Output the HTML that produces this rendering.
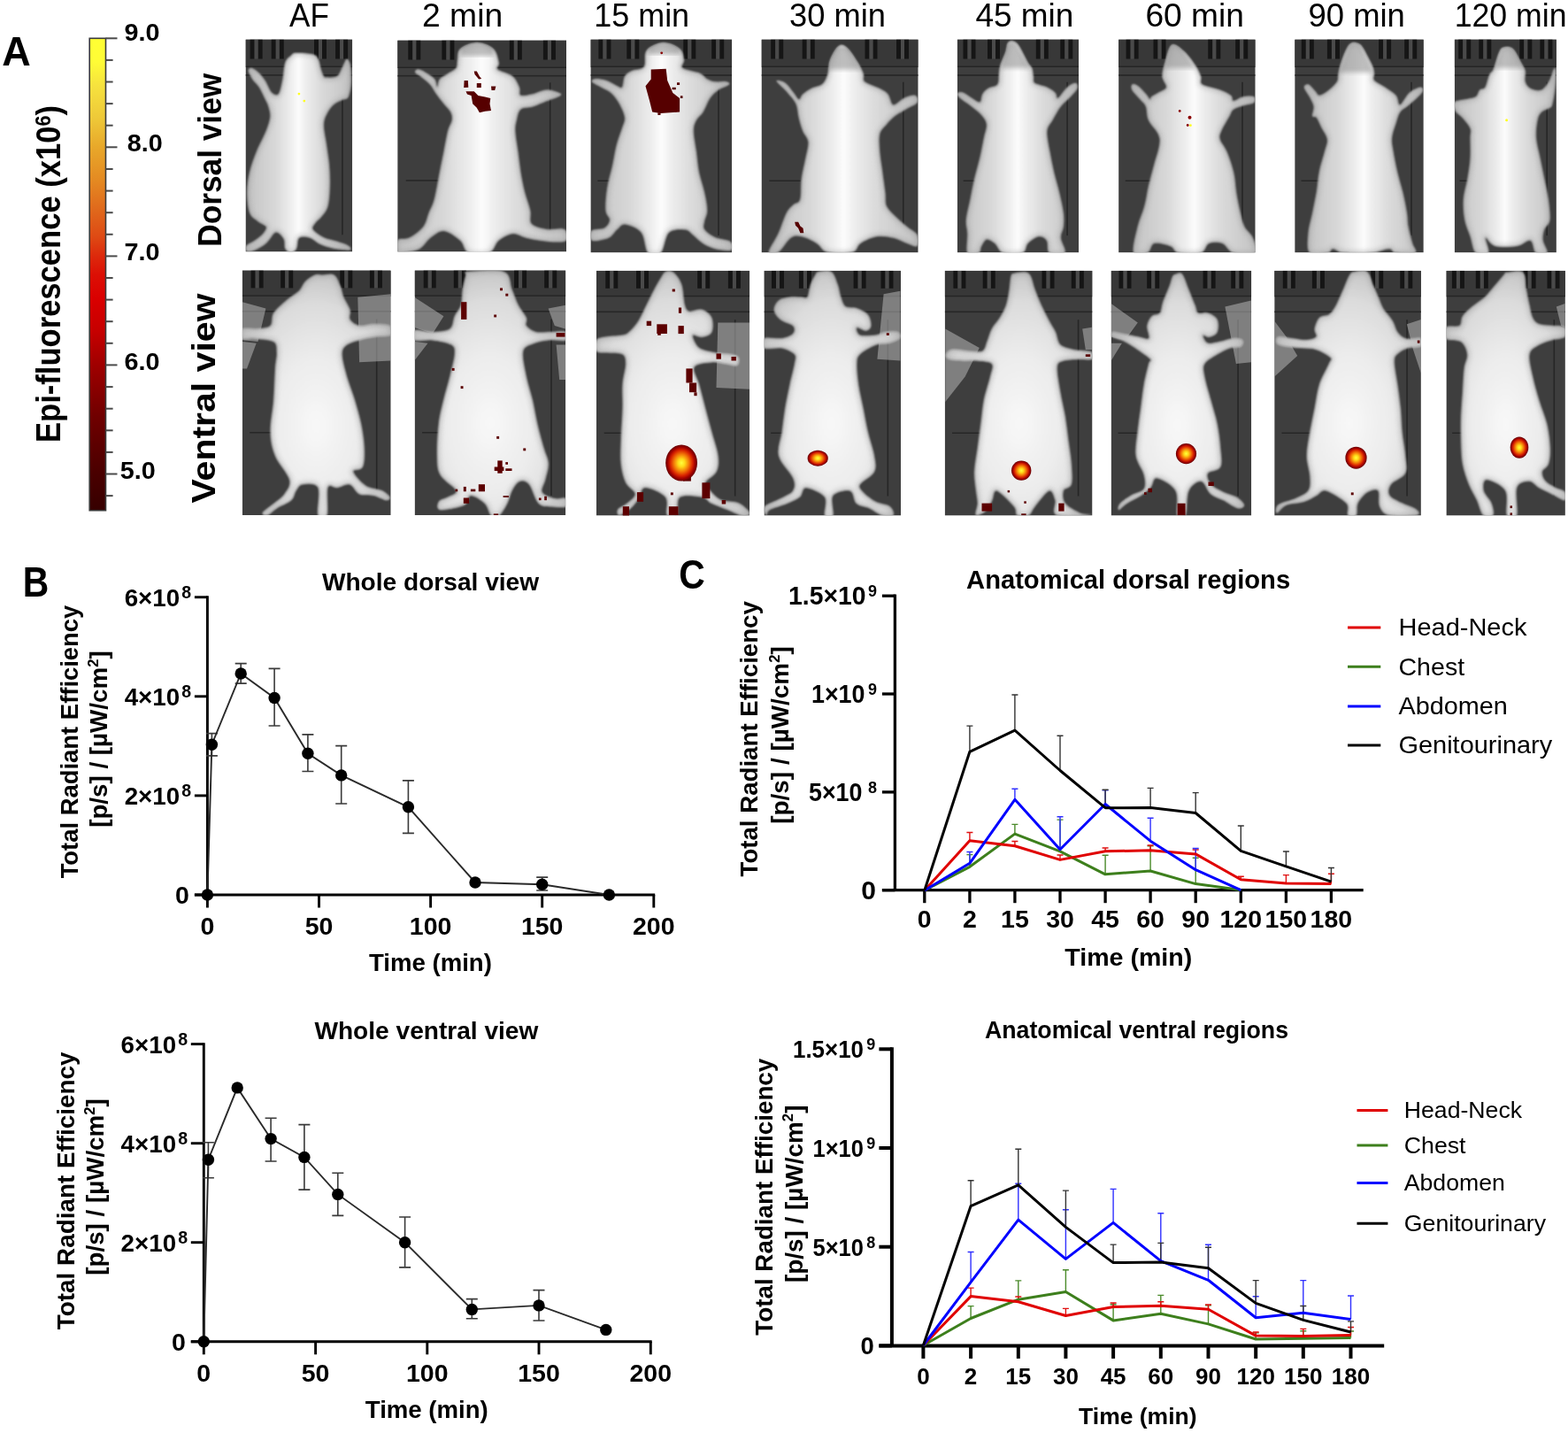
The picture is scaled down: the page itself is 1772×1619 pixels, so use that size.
<!DOCTYPE html>
<html><head><meta charset="utf-8"><title>Figure</title>
<style>html,body{margin:0;padding:0;background:#fff;} svg{display:block;}</style>
</head><body>
<svg width="1772" height="1619" viewBox="0 0 1772 1619" font-family="'Liberation Sans', Arial, sans-serif">
<defs>
<linearGradient id="cbar" x1="0" y1="0" x2="0" y2="1">
<stop offset="0" stop-color="#ffff33"/>
<stop offset="0.05" stop-color="#fffc36"/>
<stop offset="0.1" stop-color="#f6e23e"/>
<stop offset="0.17" stop-color="#eec838"/>
<stop offset="0.23" stop-color="#e8a82a"/>
<stop offset="0.3" stop-color="#e48a22"/>
<stop offset="0.36" stop-color="#e06a1c"/>
<stop offset="0.42" stop-color="#de4a14"/>
<stop offset="0.46" stop-color="#dd2a0c"/>
<stop offset="0.5" stop-color="#dc1005"/>
<stop offset="0.55" stop-color="#da0000"/>
<stop offset="0.62" stop-color="#c60000"/>
<stop offset="0.69" stop-color="#a00000"/>
<stop offset="0.8" stop-color="#700000"/>
<stop offset="0.92" stop-color="#4a0000"/>
<stop offset="1" stop-color="#360000"/>
</linearGradient>
<linearGradient id="mbody" x1="0" y1="0" x2="1" y2="0">
<stop offset="0" stop-color="#c2c2c2"/>
<stop offset="0.28" stop-color="#d8d8d8"/>
<stop offset="0.42" stop-color="#ececec"/>
<stop offset="0.5" stop-color="#fcfcfc"/>
<stop offset="0.58" stop-color="#ececec"/>
<stop offset="0.72" stop-color="#dadada"/>
<stop offset="1" stop-color="#c2c2c2"/>
</linearGradient>
<radialGradient id="vbody" cx="0.5" cy="0.62" r="0.62">
<stop offset="0" stop-color="#f8f8f8"/>
<stop offset="0.45" stop-color="#ececec"/>
<stop offset="0.8" stop-color="#dcdcdc"/>
<stop offset="1" stop-color="#c6c6c6"/>
</radialGradient>
<radialGradient id="hot" cx="0.5" cy="0.5" r="0.5">
<stop offset="0" stop-color="#ffff40"/>
<stop offset="0.22" stop-color="#ffd818"/>
<stop offset="0.48" stop-color="#f27808"/>
<stop offset="0.7" stop-color="#d82400"/>
<stop offset="0.86" stop-color="#a00000"/>
<stop offset="1" stop-color="#640000"/>
</radialGradient>
<filter id="blur1" x="-10%" y="-10%" width="120%" height="120%"><feGaussianBlur stdDeviation="1.2"/></filter>
<filter id="blur2" x="-10%" y="-10%" width="120%" height="120%"><feGaussianBlur stdDeviation="2.5"/></filter>
<clipPath id="clp0"><rect x="277.5" y="44.5" width="120.7" height="240"/></clipPath>
<clipPath id="clp1"><rect x="449.2" y="45.5" width="190.8" height="239"/></clipPath>
<clipPath id="clp2"><rect x="667.4" y="44.5" width="159.8" height="240.9"/></clipPath>
<clipPath id="clp3"><rect x="860.5" y="44.5" width="177.2" height="240.9"/></clipPath>
<clipPath id="clp4"><rect x="1081.8" y="44.5" width="137.2" height="240.9"/></clipPath>
<clipPath id="clp5"><rect x="1264.1" y="44.5" width="154.6" height="240.9"/></clipPath>
<clipPath id="clp6"><rect x="1463.2" y="44.5" width="145.6" height="240.9"/></clipPath>
<clipPath id="clp7"><rect x="1643.7" y="44.5" width="115.2" height="240.9"/></clipPath>
<clipPath id="clp10"><rect x="273.8" y="305.4" width="167.9" height="276.6"/></clipPath>
<clipPath id="clp11"><rect x="468.6" y="305.4" width="170.7" height="276.6"/></clipPath>
<clipPath id="clp12"><rect x="674" y="305.8" width="173.2" height="276.8"/></clipPath>
<clipPath id="clp13"><rect x="863.5" y="305.8" width="154.5" height="276.8"/></clipPath>
<clipPath id="clp14"><rect x="1067.7" y="305.8" width="166.8" height="276.8"/></clipPath>
<clipPath id="clp15"><rect x="1255.6" y="305.8" width="158.6" height="276.8"/></clipPath>
<clipPath id="clp16"><rect x="1440.2" y="305.8" width="165.7" height="276.8"/></clipPath>
<clipPath id="clp17"><rect x="1634.4" y="305.8" width="134.5" height="276.8"/></clipPath>
</defs>
<rect width="1772" height="1619" fill="#fff"/>
<text x="2.2" y="73.6" font-size="46.5" font-weight="bold" text-anchor="start" fill="#000" textLength="32.5" lengthAdjust="spacingAndGlyphs">A</text>
<rect x="101.2" y="43.3" width="18.3" height="533.4" fill="url(#cbar)" stroke="#3a3a3a" stroke-width="1.6"/>
<line x1="119.5" y1="43.3" x2="132.5" y2="43.3" stroke="#4a4a4a" stroke-width="2"/>
<line x1="119.5" y1="67.9" x2="127.6" y2="67.9" stroke="#4a4a4a" stroke-width="2"/>
<line x1="119.5" y1="92.5" x2="127.6" y2="92.5" stroke="#4a4a4a" stroke-width="2"/>
<line x1="119.5" y1="117.1" x2="127.6" y2="117.1" stroke="#4a4a4a" stroke-width="2"/>
<line x1="119.5" y1="141.7" x2="127.6" y2="141.7" stroke="#4a4a4a" stroke-width="2"/>
<line x1="119.5" y1="166.3" x2="132.5" y2="166.3" stroke="#4a4a4a" stroke-width="2"/>
<line x1="119.5" y1="191" x2="127.6" y2="191" stroke="#4a4a4a" stroke-width="2"/>
<line x1="119.5" y1="215.6" x2="127.6" y2="215.6" stroke="#4a4a4a" stroke-width="2"/>
<line x1="119.5" y1="240.2" x2="127.6" y2="240.2" stroke="#4a4a4a" stroke-width="2"/>
<line x1="119.5" y1="264.8" x2="127.6" y2="264.8" stroke="#4a4a4a" stroke-width="2"/>
<line x1="119.5" y1="289.4" x2="132.5" y2="289.4" stroke="#4a4a4a" stroke-width="2"/>
<line x1="119.5" y1="314" x2="127.6" y2="314" stroke="#4a4a4a" stroke-width="2"/>
<line x1="119.5" y1="338.6" x2="127.6" y2="338.6" stroke="#4a4a4a" stroke-width="2"/>
<line x1="119.5" y1="363.2" x2="127.6" y2="363.2" stroke="#4a4a4a" stroke-width="2"/>
<line x1="119.5" y1="387.8" x2="127.6" y2="387.8" stroke="#4a4a4a" stroke-width="2"/>
<line x1="119.5" y1="412.4" x2="132.5" y2="412.4" stroke="#4a4a4a" stroke-width="2"/>
<line x1="119.5" y1="437.1" x2="127.6" y2="437.1" stroke="#4a4a4a" stroke-width="2"/>
<line x1="119.5" y1="461.7" x2="127.6" y2="461.7" stroke="#4a4a4a" stroke-width="2"/>
<line x1="119.5" y1="486.3" x2="127.6" y2="486.3" stroke="#4a4a4a" stroke-width="2"/>
<line x1="119.5" y1="510.9" x2="127.6" y2="510.9" stroke="#4a4a4a" stroke-width="2"/>
<line x1="119.5" y1="535.5" x2="132.5" y2="535.5" stroke="#4a4a4a" stroke-width="2"/>
<line x1="119.5" y1="560.1" x2="127.6" y2="560.1" stroke="#4a4a4a" stroke-width="2"/>
<text x="140.4" y="46.3" font-size="27" font-weight="bold" text-anchor="start" fill="#000" textLength="40" lengthAdjust="spacingAndGlyphs">9.0</text>
<text x="143.7" y="170.5" font-size="27" font-weight="bold" text-anchor="start" fill="#000" textLength="40" lengthAdjust="spacingAndGlyphs">8.0</text>
<text x="140.6" y="294" font-size="27" font-weight="bold" text-anchor="start" fill="#000" textLength="40" lengthAdjust="spacingAndGlyphs">7.0</text>
<text x="140.6" y="418" font-size="27" font-weight="bold" text-anchor="start" fill="#000" textLength="40" lengthAdjust="spacingAndGlyphs">6.0</text>
<text x="135.8" y="541" font-size="27" font-weight="bold" text-anchor="start" fill="#000" textLength="40" lengthAdjust="spacingAndGlyphs">5.0</text>
<text x="0" y="0" transform="translate(68.3,309.5) rotate(-90)" font-size="38.5" font-weight="bold" text-anchor="middle" textLength="381" lengthAdjust="spacingAndGlyphs">Epi-fluorescence (x10<tspan font-size="24" dy="-11.5">6</tspan><tspan dy="11.5">)</tspan></text>
<text x="0" y="0" transform="translate(249.5,180.8) rotate(-90)" font-size="37" font-weight="bold" text-anchor="middle" fill="#000" textLength="196" lengthAdjust="spacingAndGlyphs">Dorsal view</text>
<text x="0" y="0" transform="translate(242.8,450) rotate(-90)" font-size="37" font-weight="bold" text-anchor="middle" fill="#000" textLength="237" lengthAdjust="spacingAndGlyphs">Ventral view</text>
<text x="327.1" y="30" font-size="36" text-anchor="start" fill="#000" textLength="44.8" lengthAdjust="spacingAndGlyphs">AF</text>
<text x="477" y="30" font-size="36" text-anchor="start" fill="#000" textLength="91.2" lengthAdjust="spacingAndGlyphs">2 min</text>
<text x="671.3" y="30" font-size="36" text-anchor="start" fill="#000" textLength="107.8" lengthAdjust="spacingAndGlyphs">15 min</text>
<text x="892" y="30" font-size="36" text-anchor="start" fill="#000" textLength="108.9" lengthAdjust="spacingAndGlyphs">30 min</text>
<text x="1102.4" y="30" font-size="36" text-anchor="start" fill="#000" textLength="111" lengthAdjust="spacingAndGlyphs">45 min</text>
<text x="1294.4" y="30" font-size="36" text-anchor="start" fill="#000" textLength="111.5" lengthAdjust="spacingAndGlyphs">60 min</text>
<text x="1478.5" y="30" font-size="36" text-anchor="start" fill="#000" textLength="109.4" lengthAdjust="spacingAndGlyphs">90 min</text>
<text x="1643.7" y="30" font-size="36" text-anchor="start" fill="#000" textLength="126.8" lengthAdjust="spacingAndGlyphs">120 min</text>
<g clip-path="url(#clp0)">
<rect x="277.5" y="44.5" width="120.7" height="240" fill="#3e3e3e"/>
<rect x="277.5" y="44.5" width="120.7" height="30" fill="#383838"/>
<rect x="277.5" y="74.5" width="120.7" height="1.5" fill="#252525"/>
<rect x="282.6" y="44.5" width="5" height="22" fill="#151515"/>
<rect x="291.6" y="44.5" width="5" height="22" fill="#151515"/>
<rect x="287.6" y="44.5" width="4" height="22" fill="#4a4a4a"/>
<rect x="306.7" y="44.5" width="5" height="22" fill="#151515"/>
<rect x="315.7" y="44.5" width="5" height="22" fill="#151515"/>
<rect x="311.7" y="44.5" width="4" height="22" fill="#4a4a4a"/>
<rect x="355" y="44.5" width="5" height="22" fill="#151515"/>
<rect x="364" y="44.5" width="5" height="22" fill="#151515"/>
<rect x="360" y="44.5" width="4" height="22" fill="#4a4a4a"/>
<rect x="379.1" y="44.5" width="5" height="22" fill="#151515"/>
<rect x="388.1" y="44.5" width="5" height="22" fill="#151515"/>
<rect x="384.1" y="44.5" width="4" height="22" fill="#4a4a4a"/>
<rect x="277.5" y="84.1" width="120.7" height="1.6" fill="#262626"/>
<rect x="386.1" y="92.5" width="1.6" height="172.8" fill="#262626"/>
<rect x="283.5" y="202.9" width="24.1" height="1.5" fill="#262626"/>
<path d="M334.8,60.1 C338.9,59.8 349.2,60.5 353.3,61.6 C357.5,62.8 358,64.2 359.5,67 C361.1,69.8 361.6,75.4 362.6,78.6 C363.6,81.8 364.7,84.8 365.7,86.3 C366.7,87.8 366.2,87.8 368.8,87.8 C371.4,87.8 378,88.4 381.1,86.3 C384.2,84.2 385.5,78.7 387.3,75.5 C389.1,72.3 390.5,67.3 391.9,67 C393.3,66.8 395,69.5 395.8,74 C396.6,78.5 396.9,88.1 396.6,94 C396.2,99.9 395,106.4 393.5,109.5 C391.9,112.5 389.9,111.3 387.3,112.5 C384.7,113.8 380.9,114.9 378,117.2 C375.2,119.5 372.4,122.6 370.3,126.4 C368.3,130.3 366,134.2 365.7,140.3 C365.4,146.5 367.8,155.8 368.8,163.5 C369.8,171.2 371.2,178.9 371.9,186.6 C372.5,194.3 372.9,202.1 372.6,209.8 C372.4,217.5 372,227 370.3,232.9 C368.7,238.8 364.9,242.2 362.6,245.3 C360.3,248.4 358,249.1 356.4,251.5 C354.9,253.8 351.8,256.3 353.3,259.2 C354.9,262 361.1,266.1 365.7,268.4 C370.3,270.7 376.5,271.5 381.1,273.1 C385.8,274.6 391.2,276.1 393.5,277.7 C395.8,279.2 397.6,281.8 395,282.3 C392.4,282.8 383.4,281.8 378,280.8 C372.6,279.7 367.2,278.2 362.6,276.1 C358,274.1 354.4,269.7 350.3,268.4 C346.1,267.1 340.5,266.4 337.9,268.4 C335.3,270.5 336.4,277.9 334.8,280.8 C333.3,283.6 330.7,285.4 328.7,285.4 C326.6,285.4 323.8,283.4 322.5,280.8 C321.2,278.2 322.7,273.1 320.9,270 C319.1,266.9 315,261.5 311.7,262.3 C308.3,263 304.7,271.3 300.9,274.6 C297,277.9 292.1,280.8 288.5,282.3 C284.9,283.9 280.9,284.6 279.3,283.9 C277.6,283.1 276.9,279.7 278.5,277.7 C280,275.6 285.3,273.8 288.5,271.5 C291.7,269.2 295.7,266.4 297.8,263.8 C299.8,261.2 301.9,258.4 300.9,256.1 C299.8,253.8 294.7,252.5 291.6,249.9 C288.5,247.3 284.4,246.1 282.3,240.6 C280.3,235.2 279.3,225.2 279.3,217.5 C279.3,209.8 280.5,202.1 282.3,194.3 C284.1,186.6 287,178.9 290.1,171.2 C293.2,163.5 298.3,154.5 300.9,148 C303.4,141.6 305,137 305.5,132.6 C306,128.2 304.7,124.9 304,121.8 C303.2,118.7 302.7,117.9 300.9,114.1 C299.1,110.2 295.7,102.8 293.2,98.7 C290.6,94.5 287.5,92.5 285.4,89.4 C283.4,86.3 281.1,82.2 280.8,80.1 C280.5,78.1 282.1,76.8 283.9,77 C285.7,77.3 289,79.4 291.6,81.7 C294.2,84 296.8,87.1 299.3,90.9 C301.9,94.8 304.5,102.3 307,104.8 C309.6,107.4 312.7,108.7 314.8,106.4 C316.8,104.1 318.1,96.9 319.4,90.9 C320.7,85 320.9,75.5 322.5,70.9 C324,66.2 326.6,65 328.7,63.2 C330.7,61.4 330.7,60.3 334.8,60.1 Z" fill="url(#mbody)" filter="url(#blur1)"/>
<clipPath id="clp0n"><path d="M334.8,60.1 C338.9,59.8 349.2,60.5 353.3,61.6 C357.5,62.8 358,64.2 359.5,67 C361.1,69.8 361.6,75.4 362.6,78.6 C363.6,81.8 364.7,84.8 365.7,86.3 C366.7,87.8 366.2,87.8 368.8,87.8 C371.4,87.8 378,88.4 381.1,86.3 C384.2,84.2 385.5,78.7 387.3,75.5 C389.1,72.3 390.5,67.3 391.9,67 C393.3,66.8 395,69.5 395.8,74 C396.6,78.5 396.9,88.1 396.6,94 C396.2,99.9 395,106.4 393.5,109.5 C391.9,112.5 389.9,111.3 387.3,112.5 C384.7,113.8 380.9,114.9 378,117.2 C375.2,119.5 372.4,122.6 370.3,126.4 C368.3,130.3 366,134.2 365.7,140.3 C365.4,146.5 367.8,155.8 368.8,163.5 C369.8,171.2 371.2,178.9 371.9,186.6 C372.5,194.3 372.9,202.1 372.6,209.8 C372.4,217.5 372,227 370.3,232.9 C368.7,238.8 364.9,242.2 362.6,245.3 C360.3,248.4 358,249.1 356.4,251.5 C354.9,253.8 351.8,256.3 353.3,259.2 C354.9,262 361.1,266.1 365.7,268.4 C370.3,270.7 376.5,271.5 381.1,273.1 C385.8,274.6 391.2,276.1 393.5,277.7 C395.8,279.2 397.6,281.8 395,282.3 C392.4,282.8 383.4,281.8 378,280.8 C372.6,279.7 367.2,278.2 362.6,276.1 C358,274.1 354.4,269.7 350.3,268.4 C346.1,267.1 340.5,266.4 337.9,268.4 C335.3,270.5 336.4,277.9 334.8,280.8 C333.3,283.6 330.7,285.4 328.7,285.4 C326.6,285.4 323.8,283.4 322.5,280.8 C321.2,278.2 322.7,273.1 320.9,270 C319.1,266.9 315,261.5 311.7,262.3 C308.3,263 304.7,271.3 300.9,274.6 C297,277.9 292.1,280.8 288.5,282.3 C284.9,283.9 280.9,284.6 279.3,283.9 C277.6,283.1 276.9,279.7 278.5,277.7 C280,275.6 285.3,273.8 288.5,271.5 C291.7,269.2 295.7,266.4 297.8,263.8 C299.8,261.2 301.9,258.4 300.9,256.1 C299.8,253.8 294.7,252.5 291.6,249.9 C288.5,247.3 284.4,246.1 282.3,240.6 C280.3,235.2 279.3,225.2 279.3,217.5 C279.3,209.8 280.5,202.1 282.3,194.3 C284.1,186.6 287,178.9 290.1,171.2 C293.2,163.5 298.3,154.5 300.9,148 C303.4,141.6 305,137 305.5,132.6 C306,128.2 304.7,124.9 304,121.8 C303.2,118.7 302.7,117.9 300.9,114.1 C299.1,110.2 295.7,102.8 293.2,98.7 C290.6,94.5 287.5,92.5 285.4,89.4 C283.4,86.3 281.1,82.2 280.8,80.1 C280.5,78.1 282.1,76.8 283.9,77 C285.7,77.3 289,79.4 291.6,81.7 C294.2,84 296.8,87.1 299.3,90.9 C301.9,94.8 304.5,102.3 307,104.8 C309.6,107.4 312.7,108.7 314.8,106.4 C316.8,104.1 318.1,96.9 319.4,90.9 C320.7,85 320.9,75.5 322.5,70.9 C324,66.2 326.6,65 328.7,63.2 C330.7,61.4 330.7,60.3 334.8,60.1 Z"/></clipPath>
<g clip-path="url(#clp0n)"><path d="M334.8,60.1 C338.9,59.8 349.2,60.5 353.3,61.6 C357.5,62.8 358,64.2 359.5,67 C361.1,69.8 361.6,75.4 362.6,78.6 C363.6,81.8 364.7,84.8 365.7,86.3 C366.7,87.8 366.2,87.8 368.8,87.8 C371.4,87.8 378,88.4 381.1,86.3 C384.2,84.2 385.5,78.7 387.3,75.5 C389.1,72.3 390.5,67.3 391.9,67 C393.3,66.8 395,69.5 395.8,74 C396.6,78.5 396.9,88.1 396.6,94 C396.2,99.9 395,106.4 393.5,109.5 C391.9,112.5 389.9,111.3 387.3,112.5 C384.7,113.8 380.9,114.9 378,117.2 C375.2,119.5 372.4,122.6 370.3,126.4 C368.3,130.3 366,134.2 365.7,140.3 C365.4,146.5 367.8,155.8 368.8,163.5 C369.8,171.2 371.2,178.9 371.9,186.6 C372.5,194.3 372.9,202.1 372.6,209.8 C372.4,217.5 372,227 370.3,232.9 C368.7,238.8 364.9,242.2 362.6,245.3 C360.3,248.4 358,249.1 356.4,251.5 C354.9,253.8 351.8,256.3 353.3,259.2 C354.9,262 361.1,266.1 365.7,268.4 C370.3,270.7 376.5,271.5 381.1,273.1 C385.8,274.6 391.2,276.1 393.5,277.7 C395.8,279.2 397.6,281.8 395,282.3 C392.4,282.8 383.4,281.8 378,280.8 C372.6,279.7 367.2,278.2 362.6,276.1 C358,274.1 354.4,269.7 350.3,268.4 C346.1,267.1 340.5,266.4 337.9,268.4 C335.3,270.5 336.4,277.9 334.8,280.8 C333.3,283.6 330.7,285.4 328.7,285.4 C326.6,285.4 323.8,283.4 322.5,280.8 C321.2,278.2 322.7,273.1 320.9,270 C319.1,266.9 315,261.5 311.7,262.3 C308.3,263 304.7,271.3 300.9,274.6 C297,277.9 292.1,280.8 288.5,282.3 C284.9,283.9 280.9,284.6 279.3,283.9 C277.6,283.1 276.9,279.7 278.5,277.7 C280,275.6 285.3,273.8 288.5,271.5 C291.7,269.2 295.7,266.4 297.8,263.8 C299.8,261.2 301.9,258.4 300.9,256.1 C299.8,253.8 294.7,252.5 291.6,249.9 C288.5,247.3 284.4,246.1 282.3,240.6 C280.3,235.2 279.3,225.2 279.3,217.5 C279.3,209.8 280.5,202.1 282.3,194.3 C284.1,186.6 287,178.9 290.1,171.2 C293.2,163.5 298.3,154.5 300.9,148 C303.4,141.6 305,137 305.5,132.6 C306,128.2 304.7,124.9 304,121.8 C303.2,118.7 302.7,117.9 300.9,114.1 C299.1,110.2 295.7,102.8 293.2,98.7 C290.6,94.5 287.5,92.5 285.4,89.4 C283.4,86.3 281.1,82.2 280.8,80.1 C280.5,78.1 282.1,76.8 283.9,77 C285.7,77.3 289,79.4 291.6,81.7 C294.2,84 296.8,87.1 299.3,90.9 C301.9,94.8 304.5,102.3 307,104.8 C309.6,107.4 312.7,108.7 314.8,106.4 C316.8,104.1 318.1,96.9 319.4,90.9 C320.7,85 320.9,75.5 322.5,70.9 C324,66.2 326.6,65 328.7,63.2 C330.7,61.4 330.7,60.3 334.8,60.1 Z" fill="none" stroke="#8c8c8c" stroke-width="6" opacity="0.35" filter="url(#blur2)"/></g>
<g clip-path="url(#clp0n)"><polygon points="327.1,44.6 351.8,44.6 350.3,57 328.7,57" fill="#8a8a8a" opacity="0.55" filter="url(#blur2)"/></g>
<circle cx="337.9" cy="106.1" r="1.4" fill="#ffff20"/>
<circle cx="343.8" cy="114.1" r="1.4" fill="#ffff20"/>
</g>
<g clip-path="url(#clp1)">
<rect x="449.2" y="45.5" width="190.8" height="239" fill="#3e3e3e"/>
<rect x="449.2" y="45.5" width="190.8" height="30" fill="#383838"/>
<rect x="449.2" y="75.5" width="190.8" height="1.5" fill="#252525"/>
<rect x="461.3" y="45.5" width="5" height="22" fill="#151515"/>
<rect x="470.3" y="45.5" width="5" height="22" fill="#151515"/>
<rect x="466.3" y="45.5" width="4" height="22" fill="#4a4a4a"/>
<rect x="499.4" y="45.5" width="5" height="22" fill="#151515"/>
<rect x="508.4" y="45.5" width="5" height="22" fill="#151515"/>
<rect x="504.4" y="45.5" width="4" height="22" fill="#4a4a4a"/>
<rect x="575.8" y="45.5" width="5" height="22" fill="#151515"/>
<rect x="584.8" y="45.5" width="5" height="22" fill="#151515"/>
<rect x="580.8" y="45.5" width="4" height="22" fill="#4a4a4a"/>
<rect x="613.9" y="45.5" width="5" height="22" fill="#151515"/>
<rect x="622.9" y="45.5" width="5" height="22" fill="#151515"/>
<rect x="618.9" y="45.5" width="4" height="22" fill="#4a4a4a"/>
<rect x="449.2" y="84.9" width="190.8" height="1.6" fill="#262626"/>
<rect x="620.9" y="93.3" width="1.6" height="172.1" fill="#262626"/>
<rect x="458.7" y="203.2" width="38.2" height="1.5" fill="#262626"/>
<path d="M520.3,55.4 C523.9,52.2 532.6,48.5 538.8,48.5 C545,48.5 553.2,51.7 557.4,55.4 C561.5,59.2 562.8,67 563.5,70.9 C564.3,74.7 559.4,76 562,78.6 C564.6,81.2 574.9,83 579,86.3 C583.1,89.7 585.2,95.1 586.7,98.7 C588.2,102.3 585.7,106.7 588.2,107.9 C590.8,109.2 597.2,107.4 602.1,106.4 C607,105.4 612.7,102 617.6,101.8 C622.5,101.5 628.9,103.8 631.5,104.9 C634,105.9 635.3,106.4 633,107.9 C630.7,109.5 622.7,112.1 617.6,114.1 C612.4,116.2 607,118.8 602.1,120.3 C597.2,121.8 591.3,120.8 588.2,123.4 C585.2,126 584.6,131.6 583.6,135.7 C582.6,139.9 581.8,142.2 582.1,148.1 C582.3,154 584.1,163.5 585.2,171.3 C586.2,179 587,186.7 588.2,194.4 C589.5,202.1 591.1,210.4 592.9,217.6 C594.7,224.8 597.8,231.7 599,237.7 C600.3,243.6 597.5,249.5 600.6,253.1 C603.7,256.7 611.4,258.2 617.6,259.3 C623.8,260.3 633.9,257.2 637.7,259.3 C641.4,261.3 642,269.3 640,271.6 C637.9,273.9 630.3,273.2 625.3,273.2 C620.3,273.2 615,272.4 609.9,271.6 C604.7,270.9 599.6,269.8 594.4,268.5 C589.3,267.2 584.1,263.4 579,263.9 C573.8,264.4 567.9,268 563.5,271.6 C559.2,275.2 558.4,283.2 552.7,285.5 C547.1,287.8 535,287.8 529.6,285.5 C524.2,283.2 524.9,275.7 520.3,271.6 C515.7,267.5 507.4,261.3 501.8,260.8 C496.1,260.3 491,265.2 486.3,268.5 C481.7,271.9 479.1,278.1 474,280.9 C468.8,283.7 459.6,284.7 455.4,285.5 C451.3,286.3 450.3,287.8 449.3,285.5 C448.2,283.2 446.9,274.5 449.3,271.6 C451.6,268.8 458.3,271.1 463.2,268.5 C468.1,266 475,260.8 478.6,256.2 C482.2,251.6 482.7,245.9 484.8,240.7 C486.8,235.6 488.9,233 491,225.3 C493,217.6 495.3,203.4 497.1,194.4 C498.9,185.4 500.2,179 501.8,171.3 C503.3,163.5 504.9,154 506.4,148.1 C507.9,142.2 510.5,139.3 511,135.7 C511.5,132.1 511,129.6 509.5,126.5 C507.9,123.4 504.6,120.8 501.8,117.2 C498.9,113.6 495.1,108.5 492.5,104.9 C489.9,101.3 489.2,98.7 486.3,95.6 C483.5,92.5 478.3,88.6 475.5,86.3 C472.7,84 469.9,83 469.3,81.7 C468.8,80.4 470.6,78.6 472.4,78.6 C474.2,78.6 477.1,79.9 480.1,81.7 C483.2,83.5 488.6,86.6 491,89.4 C493.3,92.2 493,98.7 494,98.7 C495.1,98.7 495.1,92 497.1,89.4 C499.2,86.8 503.3,85.3 506.4,83.2 C509.5,81.2 513.9,79.6 515.7,77.1 C517.5,74.5 516.4,71.4 517.2,67.8 C518,64.2 516.7,58.7 520.3,55.4 Z" fill="url(#mbody)" filter="url(#blur1)"/>
<clipPath id="clp1n"><path d="M520.3,55.4 C523.9,52.2 532.6,48.5 538.8,48.5 C545,48.5 553.2,51.7 557.4,55.4 C561.5,59.2 562.8,67 563.5,70.9 C564.3,74.7 559.4,76 562,78.6 C564.6,81.2 574.9,83 579,86.3 C583.1,89.7 585.2,95.1 586.7,98.7 C588.2,102.3 585.7,106.7 588.2,107.9 C590.8,109.2 597.2,107.4 602.1,106.4 C607,105.4 612.7,102 617.6,101.8 C622.5,101.5 628.9,103.8 631.5,104.9 C634,105.9 635.3,106.4 633,107.9 C630.7,109.5 622.7,112.1 617.6,114.1 C612.4,116.2 607,118.8 602.1,120.3 C597.2,121.8 591.3,120.8 588.2,123.4 C585.2,126 584.6,131.6 583.6,135.7 C582.6,139.9 581.8,142.2 582.1,148.1 C582.3,154 584.1,163.5 585.2,171.3 C586.2,179 587,186.7 588.2,194.4 C589.5,202.1 591.1,210.4 592.9,217.6 C594.7,224.8 597.8,231.7 599,237.7 C600.3,243.6 597.5,249.5 600.6,253.1 C603.7,256.7 611.4,258.2 617.6,259.3 C623.8,260.3 633.9,257.2 637.7,259.3 C641.4,261.3 642,269.3 640,271.6 C637.9,273.9 630.3,273.2 625.3,273.2 C620.3,273.2 615,272.4 609.9,271.6 C604.7,270.9 599.6,269.8 594.4,268.5 C589.3,267.2 584.1,263.4 579,263.9 C573.8,264.4 567.9,268 563.5,271.6 C559.2,275.2 558.4,283.2 552.7,285.5 C547.1,287.8 535,287.8 529.6,285.5 C524.2,283.2 524.9,275.7 520.3,271.6 C515.7,267.5 507.4,261.3 501.8,260.8 C496.1,260.3 491,265.2 486.3,268.5 C481.7,271.9 479.1,278.1 474,280.9 C468.8,283.7 459.6,284.7 455.4,285.5 C451.3,286.3 450.3,287.8 449.3,285.5 C448.2,283.2 446.9,274.5 449.3,271.6 C451.6,268.8 458.3,271.1 463.2,268.5 C468.1,266 475,260.8 478.6,256.2 C482.2,251.6 482.7,245.9 484.8,240.7 C486.8,235.6 488.9,233 491,225.3 C493,217.6 495.3,203.4 497.1,194.4 C498.9,185.4 500.2,179 501.8,171.3 C503.3,163.5 504.9,154 506.4,148.1 C507.9,142.2 510.5,139.3 511,135.7 C511.5,132.1 511,129.6 509.5,126.5 C507.9,123.4 504.6,120.8 501.8,117.2 C498.9,113.6 495.1,108.5 492.5,104.9 C489.9,101.3 489.2,98.7 486.3,95.6 C483.5,92.5 478.3,88.6 475.5,86.3 C472.7,84 469.9,83 469.3,81.7 C468.8,80.4 470.6,78.6 472.4,78.6 C474.2,78.6 477.1,79.9 480.1,81.7 C483.2,83.5 488.6,86.6 491,89.4 C493.3,92.2 493,98.7 494,98.7 C495.1,98.7 495.1,92 497.1,89.4 C499.2,86.8 503.3,85.3 506.4,83.2 C509.5,81.2 513.9,79.6 515.7,77.1 C517.5,74.5 516.4,71.4 517.2,67.8 C518,64.2 516.7,58.7 520.3,55.4 Z"/></clipPath>
<g clip-path="url(#clp1n)"><path d="M520.3,55.4 C523.9,52.2 532.6,48.5 538.8,48.5 C545,48.5 553.2,51.7 557.4,55.4 C561.5,59.2 562.8,67 563.5,70.9 C564.3,74.7 559.4,76 562,78.6 C564.6,81.2 574.9,83 579,86.3 C583.1,89.7 585.2,95.1 586.7,98.7 C588.2,102.3 585.7,106.7 588.2,107.9 C590.8,109.2 597.2,107.4 602.1,106.4 C607,105.4 612.7,102 617.6,101.8 C622.5,101.5 628.9,103.8 631.5,104.9 C634,105.9 635.3,106.4 633,107.9 C630.7,109.5 622.7,112.1 617.6,114.1 C612.4,116.2 607,118.8 602.1,120.3 C597.2,121.8 591.3,120.8 588.2,123.4 C585.2,126 584.6,131.6 583.6,135.7 C582.6,139.9 581.8,142.2 582.1,148.1 C582.3,154 584.1,163.5 585.2,171.3 C586.2,179 587,186.7 588.2,194.4 C589.5,202.1 591.1,210.4 592.9,217.6 C594.7,224.8 597.8,231.7 599,237.7 C600.3,243.6 597.5,249.5 600.6,253.1 C603.7,256.7 611.4,258.2 617.6,259.3 C623.8,260.3 633.9,257.2 637.7,259.3 C641.4,261.3 642,269.3 640,271.6 C637.9,273.9 630.3,273.2 625.3,273.2 C620.3,273.2 615,272.4 609.9,271.6 C604.7,270.9 599.6,269.8 594.4,268.5 C589.3,267.2 584.1,263.4 579,263.9 C573.8,264.4 567.9,268 563.5,271.6 C559.2,275.2 558.4,283.2 552.7,285.5 C547.1,287.8 535,287.8 529.6,285.5 C524.2,283.2 524.9,275.7 520.3,271.6 C515.7,267.5 507.4,261.3 501.8,260.8 C496.1,260.3 491,265.2 486.3,268.5 C481.7,271.9 479.1,278.1 474,280.9 C468.8,283.7 459.6,284.7 455.4,285.5 C451.3,286.3 450.3,287.8 449.3,285.5 C448.2,283.2 446.9,274.5 449.3,271.6 C451.6,268.8 458.3,271.1 463.2,268.5 C468.1,266 475,260.8 478.6,256.2 C482.2,251.6 482.7,245.9 484.8,240.7 C486.8,235.6 488.9,233 491,225.3 C493,217.6 495.3,203.4 497.1,194.4 C498.9,185.4 500.2,179 501.8,171.3 C503.3,163.5 504.9,154 506.4,148.1 C507.9,142.2 510.5,139.3 511,135.7 C511.5,132.1 511,129.6 509.5,126.5 C507.9,123.4 504.6,120.8 501.8,117.2 C498.9,113.6 495.1,108.5 492.5,104.9 C489.9,101.3 489.2,98.7 486.3,95.6 C483.5,92.5 478.3,88.6 475.5,86.3 C472.7,84 469.9,83 469.3,81.7 C468.8,80.4 470.6,78.6 472.4,78.6 C474.2,78.6 477.1,79.9 480.1,81.7 C483.2,83.5 488.6,86.6 491,89.4 C493.3,92.2 493,98.7 494,98.7 C495.1,98.7 495.1,92 497.1,89.4 C499.2,86.8 503.3,85.3 506.4,83.2 C509.5,81.2 513.9,79.6 515.7,77.1 C517.5,74.5 516.4,71.4 517.2,67.8 C518,64.2 516.7,58.7 520.3,55.4 Z" fill="none" stroke="#8c8c8c" stroke-width="6" opacity="0.35" filter="url(#blur2)"/></g>
<g clip-path="url(#clp1n)"><polygon points="518.8,47.7 558.9,47.7 557.4,63.2 520.3,63.2" fill="#8a8a8a" opacity="0.55" filter="url(#blur2)"/></g>
<polygon points="526.5,103.3 535.7,103.3 540.4,107.9 548.1,109.5 554.3,111 553.5,117.2 555,124.9 548.1,125.7 541.9,127.2 538.8,121.8 534.2,117.2 532.6,107.9 528,106.4" fill="#560000"/>
<polygon points="535.7,80.5 538.8,80.5 541.9,86.3 544.2,89.1 541.1,89.4 536.5,84" fill="#560000"/>
<polygon points="524.6,91 528.8,91 529.3,98.7 524.2,99" fill="#560000"/>
<polygon points="538.8,94 543.8,94 543.8,99 538.8,99" fill="#560000"/>
<polygon points="555,97.4 560.4,97.4 559.2,102.1 555.5,102.1" fill="#560000"/>
</g>
<g clip-path="url(#clp2)">
<rect x="667.4" y="44.5" width="159.8" height="240.9" fill="#3e3e3e"/>
<rect x="667.4" y="44.5" width="159.8" height="30" fill="#383838"/>
<rect x="667.4" y="74.5" width="159.8" height="1.5" fill="#252525"/>
<rect x="676.4" y="44.5" width="5" height="22" fill="#151515"/>
<rect x="685.4" y="44.5" width="5" height="22" fill="#151515"/>
<rect x="681.4" y="44.5" width="4" height="22" fill="#4a4a4a"/>
<rect x="708.3" y="44.5" width="5" height="22" fill="#151515"/>
<rect x="717.3" y="44.5" width="5" height="22" fill="#151515"/>
<rect x="713.3" y="44.5" width="4" height="22" fill="#4a4a4a"/>
<rect x="772.3" y="44.5" width="5" height="22" fill="#151515"/>
<rect x="781.3" y="44.5" width="5" height="22" fill="#151515"/>
<rect x="777.3" y="44.5" width="4" height="22" fill="#4a4a4a"/>
<rect x="804.2" y="44.5" width="5" height="22" fill="#151515"/>
<rect x="813.2" y="44.5" width="5" height="22" fill="#151515"/>
<rect x="809.2" y="44.5" width="4" height="22" fill="#4a4a4a"/>
<rect x="667.4" y="84.2" width="159.8" height="1.6" fill="#262626"/>
<rect x="811.2" y="92.7" width="1.6" height="173.4" fill="#262626"/>
<rect x="675.4" y="203.5" width="32" height="1.5" fill="#262626"/>
<path d="M731.1,57 C734.7,52.5 743.4,48.8 749.6,48.5 C755.8,48.2 764.3,52.2 768.1,55.4 C772,58.7 772.2,64.2 772.8,67.8 C773.3,71.4 768.1,74.5 771.2,77.1 C774.3,79.6 786.7,81.2 791.3,83.2 C795.9,85.3 796.2,87.9 799,89.4 C801.8,91 804.7,92 808.3,92.5 C811.9,93 818.1,92 820.6,92.5 C823.2,93 825.3,94.1 823.7,95.6 C822.2,97.2 815,99.2 811.4,101.8 C807.8,104.4 804.9,106.9 802.1,111.1 C799.3,115.2 797,122.4 794.4,126.5 C791.8,130.6 788.5,132.2 786.7,135.8 C784.9,139.4 783.6,142.2 783.6,148.1 C783.6,154 785.6,163.6 786.7,171.3 C787.7,179 788.2,186.7 789.7,194.5 C791.3,202.2 794.4,210.4 795.9,217.6 C797.5,224.8 799,232.3 799,237.7 C799,243.1 796.4,246.5 795.9,250.1 C795.4,253.7 793.9,256.2 795.9,259.3 C798,262.4 803.4,266.3 808.3,268.6 C813.2,270.9 822.3,270.9 825.3,273.2 C828.2,275.6 828.9,281.2 826,282.5 C823.2,283.8 813.6,282.3 808.3,281 C803,279.7 798.5,277.4 794.4,274.8 C790.3,272.2 786.9,268.1 783.6,265.5 C780.2,262.9 778.9,259.9 774.3,259.3 C769.7,258.8 760.4,258.1 755.8,262.4 C751.1,266.8 750.4,281.7 746.5,285.6 C742.6,289.5 736.2,289.5 732.6,285.6 C729,281.7 729.3,267.8 724.9,262.4 C720.5,257 711,253.7 706.3,253.2 C701.7,252.6 700.2,256.8 697.1,259.3 C694,261.9 692.4,266.5 687.8,268.6 C683.2,270.7 672.5,273 669.3,271.7 C666,270.4 666.2,263.2 668.5,260.9 C670.8,258.6 679.7,259.9 683.2,257.8 C686.6,255.7 689.1,251.9 689.3,248.5 C689.6,245.2 685.2,243.6 684.7,237.7 C684.2,231.8 685,221.5 686.3,213 C687.5,204.5 690.6,195 692.4,186.7 C694.2,178.5 695.3,170.5 697.1,163.6 C698.9,156.6 701.7,150.2 703.2,145 C704.8,139.9 706.9,137.3 706.3,132.7 C705.8,128 702.7,121.9 700.2,117.2 C697.6,112.6 694.2,108 690.9,104.9 C687.5,101.8 683.7,100.8 680.1,98.7 C676.5,96.6 670.6,94.1 669.3,92.5 C668,91 669.8,89.7 672.4,89.4 C674.9,89.2 680.6,89.7 684.7,91 C688.8,92.3 694,95.9 697.1,97.2 C700.2,98.4 701.7,100.5 703.2,98.7 C704.8,96.9 704.5,89.4 706.3,86.3 C708.1,83.2 710.5,82 714.1,80.2 C717.7,78.4 725.1,79.4 728,75.5 C730.8,71.7 727.4,61.5 731.1,57 Z" fill="url(#mbody)" filter="url(#blur1)"/>
<clipPath id="clp2n"><path d="M731.1,57 C734.7,52.5 743.4,48.8 749.6,48.5 C755.8,48.2 764.3,52.2 768.1,55.4 C772,58.7 772.2,64.2 772.8,67.8 C773.3,71.4 768.1,74.5 771.2,77.1 C774.3,79.6 786.7,81.2 791.3,83.2 C795.9,85.3 796.2,87.9 799,89.4 C801.8,91 804.7,92 808.3,92.5 C811.9,93 818.1,92 820.6,92.5 C823.2,93 825.3,94.1 823.7,95.6 C822.2,97.2 815,99.2 811.4,101.8 C807.8,104.4 804.9,106.9 802.1,111.1 C799.3,115.2 797,122.4 794.4,126.5 C791.8,130.6 788.5,132.2 786.7,135.8 C784.9,139.4 783.6,142.2 783.6,148.1 C783.6,154 785.6,163.6 786.7,171.3 C787.7,179 788.2,186.7 789.7,194.5 C791.3,202.2 794.4,210.4 795.9,217.6 C797.5,224.8 799,232.3 799,237.7 C799,243.1 796.4,246.5 795.9,250.1 C795.4,253.7 793.9,256.2 795.9,259.3 C798,262.4 803.4,266.3 808.3,268.6 C813.2,270.9 822.3,270.9 825.3,273.2 C828.2,275.6 828.9,281.2 826,282.5 C823.2,283.8 813.6,282.3 808.3,281 C803,279.7 798.5,277.4 794.4,274.8 C790.3,272.2 786.9,268.1 783.6,265.5 C780.2,262.9 778.9,259.9 774.3,259.3 C769.7,258.8 760.4,258.1 755.8,262.4 C751.1,266.8 750.4,281.7 746.5,285.6 C742.6,289.5 736.2,289.5 732.6,285.6 C729,281.7 729.3,267.8 724.9,262.4 C720.5,257 711,253.7 706.3,253.2 C701.7,252.6 700.2,256.8 697.1,259.3 C694,261.9 692.4,266.5 687.8,268.6 C683.2,270.7 672.5,273 669.3,271.7 C666,270.4 666.2,263.2 668.5,260.9 C670.8,258.6 679.7,259.9 683.2,257.8 C686.6,255.7 689.1,251.9 689.3,248.5 C689.6,245.2 685.2,243.6 684.7,237.7 C684.2,231.8 685,221.5 686.3,213 C687.5,204.5 690.6,195 692.4,186.7 C694.2,178.5 695.3,170.5 697.1,163.6 C698.9,156.6 701.7,150.2 703.2,145 C704.8,139.9 706.9,137.3 706.3,132.7 C705.8,128 702.7,121.9 700.2,117.2 C697.6,112.6 694.2,108 690.9,104.9 C687.5,101.8 683.7,100.8 680.1,98.7 C676.5,96.6 670.6,94.1 669.3,92.5 C668,91 669.8,89.7 672.4,89.4 C674.9,89.2 680.6,89.7 684.7,91 C688.8,92.3 694,95.9 697.1,97.2 C700.2,98.4 701.7,100.5 703.2,98.7 C704.8,96.9 704.5,89.4 706.3,86.3 C708.1,83.2 710.5,82 714.1,80.2 C717.7,78.4 725.1,79.4 728,75.5 C730.8,71.7 727.4,61.5 731.1,57 Z"/></clipPath>
<g clip-path="url(#clp2n)"><path d="M731.1,57 C734.7,52.5 743.4,48.8 749.6,48.5 C755.8,48.2 764.3,52.2 768.1,55.4 C772,58.7 772.2,64.2 772.8,67.8 C773.3,71.4 768.1,74.5 771.2,77.1 C774.3,79.6 786.7,81.2 791.3,83.2 C795.9,85.3 796.2,87.9 799,89.4 C801.8,91 804.7,92 808.3,92.5 C811.9,93 818.1,92 820.6,92.5 C823.2,93 825.3,94.1 823.7,95.6 C822.2,97.2 815,99.2 811.4,101.8 C807.8,104.4 804.9,106.9 802.1,111.1 C799.3,115.2 797,122.4 794.4,126.5 C791.8,130.6 788.5,132.2 786.7,135.8 C784.9,139.4 783.6,142.2 783.6,148.1 C783.6,154 785.6,163.6 786.7,171.3 C787.7,179 788.2,186.7 789.7,194.5 C791.3,202.2 794.4,210.4 795.9,217.6 C797.5,224.8 799,232.3 799,237.7 C799,243.1 796.4,246.5 795.9,250.1 C795.4,253.7 793.9,256.2 795.9,259.3 C798,262.4 803.4,266.3 808.3,268.6 C813.2,270.9 822.3,270.9 825.3,273.2 C828.2,275.6 828.9,281.2 826,282.5 C823.2,283.8 813.6,282.3 808.3,281 C803,279.7 798.5,277.4 794.4,274.8 C790.3,272.2 786.9,268.1 783.6,265.5 C780.2,262.9 778.9,259.9 774.3,259.3 C769.7,258.8 760.4,258.1 755.8,262.4 C751.1,266.8 750.4,281.7 746.5,285.6 C742.6,289.5 736.2,289.5 732.6,285.6 C729,281.7 729.3,267.8 724.9,262.4 C720.5,257 711,253.7 706.3,253.2 C701.7,252.6 700.2,256.8 697.1,259.3 C694,261.9 692.4,266.5 687.8,268.6 C683.2,270.7 672.5,273 669.3,271.7 C666,270.4 666.2,263.2 668.5,260.9 C670.8,258.6 679.7,259.9 683.2,257.8 C686.6,255.7 689.1,251.9 689.3,248.5 C689.6,245.2 685.2,243.6 684.7,237.7 C684.2,231.8 685,221.5 686.3,213 C687.5,204.5 690.6,195 692.4,186.7 C694.2,178.5 695.3,170.5 697.1,163.6 C698.9,156.6 701.7,150.2 703.2,145 C704.8,139.9 706.9,137.3 706.3,132.7 C705.8,128 702.7,121.9 700.2,117.2 C697.6,112.6 694.2,108 690.9,104.9 C687.5,101.8 683.7,100.8 680.1,98.7 C676.5,96.6 670.6,94.1 669.3,92.5 C668,91 669.8,89.7 672.4,89.4 C674.9,89.2 680.6,89.7 684.7,91 C688.8,92.3 694,95.9 697.1,97.2 C700.2,98.4 701.7,100.5 703.2,98.7 C704.8,96.9 704.5,89.4 706.3,86.3 C708.1,83.2 710.5,82 714.1,80.2 C717.7,78.4 725.1,79.4 728,75.5 C730.8,71.7 727.4,61.5 731.1,57 Z" fill="none" stroke="#8c8c8c" stroke-width="6" opacity="0.35" filter="url(#blur2)"/></g>
<g clip-path="url(#clp2n)"><polygon points="731.1,47.7 769.7,47.7 768.1,61.6 732.6,61.6" fill="#8a8a8a" opacity="0.55" filter="url(#blur2)"/></g>
<circle cx="747.7" cy="59.8" r="1.4" fill="#8a0000"/>
<polygon points="735.7,78.6 752.7,77.8 754.2,91 760.4,104.9 768.1,111.1 768.1,126.5 746.5,128 737.2,126.5 734.1,114.1 729.5,97.2 735.7,89.4" fill="#560000"/>
<polygon points="765,93.3 768.1,93.3 768.1,95.9 765,95.9" fill="#560000"/>
<polygon points="759.6,98.7 763.8,98.7 763.8,101.2 759.6,101.2" fill="#560000"/>
<polygon points="768.9,108.3 771.5,108.3 771.5,111.1 768.9,111.1" fill="#560000"/>
<polygon points="743.4,127.3 746.5,127.3 746.5,129.9 743.4,129.9" fill="#560000"/>
</g>
<g clip-path="url(#clp3)">
<rect x="860.5" y="44.5" width="177.2" height="240.9" fill="#3e3e3e"/>
<rect x="860.5" y="44.5" width="177.2" height="30" fill="#383838"/>
<rect x="860.5" y="74.5" width="177.2" height="1.5" fill="#252525"/>
<rect x="871.2" y="44.5" width="5" height="22" fill="#151515"/>
<rect x="880.2" y="44.5" width="5" height="22" fill="#151515"/>
<rect x="876.2" y="44.5" width="4" height="22" fill="#4a4a4a"/>
<rect x="906.7" y="44.5" width="5" height="22" fill="#151515"/>
<rect x="915.7" y="44.5" width="5" height="22" fill="#151515"/>
<rect x="911.7" y="44.5" width="4" height="22" fill="#4a4a4a"/>
<rect x="977.5" y="44.5" width="5" height="22" fill="#151515"/>
<rect x="986.5" y="44.5" width="5" height="22" fill="#151515"/>
<rect x="982.5" y="44.5" width="4" height="22" fill="#4a4a4a"/>
<rect x="1013" y="44.5" width="5" height="22" fill="#151515"/>
<rect x="1022" y="44.5" width="5" height="22" fill="#151515"/>
<rect x="1018" y="44.5" width="4" height="22" fill="#4a4a4a"/>
<rect x="860.5" y="84.2" width="177.2" height="1.6" fill="#262626"/>
<rect x="1020" y="92.7" width="1.6" height="173.4" fill="#262626"/>
<rect x="869.4" y="203.5" width="35.4" height="1.5" fill="#262626"/>
<path d="M938.4,67.8 C940.5,62.4 944.6,54.7 947.7,52.4 C950.8,50 953.3,50.8 956.9,53.9 C960.6,57 966.2,66 969.3,70.9 C972.4,75.8 974.2,79.6 975.5,83.2 C976.8,86.9 973.9,89.7 977,92.5 C980.1,95.3 989.6,97.9 994,100.2 C998.4,102.6 1000.7,103.3 1003.3,106.4 C1005.9,109.5 1006.4,118 1009.5,118.8 C1012.6,119.5 1017.7,112.9 1021.8,111.1 C1025.9,109.3 1031.7,107.2 1034.2,108 C1036.6,108.7 1038.3,113.1 1036.5,115.7 C1034.7,118.3 1027.6,120.8 1023.4,123.4 C1019.1,126 1014.6,128.3 1011,131.1 C1007.4,134 1004.6,137.1 1001.7,140.4 C998.9,143.7 995.3,146.1 994,151.2 C992.7,156.4 993.5,164.1 994,171.3 C994.5,178.5 996.1,186.7 997.1,194.5 C998.1,202.2 999.4,211.2 1000.2,217.6 C1001,224.1 999.7,228.4 1001.7,233.1 C1003.8,237.7 1008.7,241.6 1012.6,245.4 C1016.4,249.3 1020.9,252.9 1024.9,256.2 C1028.9,259.6 1034.6,261.9 1036.5,265.5 C1038.4,269.1 1038.4,276.3 1036.5,277.9 C1034.6,279.4 1029.4,276.3 1024.9,274.8 C1020.4,273.2 1015.1,269.9 1009.5,268.6 C1003.8,267.3 997.1,266 990.9,267.1 C984.7,268.1 977,271.8 972.4,274.8 C967.8,277.7 969.3,283.2 963.1,284.8 C956.9,286.5 942,286.5 935.3,284.8 C928.6,283.2 927.9,277.7 923,274.8 C918.1,271.8 910.9,268.1 906,267.1 C901.1,266 898,265.6 893.6,268.6 C889.2,271.6 883.8,282.1 879.7,284.8 C875.6,287.5 868.9,288.3 868.9,284.8 C868.9,281.4 876.4,271.3 879.7,264 C883.1,256.6 886.2,246.2 889,240.8 C891.8,235.4 894.1,234.1 896.7,231.5 C899.3,229 902.9,230.2 904.4,225.4 C906,220.5 904.9,209.9 906,202.2 C907,194.5 909.3,186 910.6,179 C911.9,172.1 914.2,165.6 913.7,160.5 C913.2,155.3 909.3,152.8 907.5,148.1 C905.7,143.5 904.2,137.8 902.9,132.7 C901.6,127.5 901.9,121.9 899.8,117.2 C897.7,112.6 893.9,108.7 890.5,104.9 C887.2,101 881.8,96.4 879.7,94.1 C877.7,91.7 876.9,91 878.2,91 C879.5,91 884.3,91.7 887.4,94.1 C890.5,96.4 894.1,101.8 896.7,104.9 C899.3,108 901.1,112.3 902.9,112.6 C904.7,112.9 905.2,108.5 907.5,106.4 C909.8,104.4 913.2,102 916.8,100.2 C920.4,98.4 926.1,98.2 929.1,95.6 C932.2,93 933.8,89.4 935.3,84.8 C936.9,80.2 936.4,73.2 938.4,67.8 Z" fill="url(#mbody)" filter="url(#blur1)"/>
<clipPath id="clp3n"><path d="M938.4,67.8 C940.5,62.4 944.6,54.7 947.7,52.4 C950.8,50 953.3,50.8 956.9,53.9 C960.6,57 966.2,66 969.3,70.9 C972.4,75.8 974.2,79.6 975.5,83.2 C976.8,86.9 973.9,89.7 977,92.5 C980.1,95.3 989.6,97.9 994,100.2 C998.4,102.6 1000.7,103.3 1003.3,106.4 C1005.9,109.5 1006.4,118 1009.5,118.8 C1012.6,119.5 1017.7,112.9 1021.8,111.1 C1025.9,109.3 1031.7,107.2 1034.2,108 C1036.6,108.7 1038.3,113.1 1036.5,115.7 C1034.7,118.3 1027.6,120.8 1023.4,123.4 C1019.1,126 1014.6,128.3 1011,131.1 C1007.4,134 1004.6,137.1 1001.7,140.4 C998.9,143.7 995.3,146.1 994,151.2 C992.7,156.4 993.5,164.1 994,171.3 C994.5,178.5 996.1,186.7 997.1,194.5 C998.1,202.2 999.4,211.2 1000.2,217.6 C1001,224.1 999.7,228.4 1001.7,233.1 C1003.8,237.7 1008.7,241.6 1012.6,245.4 C1016.4,249.3 1020.9,252.9 1024.9,256.2 C1028.9,259.6 1034.6,261.9 1036.5,265.5 C1038.4,269.1 1038.4,276.3 1036.5,277.9 C1034.6,279.4 1029.4,276.3 1024.9,274.8 C1020.4,273.2 1015.1,269.9 1009.5,268.6 C1003.8,267.3 997.1,266 990.9,267.1 C984.7,268.1 977,271.8 972.4,274.8 C967.8,277.7 969.3,283.2 963.1,284.8 C956.9,286.5 942,286.5 935.3,284.8 C928.6,283.2 927.9,277.7 923,274.8 C918.1,271.8 910.9,268.1 906,267.1 C901.1,266 898,265.6 893.6,268.6 C889.2,271.6 883.8,282.1 879.7,284.8 C875.6,287.5 868.9,288.3 868.9,284.8 C868.9,281.4 876.4,271.3 879.7,264 C883.1,256.6 886.2,246.2 889,240.8 C891.8,235.4 894.1,234.1 896.7,231.5 C899.3,229 902.9,230.2 904.4,225.4 C906,220.5 904.9,209.9 906,202.2 C907,194.5 909.3,186 910.6,179 C911.9,172.1 914.2,165.6 913.7,160.5 C913.2,155.3 909.3,152.8 907.5,148.1 C905.7,143.5 904.2,137.8 902.9,132.7 C901.6,127.5 901.9,121.9 899.8,117.2 C897.7,112.6 893.9,108.7 890.5,104.9 C887.2,101 881.8,96.4 879.7,94.1 C877.7,91.7 876.9,91 878.2,91 C879.5,91 884.3,91.7 887.4,94.1 C890.5,96.4 894.1,101.8 896.7,104.9 C899.3,108 901.1,112.3 902.9,112.6 C904.7,112.9 905.2,108.5 907.5,106.4 C909.8,104.4 913.2,102 916.8,100.2 C920.4,98.4 926.1,98.2 929.1,95.6 C932.2,93 933.8,89.4 935.3,84.8 C936.9,80.2 936.4,73.2 938.4,67.8 Z"/></clipPath>
<g clip-path="url(#clp3n)"><path d="M938.4,67.8 C940.5,62.4 944.6,54.7 947.7,52.4 C950.8,50 953.3,50.8 956.9,53.9 C960.6,57 966.2,66 969.3,70.9 C972.4,75.8 974.2,79.6 975.5,83.2 C976.8,86.9 973.9,89.7 977,92.5 C980.1,95.3 989.6,97.9 994,100.2 C998.4,102.6 1000.7,103.3 1003.3,106.4 C1005.9,109.5 1006.4,118 1009.5,118.8 C1012.6,119.5 1017.7,112.9 1021.8,111.1 C1025.9,109.3 1031.7,107.2 1034.2,108 C1036.6,108.7 1038.3,113.1 1036.5,115.7 C1034.7,118.3 1027.6,120.8 1023.4,123.4 C1019.1,126 1014.6,128.3 1011,131.1 C1007.4,134 1004.6,137.1 1001.7,140.4 C998.9,143.7 995.3,146.1 994,151.2 C992.7,156.4 993.5,164.1 994,171.3 C994.5,178.5 996.1,186.7 997.1,194.5 C998.1,202.2 999.4,211.2 1000.2,217.6 C1001,224.1 999.7,228.4 1001.7,233.1 C1003.8,237.7 1008.7,241.6 1012.6,245.4 C1016.4,249.3 1020.9,252.9 1024.9,256.2 C1028.9,259.6 1034.6,261.9 1036.5,265.5 C1038.4,269.1 1038.4,276.3 1036.5,277.9 C1034.6,279.4 1029.4,276.3 1024.9,274.8 C1020.4,273.2 1015.1,269.9 1009.5,268.6 C1003.8,267.3 997.1,266 990.9,267.1 C984.7,268.1 977,271.8 972.4,274.8 C967.8,277.7 969.3,283.2 963.1,284.8 C956.9,286.5 942,286.5 935.3,284.8 C928.6,283.2 927.9,277.7 923,274.8 C918.1,271.8 910.9,268.1 906,267.1 C901.1,266 898,265.6 893.6,268.6 C889.2,271.6 883.8,282.1 879.7,284.8 C875.6,287.5 868.9,288.3 868.9,284.8 C868.9,281.4 876.4,271.3 879.7,264 C883.1,256.6 886.2,246.2 889,240.8 C891.8,235.4 894.1,234.1 896.7,231.5 C899.3,229 902.9,230.2 904.4,225.4 C906,220.5 904.9,209.9 906,202.2 C907,194.5 909.3,186 910.6,179 C911.9,172.1 914.2,165.6 913.7,160.5 C913.2,155.3 909.3,152.8 907.5,148.1 C905.7,143.5 904.2,137.8 902.9,132.7 C901.6,127.5 901.9,121.9 899.8,117.2 C897.7,112.6 893.9,108.7 890.5,104.9 C887.2,101 881.8,96.4 879.7,94.1 C877.7,91.7 876.9,91 878.2,91 C879.5,91 884.3,91.7 887.4,94.1 C890.5,96.4 894.1,101.8 896.7,104.9 C899.3,108 901.1,112.3 902.9,112.6 C904.7,112.9 905.2,108.5 907.5,106.4 C909.8,104.4 913.2,102 916.8,100.2 C920.4,98.4 926.1,98.2 929.1,95.6 C932.2,93 933.8,89.4 935.3,84.8 C936.9,80.2 936.4,73.2 938.4,67.8 Z" fill="none" stroke="#8c8c8c" stroke-width="6" opacity="0.35" filter="url(#blur2)"/></g>
<g clip-path="url(#clp3n)"><polygon points="940,52.4 960,52.4 973.9,78.6 933.8,78.6" fill="#8a8a8a" opacity="0.55" filter="url(#blur2)"/></g>
<polygon points="898.2,250.8 902.1,250.8 904.4,255.5 907.5,257.8 908.3,263.2 904.4,263.2 902.1,257.8 899,254.7" fill="#560000"/>
</g>
<g clip-path="url(#clp4)">
<rect x="1081.8" y="44.5" width="137.2" height="240.9" fill="#3e3e3e"/>
<rect x="1081.8" y="44.5" width="137.2" height="30" fill="#383838"/>
<rect x="1081.8" y="74.5" width="137.2" height="1.5" fill="#252525"/>
<rect x="1088.5" y="44.5" width="5" height="22" fill="#151515"/>
<rect x="1097.5" y="44.5" width="5" height="22" fill="#151515"/>
<rect x="1093.5" y="44.5" width="4" height="22" fill="#4a4a4a"/>
<rect x="1116" y="44.5" width="5" height="22" fill="#151515"/>
<rect x="1125" y="44.5" width="5" height="22" fill="#151515"/>
<rect x="1121" y="44.5" width="4" height="22" fill="#4a4a4a"/>
<rect x="1170.8" y="44.5" width="5" height="22" fill="#151515"/>
<rect x="1179.8" y="44.5" width="5" height="22" fill="#151515"/>
<rect x="1175.8" y="44.5" width="4" height="22" fill="#4a4a4a"/>
<rect x="1198.3" y="44.5" width="5" height="22" fill="#151515"/>
<rect x="1207.3" y="44.5" width="5" height="22" fill="#151515"/>
<rect x="1203.3" y="44.5" width="4" height="22" fill="#4a4a4a"/>
<rect x="1081.8" y="84.2" width="137.2" height="1.6" fill="#262626"/>
<rect x="1205.3" y="92.7" width="1.6" height="173.4" fill="#262626"/>
<rect x="1088.7" y="203.5" width="27.4" height="1.5" fill="#262626"/>
<path d="M1139.9,47.7 C1141.9,46.2 1145.5,45.4 1149.2,49.3 C1152.8,53.1 1158.7,66.3 1161.5,70.9 C1164.3,75.5 1165.1,74.5 1166.1,77.1 C1167.2,79.7 1167.2,83.5 1167.7,86.3 C1168.2,89.2 1166.7,92 1169.2,94.1 C1171.8,96.1 1179.3,96.9 1183.1,98.7 C1187,100.5 1190.4,102.8 1192.4,104.9 C1194.5,106.9 1193.2,112.1 1195.5,111.1 C1197.8,110 1203,101.5 1206.3,98.7 C1209.7,95.9 1213.8,93.8 1215.6,94.1 C1217.4,94.3 1218.2,97.7 1217.1,100.3 C1216.1,102.8 1212.5,106.2 1209.4,109.5 C1206.3,112.9 1201.9,116 1198.6,120.3 C1195.2,124.7 1191.9,131.1 1189.3,135.8 C1186.7,140.4 1183.7,142.2 1183.1,148.1 C1182.6,154.1 1184.9,163.6 1186.2,171.3 C1187.5,179 1189.1,186.8 1190.9,194.5 C1192.7,202.2 1195.2,209.9 1197,217.7 C1198.8,225.4 1200.9,234.4 1201.7,240.8 C1202.5,247.3 1202.2,251.6 1201.7,256.3 C1201.2,260.9 1198.3,263.7 1198.6,268.6 C1198.8,273.5 1205.3,282.8 1203.2,285.6 C1201.2,288.5 1189.6,288 1186.2,285.6 C1182.9,283.3 1185.2,274.8 1183.1,271.7 C1181.1,268.6 1177.5,266.6 1173.9,267.1 C1170.3,267.6 1164.6,271.7 1161.5,274.8 C1158.4,277.9 1160,283.8 1155.3,285.6 C1150.7,287.4 1138.9,287.4 1133.7,285.6 C1128.6,283.8 1127.5,277.4 1124.4,274.8 C1121.3,272.2 1117.7,269.7 1115.2,270.2 C1112.6,270.7 1110.5,275.3 1109,277.9 C1107.4,280.5 1108.5,284.3 1105.9,285.6 C1103.3,286.9 1095.6,289.2 1093.5,285.6 C1091.5,282 1093.8,270.2 1093.5,264 C1093.3,257.8 1091.5,255 1092,248.6 C1092.5,242.1 1095.1,233.1 1096.6,225.4 C1098.2,217.7 1099.5,209.9 1101.3,202.2 C1103.1,194.5 1105.6,186.8 1107.4,179 C1109.2,171.3 1110.8,162.3 1112.1,155.9 C1113.4,149.4 1115.7,144.8 1115.2,140.4 C1114.7,136 1111.8,133 1109,129.6 C1106.2,126.3 1101.8,123.2 1098.2,120.3 C1094.6,117.5 1089.9,114.7 1087.4,112.6 C1084.8,110.5 1083.5,109.3 1082.7,108 C1082,106.7 1081.7,105.4 1082.7,104.9 C1083.8,104.4 1086.3,103.9 1088.9,104.9 C1091.5,105.9 1095.1,109.3 1098.2,111.1 C1101.3,112.9 1105.4,116.5 1107.4,115.7 C1109.5,114.9 1109,109 1110.5,106.4 C1112.1,103.9 1113.9,102.1 1116.7,100.3 C1119.5,98.4 1125.5,98.4 1127.5,95.6 C1129.6,92.8 1128.6,86.9 1129.1,83.3 C1129.6,79.7 1129.3,78.1 1130.6,74 C1131.9,69.9 1135.3,62.9 1136.8,58.5 C1138.3,54.2 1137.8,49.3 1139.9,47.7 Z" fill="url(#mbody)" filter="url(#blur1)"/>
<clipPath id="clp4n"><path d="M1139.9,47.7 C1141.9,46.2 1145.5,45.4 1149.2,49.3 C1152.8,53.1 1158.7,66.3 1161.5,70.9 C1164.3,75.5 1165.1,74.5 1166.1,77.1 C1167.2,79.7 1167.2,83.5 1167.7,86.3 C1168.2,89.2 1166.7,92 1169.2,94.1 C1171.8,96.1 1179.3,96.9 1183.1,98.7 C1187,100.5 1190.4,102.8 1192.4,104.9 C1194.5,106.9 1193.2,112.1 1195.5,111.1 C1197.8,110 1203,101.5 1206.3,98.7 C1209.7,95.9 1213.8,93.8 1215.6,94.1 C1217.4,94.3 1218.2,97.7 1217.1,100.3 C1216.1,102.8 1212.5,106.2 1209.4,109.5 C1206.3,112.9 1201.9,116 1198.6,120.3 C1195.2,124.7 1191.9,131.1 1189.3,135.8 C1186.7,140.4 1183.7,142.2 1183.1,148.1 C1182.6,154.1 1184.9,163.6 1186.2,171.3 C1187.5,179 1189.1,186.8 1190.9,194.5 C1192.7,202.2 1195.2,209.9 1197,217.7 C1198.8,225.4 1200.9,234.4 1201.7,240.8 C1202.5,247.3 1202.2,251.6 1201.7,256.3 C1201.2,260.9 1198.3,263.7 1198.6,268.6 C1198.8,273.5 1205.3,282.8 1203.2,285.6 C1201.2,288.5 1189.6,288 1186.2,285.6 C1182.9,283.3 1185.2,274.8 1183.1,271.7 C1181.1,268.6 1177.5,266.6 1173.9,267.1 C1170.3,267.6 1164.6,271.7 1161.5,274.8 C1158.4,277.9 1160,283.8 1155.3,285.6 C1150.7,287.4 1138.9,287.4 1133.7,285.6 C1128.6,283.8 1127.5,277.4 1124.4,274.8 C1121.3,272.2 1117.7,269.7 1115.2,270.2 C1112.6,270.7 1110.5,275.3 1109,277.9 C1107.4,280.5 1108.5,284.3 1105.9,285.6 C1103.3,286.9 1095.6,289.2 1093.5,285.6 C1091.5,282 1093.8,270.2 1093.5,264 C1093.3,257.8 1091.5,255 1092,248.6 C1092.5,242.1 1095.1,233.1 1096.6,225.4 C1098.2,217.7 1099.5,209.9 1101.3,202.2 C1103.1,194.5 1105.6,186.8 1107.4,179 C1109.2,171.3 1110.8,162.3 1112.1,155.9 C1113.4,149.4 1115.7,144.8 1115.2,140.4 C1114.7,136 1111.8,133 1109,129.6 C1106.2,126.3 1101.8,123.2 1098.2,120.3 C1094.6,117.5 1089.9,114.7 1087.4,112.6 C1084.8,110.5 1083.5,109.3 1082.7,108 C1082,106.7 1081.7,105.4 1082.7,104.9 C1083.8,104.4 1086.3,103.9 1088.9,104.9 C1091.5,105.9 1095.1,109.3 1098.2,111.1 C1101.3,112.9 1105.4,116.5 1107.4,115.7 C1109.5,114.9 1109,109 1110.5,106.4 C1112.1,103.9 1113.9,102.1 1116.7,100.3 C1119.5,98.4 1125.5,98.4 1127.5,95.6 C1129.6,92.8 1128.6,86.9 1129.1,83.3 C1129.6,79.7 1129.3,78.1 1130.6,74 C1131.9,69.9 1135.3,62.9 1136.8,58.5 C1138.3,54.2 1137.8,49.3 1139.9,47.7 Z"/></clipPath>
<g clip-path="url(#clp4n)"><path d="M1139.9,47.7 C1141.9,46.2 1145.5,45.4 1149.2,49.3 C1152.8,53.1 1158.7,66.3 1161.5,70.9 C1164.3,75.5 1165.1,74.5 1166.1,77.1 C1167.2,79.7 1167.2,83.5 1167.7,86.3 C1168.2,89.2 1166.7,92 1169.2,94.1 C1171.8,96.1 1179.3,96.9 1183.1,98.7 C1187,100.5 1190.4,102.8 1192.4,104.9 C1194.5,106.9 1193.2,112.1 1195.5,111.1 C1197.8,110 1203,101.5 1206.3,98.7 C1209.7,95.9 1213.8,93.8 1215.6,94.1 C1217.4,94.3 1218.2,97.7 1217.1,100.3 C1216.1,102.8 1212.5,106.2 1209.4,109.5 C1206.3,112.9 1201.9,116 1198.6,120.3 C1195.2,124.7 1191.9,131.1 1189.3,135.8 C1186.7,140.4 1183.7,142.2 1183.1,148.1 C1182.6,154.1 1184.9,163.6 1186.2,171.3 C1187.5,179 1189.1,186.8 1190.9,194.5 C1192.7,202.2 1195.2,209.9 1197,217.7 C1198.8,225.4 1200.9,234.4 1201.7,240.8 C1202.5,247.3 1202.2,251.6 1201.7,256.3 C1201.2,260.9 1198.3,263.7 1198.6,268.6 C1198.8,273.5 1205.3,282.8 1203.2,285.6 C1201.2,288.5 1189.6,288 1186.2,285.6 C1182.9,283.3 1185.2,274.8 1183.1,271.7 C1181.1,268.6 1177.5,266.6 1173.9,267.1 C1170.3,267.6 1164.6,271.7 1161.5,274.8 C1158.4,277.9 1160,283.8 1155.3,285.6 C1150.7,287.4 1138.9,287.4 1133.7,285.6 C1128.6,283.8 1127.5,277.4 1124.4,274.8 C1121.3,272.2 1117.7,269.7 1115.2,270.2 C1112.6,270.7 1110.5,275.3 1109,277.9 C1107.4,280.5 1108.5,284.3 1105.9,285.6 C1103.3,286.9 1095.6,289.2 1093.5,285.6 C1091.5,282 1093.8,270.2 1093.5,264 C1093.3,257.8 1091.5,255 1092,248.6 C1092.5,242.1 1095.1,233.1 1096.6,225.4 C1098.2,217.7 1099.5,209.9 1101.3,202.2 C1103.1,194.5 1105.6,186.8 1107.4,179 C1109.2,171.3 1110.8,162.3 1112.1,155.9 C1113.4,149.4 1115.7,144.8 1115.2,140.4 C1114.7,136 1111.8,133 1109,129.6 C1106.2,126.3 1101.8,123.2 1098.2,120.3 C1094.6,117.5 1089.9,114.7 1087.4,112.6 C1084.8,110.5 1083.5,109.3 1082.7,108 C1082,106.7 1081.7,105.4 1082.7,104.9 C1083.8,104.4 1086.3,103.9 1088.9,104.9 C1091.5,105.9 1095.1,109.3 1098.2,111.1 C1101.3,112.9 1105.4,116.5 1107.4,115.7 C1109.5,114.9 1109,109 1110.5,106.4 C1112.1,103.9 1113.9,102.1 1116.7,100.3 C1119.5,98.4 1125.5,98.4 1127.5,95.6 C1129.6,92.8 1128.6,86.9 1129.1,83.3 C1129.6,79.7 1129.3,78.1 1130.6,74 C1131.9,69.9 1135.3,62.9 1136.8,58.5 C1138.3,54.2 1137.8,49.3 1139.9,47.7 Z" fill="none" stroke="#8c8c8c" stroke-width="6" opacity="0.35" filter="url(#blur2)"/></g>
<g clip-path="url(#clp4n)"><polygon points="1136.8,47.7 1147.6,47.7 1164.6,77.1 1130.6,77.1" fill="#8a8a8a" opacity="0.55" filter="url(#blur2)"/></g>
</g>
<g clip-path="url(#clp5)">
<rect x="1264.1" y="44.5" width="154.6" height="240.9" fill="#3e3e3e"/>
<rect x="1264.1" y="44.5" width="154.6" height="30" fill="#383838"/>
<rect x="1264.1" y="74.5" width="154.6" height="1.5" fill="#252525"/>
<rect x="1272.6" y="44.5" width="5" height="22" fill="#151515"/>
<rect x="1281.6" y="44.5" width="5" height="22" fill="#151515"/>
<rect x="1277.6" y="44.5" width="4" height="22" fill="#4a4a4a"/>
<rect x="1303.5" y="44.5" width="5" height="22" fill="#151515"/>
<rect x="1312.5" y="44.5" width="5" height="22" fill="#151515"/>
<rect x="1308.5" y="44.5" width="4" height="22" fill="#4a4a4a"/>
<rect x="1365.3" y="44.5" width="5" height="22" fill="#151515"/>
<rect x="1374.3" y="44.5" width="5" height="22" fill="#151515"/>
<rect x="1370.3" y="44.5" width="4" height="22" fill="#4a4a4a"/>
<rect x="1396.2" y="44.5" width="5" height="22" fill="#151515"/>
<rect x="1405.2" y="44.5" width="5" height="22" fill="#151515"/>
<rect x="1401.2" y="44.5" width="4" height="22" fill="#4a4a4a"/>
<rect x="1264.1" y="84.2" width="154.6" height="1.6" fill="#262626"/>
<rect x="1403.2" y="92.7" width="1.6" height="173.4" fill="#262626"/>
<rect x="1271.8" y="203.5" width="30.9" height="1.5" fill="#262626"/>
<path d="M1324.4,50.8 C1328,48.8 1334,54.7 1338.3,58.5 C1342.7,62.4 1347.6,69.4 1350.7,74 C1353.8,78.6 1355.6,82.7 1356.9,86.3 C1358.2,90 1354.8,93 1358.4,95.6 C1362,98.2 1373.1,99.7 1378.5,101.8 C1383.9,103.9 1388.3,105.9 1390.9,108 C1393.4,110 1391.6,113.9 1393.9,114.2 C1396.3,114.4 1400.9,110.3 1404.8,109.5 C1408.6,108.7 1415.1,108.5 1417.1,109.5 C1419.2,110.5 1418.9,114.2 1417.1,115.7 C1415.3,117.2 1410.2,117.5 1406.3,118.8 C1402.4,120.1 1396.8,121.4 1393.9,123.4 C1391.1,125.5 1391.6,127 1389.3,131.1 C1387,135.3 1381.8,143.8 1380,148.1 C1378.2,152.5 1377.5,153.5 1378.5,157.4 C1379.5,161.3 1383.7,165.1 1386.2,171.3 C1388.8,177.5 1392.1,186.8 1393.9,194.5 C1395.8,202.2 1395.8,209.9 1397,217.7 C1398.3,225.4 1400.1,234.4 1401.7,240.8 C1403.2,247.3 1404,251.6 1406.3,256.3 C1408.6,260.9 1413.5,263.7 1415.6,268.6 C1417.6,273.5 1422.3,282.8 1418.7,285.6 C1415.1,288.5 1400.1,287.4 1393.9,285.6 C1387.8,283.8 1386.2,276.6 1381.6,274.8 C1377,273 1370.3,273 1366.1,274.8 C1362,276.6 1362.5,283.8 1356.9,285.6 C1351.2,287.4 1337.8,286.9 1332.2,285.6 C1326.5,284.3 1327.5,279.7 1322.9,277.9 C1318.3,276.1 1308.7,273.5 1304.3,274.8 C1300,276.1 1300.5,283.8 1296.6,285.6 C1292.8,287.4 1283,290.5 1281.2,285.6 C1279.4,280.7 1283.7,265 1285.8,256.3 C1287.9,247.5 1291.5,240.8 1293.5,233.1 C1295.6,225.4 1296.4,217.7 1298.2,209.9 C1300,202.2 1302.3,194.5 1304.3,186.8 C1306.4,179 1309.8,169.5 1310.5,163.6 C1311.3,157.7 1311,155.9 1309,151.2 C1306.9,146.6 1300.5,140.9 1298.2,135.8 C1295.8,130.6 1296.6,124.2 1295.1,120.3 C1293.5,116.5 1291.5,115.7 1288.9,112.6 C1286.3,109.5 1281.2,104.6 1279.6,101.8 C1278.1,99 1278.6,96.4 1279.6,95.6 C1280.7,94.8 1283.2,95.4 1285.8,97.2 C1288.4,99 1292.8,103.9 1295.1,106.4 C1297.4,109 1298.7,112.1 1299.7,112.6 C1300.7,113.1 1299.7,110.8 1301.3,109.5 C1302.8,108.2 1306.1,106.7 1309,104.9 C1311.8,103.1 1317.5,101.8 1318.3,98.7 C1319,95.6 1313.9,91 1313.6,86.3 C1313.4,81.7 1314.9,76.8 1316.7,70.9 C1318.5,65 1320.8,52.9 1324.4,50.8 Z" fill="url(#mbody)" filter="url(#blur1)"/>
<clipPath id="clp5n"><path d="M1324.4,50.8 C1328,48.8 1334,54.7 1338.3,58.5 C1342.7,62.4 1347.6,69.4 1350.7,74 C1353.8,78.6 1355.6,82.7 1356.9,86.3 C1358.2,90 1354.8,93 1358.4,95.6 C1362,98.2 1373.1,99.7 1378.5,101.8 C1383.9,103.9 1388.3,105.9 1390.9,108 C1393.4,110 1391.6,113.9 1393.9,114.2 C1396.3,114.4 1400.9,110.3 1404.8,109.5 C1408.6,108.7 1415.1,108.5 1417.1,109.5 C1419.2,110.5 1418.9,114.2 1417.1,115.7 C1415.3,117.2 1410.2,117.5 1406.3,118.8 C1402.4,120.1 1396.8,121.4 1393.9,123.4 C1391.1,125.5 1391.6,127 1389.3,131.1 C1387,135.3 1381.8,143.8 1380,148.1 C1378.2,152.5 1377.5,153.5 1378.5,157.4 C1379.5,161.3 1383.7,165.1 1386.2,171.3 C1388.8,177.5 1392.1,186.8 1393.9,194.5 C1395.8,202.2 1395.8,209.9 1397,217.7 C1398.3,225.4 1400.1,234.4 1401.7,240.8 C1403.2,247.3 1404,251.6 1406.3,256.3 C1408.6,260.9 1413.5,263.7 1415.6,268.6 C1417.6,273.5 1422.3,282.8 1418.7,285.6 C1415.1,288.5 1400.1,287.4 1393.9,285.6 C1387.8,283.8 1386.2,276.6 1381.6,274.8 C1377,273 1370.3,273 1366.1,274.8 C1362,276.6 1362.5,283.8 1356.9,285.6 C1351.2,287.4 1337.8,286.9 1332.2,285.6 C1326.5,284.3 1327.5,279.7 1322.9,277.9 C1318.3,276.1 1308.7,273.5 1304.3,274.8 C1300,276.1 1300.5,283.8 1296.6,285.6 C1292.8,287.4 1283,290.5 1281.2,285.6 C1279.4,280.7 1283.7,265 1285.8,256.3 C1287.9,247.5 1291.5,240.8 1293.5,233.1 C1295.6,225.4 1296.4,217.7 1298.2,209.9 C1300,202.2 1302.3,194.5 1304.3,186.8 C1306.4,179 1309.8,169.5 1310.5,163.6 C1311.3,157.7 1311,155.9 1309,151.2 C1306.9,146.6 1300.5,140.9 1298.2,135.8 C1295.8,130.6 1296.6,124.2 1295.1,120.3 C1293.5,116.5 1291.5,115.7 1288.9,112.6 C1286.3,109.5 1281.2,104.6 1279.6,101.8 C1278.1,99 1278.6,96.4 1279.6,95.6 C1280.7,94.8 1283.2,95.4 1285.8,97.2 C1288.4,99 1292.8,103.9 1295.1,106.4 C1297.4,109 1298.7,112.1 1299.7,112.6 C1300.7,113.1 1299.7,110.8 1301.3,109.5 C1302.8,108.2 1306.1,106.7 1309,104.9 C1311.8,103.1 1317.5,101.8 1318.3,98.7 C1319,95.6 1313.9,91 1313.6,86.3 C1313.4,81.7 1314.9,76.8 1316.7,70.9 C1318.5,65 1320.8,52.9 1324.4,50.8 Z"/></clipPath>
<g clip-path="url(#clp5n)"><path d="M1324.4,50.8 C1328,48.8 1334,54.7 1338.3,58.5 C1342.7,62.4 1347.6,69.4 1350.7,74 C1353.8,78.6 1355.6,82.7 1356.9,86.3 C1358.2,90 1354.8,93 1358.4,95.6 C1362,98.2 1373.1,99.7 1378.5,101.8 C1383.9,103.9 1388.3,105.9 1390.9,108 C1393.4,110 1391.6,113.9 1393.9,114.2 C1396.3,114.4 1400.9,110.3 1404.8,109.5 C1408.6,108.7 1415.1,108.5 1417.1,109.5 C1419.2,110.5 1418.9,114.2 1417.1,115.7 C1415.3,117.2 1410.2,117.5 1406.3,118.8 C1402.4,120.1 1396.8,121.4 1393.9,123.4 C1391.1,125.5 1391.6,127 1389.3,131.1 C1387,135.3 1381.8,143.8 1380,148.1 C1378.2,152.5 1377.5,153.5 1378.5,157.4 C1379.5,161.3 1383.7,165.1 1386.2,171.3 C1388.8,177.5 1392.1,186.8 1393.9,194.5 C1395.8,202.2 1395.8,209.9 1397,217.7 C1398.3,225.4 1400.1,234.4 1401.7,240.8 C1403.2,247.3 1404,251.6 1406.3,256.3 C1408.6,260.9 1413.5,263.7 1415.6,268.6 C1417.6,273.5 1422.3,282.8 1418.7,285.6 C1415.1,288.5 1400.1,287.4 1393.9,285.6 C1387.8,283.8 1386.2,276.6 1381.6,274.8 C1377,273 1370.3,273 1366.1,274.8 C1362,276.6 1362.5,283.8 1356.9,285.6 C1351.2,287.4 1337.8,286.9 1332.2,285.6 C1326.5,284.3 1327.5,279.7 1322.9,277.9 C1318.3,276.1 1308.7,273.5 1304.3,274.8 C1300,276.1 1300.5,283.8 1296.6,285.6 C1292.8,287.4 1283,290.5 1281.2,285.6 C1279.4,280.7 1283.7,265 1285.8,256.3 C1287.9,247.5 1291.5,240.8 1293.5,233.1 C1295.6,225.4 1296.4,217.7 1298.2,209.9 C1300,202.2 1302.3,194.5 1304.3,186.8 C1306.4,179 1309.8,169.5 1310.5,163.6 C1311.3,157.7 1311,155.9 1309,151.2 C1306.9,146.6 1300.5,140.9 1298.2,135.8 C1295.8,130.6 1296.6,124.2 1295.1,120.3 C1293.5,116.5 1291.5,115.7 1288.9,112.6 C1286.3,109.5 1281.2,104.6 1279.6,101.8 C1278.1,99 1278.6,96.4 1279.6,95.6 C1280.7,94.8 1283.2,95.4 1285.8,97.2 C1288.4,99 1292.8,103.9 1295.1,106.4 C1297.4,109 1298.7,112.1 1299.7,112.6 C1300.7,113.1 1299.7,110.8 1301.3,109.5 C1302.8,108.2 1306.1,106.7 1309,104.9 C1311.8,103.1 1317.5,101.8 1318.3,98.7 C1319,95.6 1313.9,91 1313.6,86.3 C1313.4,81.7 1314.9,76.8 1316.7,70.9 C1318.5,65 1320.8,52.9 1324.4,50.8 Z" fill="none" stroke="#8c8c8c" stroke-width="6" opacity="0.35" filter="url(#blur2)"/></g>
<g clip-path="url(#clp5n)"><polygon points="1321.3,49.3 1332.2,49.3 1350.7,77.1 1315.2,77.1" fill="#8a8a8a" opacity="0.55" filter="url(#blur2)"/></g>
<circle cx="1333.2" cy="125.4" r="1.4" fill="#8a0000"/>
<circle cx="1344.5" cy="132.7" r="2" fill="#8a0000"/>
<circle cx="1342.2" cy="141.5" r="1.4" fill="#8a0000"/>
<circle cx="1345.4" cy="141.7" r="1.4" fill="#ffff20"/>
</g>
<g clip-path="url(#clp6)">
<rect x="1463.2" y="44.5" width="145.6" height="240.9" fill="#3e3e3e"/>
<rect x="1463.2" y="44.5" width="145.6" height="30" fill="#383838"/>
<rect x="1463.2" y="74.5" width="145.6" height="1.5" fill="#252525"/>
<rect x="1470.8" y="44.5" width="5" height="22" fill="#151515"/>
<rect x="1479.8" y="44.5" width="5" height="22" fill="#151515"/>
<rect x="1475.8" y="44.5" width="4" height="22" fill="#4a4a4a"/>
<rect x="1499.9" y="44.5" width="5" height="22" fill="#151515"/>
<rect x="1508.9" y="44.5" width="5" height="22" fill="#151515"/>
<rect x="1504.9" y="44.5" width="4" height="22" fill="#4a4a4a"/>
<rect x="1558.1" y="44.5" width="5" height="22" fill="#151515"/>
<rect x="1567.1" y="44.5" width="5" height="22" fill="#151515"/>
<rect x="1563.1" y="44.5" width="4" height="22" fill="#4a4a4a"/>
<rect x="1587.2" y="44.5" width="5" height="22" fill="#151515"/>
<rect x="1596.2" y="44.5" width="5" height="22" fill="#151515"/>
<rect x="1592.2" y="44.5" width="4" height="22" fill="#4a4a4a"/>
<rect x="1463.2" y="84.2" width="145.6" height="1.6" fill="#262626"/>
<rect x="1594.2" y="92.7" width="1.6" height="173.4" fill="#262626"/>
<rect x="1470.5" y="203.5" width="29.1" height="1.5" fill="#262626"/>
<path d="M1528,48.5 C1530.6,47.7 1534.5,48.4 1537.3,50.8 C1540.1,53.3 1542.7,59 1545,63.2 C1547.3,67.3 1549.9,72.2 1551.2,75.5 C1552.5,78.9 1552.5,80.7 1552.8,83.2 C1553,85.8 1550.7,88.4 1552.8,91 C1554.8,93.5 1561,95.9 1565.1,98.7 C1569.2,101.5 1574.6,104.6 1577.5,108 C1580.3,111.3 1579.5,119.3 1582.1,118.8 C1584.7,118.2 1589,108.2 1592.9,104.9 C1596.8,101.5 1602.8,98.9 1605.3,98.7 C1607.7,98.4 1608.6,101 1607.6,103.3 C1606.5,105.6 1602,109.8 1599.1,112.6 C1596.1,115.4 1592.6,118 1589.8,120.3 C1587,122.6 1584.2,123.4 1582.1,126.5 C1580,129.6 1579,134 1577.5,138.8 C1575.9,143.7 1573.3,150.4 1572.8,155.8 C1572.3,161.2 1573.3,164.8 1574.4,171.3 C1575.4,177.7 1577.2,186.7 1579,194.4 C1580.8,202.2 1583.4,209.9 1585.2,217.6 C1587,225.3 1588.8,234.3 1589.8,240.8 C1590.8,247.2 1590.3,250.6 1591.4,256.2 C1592.4,261.9 1594.7,269.9 1596,274.7 C1597.3,279.6 1602.2,283.8 1599.1,285.6 C1596,287.4 1582.4,286.3 1577.5,285.6 C1572.6,284.8 1574.4,280.9 1569.7,280.9 C1565.1,280.9 1558.2,284.8 1549.7,285.6 C1541.2,286.3 1526,286.3 1518.8,285.6 C1511.6,284.8 1509.5,280.9 1506.4,280.9 C1503.3,280.9 1504.6,284.8 1500.2,285.6 C1495.9,286.3 1483.8,289.2 1480.2,285.6 C1476.6,282 1478.1,271.4 1478.6,263.9 C1479.1,256.5 1481.7,248.5 1483.3,240.8 C1484.8,233.1 1486.6,225.3 1487.9,217.6 C1489.2,209.9 1489.4,202.2 1491,194.4 C1492.5,186.7 1495.6,177.5 1497.2,171.3 C1498.7,165.1 1500.8,161.8 1500.2,157.4 C1499.7,153 1496.1,149.1 1494.1,145 C1492,140.9 1489.7,135 1487.9,132.7 C1486.1,130.3 1483.8,133.2 1483.3,131.1 C1482.7,129.1 1485.3,123.9 1484.8,120.3 C1484.3,116.7 1482,113.1 1480.2,109.5 C1478.4,105.9 1474.2,101 1474,98.7 C1473.7,96.4 1476.6,94.8 1478.6,95.6 C1480.7,96.4 1484.3,101.3 1486.3,103.3 C1488.4,105.4 1488.7,108 1491,108 C1493.3,108 1496.9,105.9 1500.2,103.3 C1503.6,100.7 1509,95.9 1511.1,92.5 C1513.1,89.2 1511.8,86.8 1512.6,83.2 C1513.4,79.6 1514.1,75.5 1515.7,70.9 C1517.2,66.3 1519.8,59.2 1521.9,55.4 C1523.9,51.7 1525.5,49.3 1528,48.5 Z" fill="url(#mbody)" filter="url(#blur1)"/>
<clipPath id="clp6n"><path d="M1528,48.5 C1530.6,47.7 1534.5,48.4 1537.3,50.8 C1540.1,53.3 1542.7,59 1545,63.2 C1547.3,67.3 1549.9,72.2 1551.2,75.5 C1552.5,78.9 1552.5,80.7 1552.8,83.2 C1553,85.8 1550.7,88.4 1552.8,91 C1554.8,93.5 1561,95.9 1565.1,98.7 C1569.2,101.5 1574.6,104.6 1577.5,108 C1580.3,111.3 1579.5,119.3 1582.1,118.8 C1584.7,118.2 1589,108.2 1592.9,104.9 C1596.8,101.5 1602.8,98.9 1605.3,98.7 C1607.7,98.4 1608.6,101 1607.6,103.3 C1606.5,105.6 1602,109.8 1599.1,112.6 C1596.1,115.4 1592.6,118 1589.8,120.3 C1587,122.6 1584.2,123.4 1582.1,126.5 C1580,129.6 1579,134 1577.5,138.8 C1575.9,143.7 1573.3,150.4 1572.8,155.8 C1572.3,161.2 1573.3,164.8 1574.4,171.3 C1575.4,177.7 1577.2,186.7 1579,194.4 C1580.8,202.2 1583.4,209.9 1585.2,217.6 C1587,225.3 1588.8,234.3 1589.8,240.8 C1590.8,247.2 1590.3,250.6 1591.4,256.2 C1592.4,261.9 1594.7,269.9 1596,274.7 C1597.3,279.6 1602.2,283.8 1599.1,285.6 C1596,287.4 1582.4,286.3 1577.5,285.6 C1572.6,284.8 1574.4,280.9 1569.7,280.9 C1565.1,280.9 1558.2,284.8 1549.7,285.6 C1541.2,286.3 1526,286.3 1518.8,285.6 C1511.6,284.8 1509.5,280.9 1506.4,280.9 C1503.3,280.9 1504.6,284.8 1500.2,285.6 C1495.9,286.3 1483.8,289.2 1480.2,285.6 C1476.6,282 1478.1,271.4 1478.6,263.9 C1479.1,256.5 1481.7,248.5 1483.3,240.8 C1484.8,233.1 1486.6,225.3 1487.9,217.6 C1489.2,209.9 1489.4,202.2 1491,194.4 C1492.5,186.7 1495.6,177.5 1497.2,171.3 C1498.7,165.1 1500.8,161.8 1500.2,157.4 C1499.7,153 1496.1,149.1 1494.1,145 C1492,140.9 1489.7,135 1487.9,132.7 C1486.1,130.3 1483.8,133.2 1483.3,131.1 C1482.7,129.1 1485.3,123.9 1484.8,120.3 C1484.3,116.7 1482,113.1 1480.2,109.5 C1478.4,105.9 1474.2,101 1474,98.7 C1473.7,96.4 1476.6,94.8 1478.6,95.6 C1480.7,96.4 1484.3,101.3 1486.3,103.3 C1488.4,105.4 1488.7,108 1491,108 C1493.3,108 1496.9,105.9 1500.2,103.3 C1503.6,100.7 1509,95.9 1511.1,92.5 C1513.1,89.2 1511.8,86.8 1512.6,83.2 C1513.4,79.6 1514.1,75.5 1515.7,70.9 C1517.2,66.3 1519.8,59.2 1521.9,55.4 C1523.9,51.7 1525.5,49.3 1528,48.5 Z"/></clipPath>
<g clip-path="url(#clp6n)"><path d="M1528,48.5 C1530.6,47.7 1534.5,48.4 1537.3,50.8 C1540.1,53.3 1542.7,59 1545,63.2 C1547.3,67.3 1549.9,72.2 1551.2,75.5 C1552.5,78.9 1552.5,80.7 1552.8,83.2 C1553,85.8 1550.7,88.4 1552.8,91 C1554.8,93.5 1561,95.9 1565.1,98.7 C1569.2,101.5 1574.6,104.6 1577.5,108 C1580.3,111.3 1579.5,119.3 1582.1,118.8 C1584.7,118.2 1589,108.2 1592.9,104.9 C1596.8,101.5 1602.8,98.9 1605.3,98.7 C1607.7,98.4 1608.6,101 1607.6,103.3 C1606.5,105.6 1602,109.8 1599.1,112.6 C1596.1,115.4 1592.6,118 1589.8,120.3 C1587,122.6 1584.2,123.4 1582.1,126.5 C1580,129.6 1579,134 1577.5,138.8 C1575.9,143.7 1573.3,150.4 1572.8,155.8 C1572.3,161.2 1573.3,164.8 1574.4,171.3 C1575.4,177.7 1577.2,186.7 1579,194.4 C1580.8,202.2 1583.4,209.9 1585.2,217.6 C1587,225.3 1588.8,234.3 1589.8,240.8 C1590.8,247.2 1590.3,250.6 1591.4,256.2 C1592.4,261.9 1594.7,269.9 1596,274.7 C1597.3,279.6 1602.2,283.8 1599.1,285.6 C1596,287.4 1582.4,286.3 1577.5,285.6 C1572.6,284.8 1574.4,280.9 1569.7,280.9 C1565.1,280.9 1558.2,284.8 1549.7,285.6 C1541.2,286.3 1526,286.3 1518.8,285.6 C1511.6,284.8 1509.5,280.9 1506.4,280.9 C1503.3,280.9 1504.6,284.8 1500.2,285.6 C1495.9,286.3 1483.8,289.2 1480.2,285.6 C1476.6,282 1478.1,271.4 1478.6,263.9 C1479.1,256.5 1481.7,248.5 1483.3,240.8 C1484.8,233.1 1486.6,225.3 1487.9,217.6 C1489.2,209.9 1489.4,202.2 1491,194.4 C1492.5,186.7 1495.6,177.5 1497.2,171.3 C1498.7,165.1 1500.8,161.8 1500.2,157.4 C1499.7,153 1496.1,149.1 1494.1,145 C1492,140.9 1489.7,135 1487.9,132.7 C1486.1,130.3 1483.8,133.2 1483.3,131.1 C1482.7,129.1 1485.3,123.9 1484.8,120.3 C1484.3,116.7 1482,113.1 1480.2,109.5 C1478.4,105.9 1474.2,101 1474,98.7 C1473.7,96.4 1476.6,94.8 1478.6,95.6 C1480.7,96.4 1484.3,101.3 1486.3,103.3 C1488.4,105.4 1488.7,108 1491,108 C1493.3,108 1496.9,105.9 1500.2,103.3 C1503.6,100.7 1509,95.9 1511.1,92.5 C1513.1,89.2 1511.8,86.8 1512.6,83.2 C1513.4,79.6 1514.1,75.5 1515.7,70.9 C1517.2,66.3 1519.8,59.2 1521.9,55.4 C1523.9,51.7 1525.5,49.3 1528,48.5 Z" fill="none" stroke="#8c8c8c" stroke-width="6" opacity="0.35" filter="url(#blur2)"/></g>
<g clip-path="url(#clp6n)"><polygon points="1525,47.7 1537.3,47.7 1551.2,81.7 1512.6,81.7" fill="#8a8a8a" opacity="0.55" filter="url(#blur2)"/></g>
</g>
<g clip-path="url(#clp7)">
<rect x="1643.7" y="44.5" width="115.2" height="240.9" fill="#3e3e3e"/>
<rect x="1643.7" y="44.5" width="115.2" height="30" fill="#383838"/>
<rect x="1643.7" y="74.5" width="115.2" height="1.5" fill="#252525"/>
<rect x="1648.2" y="44.5" width="5" height="22" fill="#151515"/>
<rect x="1657.2" y="44.5" width="5" height="22" fill="#151515"/>
<rect x="1653.2" y="44.5" width="4" height="22" fill="#4a4a4a"/>
<rect x="1671.3" y="44.5" width="5" height="22" fill="#151515"/>
<rect x="1680.3" y="44.5" width="5" height="22" fill="#151515"/>
<rect x="1676.3" y="44.5" width="4" height="22" fill="#4a4a4a"/>
<rect x="1717.3" y="44.5" width="5" height="22" fill="#151515"/>
<rect x="1726.3" y="44.5" width="5" height="22" fill="#151515"/>
<rect x="1722.3" y="44.5" width="4" height="22" fill="#4a4a4a"/>
<rect x="1740.4" y="44.5" width="5" height="22" fill="#151515"/>
<rect x="1749.4" y="44.5" width="5" height="22" fill="#151515"/>
<rect x="1745.4" y="44.5" width="4" height="22" fill="#4a4a4a"/>
<rect x="1643.7" y="84.2" width="115.2" height="1.6" fill="#262626"/>
<rect x="1747.4" y="92.7" width="1.6" height="173.4" fill="#262626"/>
<rect x="1649.5" y="203.5" width="23" height="1.5" fill="#262626"/>
<path d="M1698.8,53.9 C1701.3,53.1 1706.2,52.6 1709.6,55.4 C1712.9,58.3 1716.5,66.8 1718.8,70.9 C1721.1,75 1722.7,76.5 1723.5,80.1 C1724.2,83.7 1722.4,89.1 1723.5,92.5 C1724.5,95.8 1726.5,98.7 1729.6,100.2 C1732.7,101.8 1738.4,103.3 1742,101.8 C1745.6,100.2 1748.8,95.1 1751.3,90.9 C1753.7,86.8 1755.5,78.3 1756.7,77.1 C1757.8,75.8 1758.1,79.6 1758.2,83.2 C1758.3,86.8 1758.1,93 1757.4,98.7 C1756.8,104.3 1755.4,113.3 1754.3,117.2 C1753.3,121.1 1753.3,120.3 1751.3,121.8 C1749.2,123.4 1744.3,124.1 1742,126.5 C1739.7,128.8 1738.4,130.8 1737.4,135.7 C1736.3,140.6 1735.3,148.6 1735.8,155.8 C1736.3,163 1738.9,171.2 1740.4,179 C1742,186.7 1743.5,194.4 1745.1,202.1 C1746.6,209.8 1748.7,217.6 1749.7,225.3 C1750.7,233 1752,242.8 1751.3,248.4 C1750.5,254.1 1746.4,255.4 1745.1,259.2 C1743.8,263.1 1743,267.2 1743.5,271.6 C1744,276 1749.4,283.2 1748.2,285.5 C1746.9,287.8 1738.9,287.8 1735.8,285.5 C1732.7,283.2 1733.2,272.9 1729.6,271.6 C1726,270.3 1720.9,276.7 1714.2,277.8 C1707.5,278.8 1695.4,279.3 1689.5,277.8 C1683.6,276.2 1680,267.2 1678.7,268.5 C1677.4,269.8 1683.6,282.7 1681.8,285.5 C1680,288.3 1671.2,288.6 1667.9,285.5 C1664.5,282.4 1663.8,273.1 1661.7,267 C1659.6,260.8 1656.8,255.4 1655.5,248.4 C1654.2,241.5 1653.5,233 1654,225.3 C1654.5,217.6 1657.3,209.8 1658.6,202.1 C1659.9,194.4 1661.2,186.7 1661.7,179 C1662.2,171.2 1661.7,161.5 1661.7,155.8 C1661.7,150.1 1663.2,148.8 1661.7,145 C1660.2,141.1 1655.3,136 1652.4,132.6 C1649.6,129.3 1646.1,127.7 1644.7,124.9 C1643.3,122.1 1642.1,117.7 1643.9,115.7 C1645.7,113.6 1651.5,113.6 1655.5,112.6 C1659.5,111.5 1665,111.3 1667.9,109.5 C1670.7,107.7 1670.7,103.6 1672.5,101.8 C1674.3,100 1676.9,101.5 1678.7,98.7 C1680.5,95.8 1681.8,88.1 1683.3,84.8 C1684.9,81.4 1686.1,82.7 1687.9,78.6 C1689.8,74.5 1692.3,64.2 1694.1,60.1 C1695.9,56 1696.2,54.7 1698.8,53.9 Z" fill="url(#mbody)" filter="url(#blur1)"/>
<clipPath id="clp7n"><path d="M1698.8,53.9 C1701.3,53.1 1706.2,52.6 1709.6,55.4 C1712.9,58.3 1716.5,66.8 1718.8,70.9 C1721.1,75 1722.7,76.5 1723.5,80.1 C1724.2,83.7 1722.4,89.1 1723.5,92.5 C1724.5,95.8 1726.5,98.7 1729.6,100.2 C1732.7,101.8 1738.4,103.3 1742,101.8 C1745.6,100.2 1748.8,95.1 1751.3,90.9 C1753.7,86.8 1755.5,78.3 1756.7,77.1 C1757.8,75.8 1758.1,79.6 1758.2,83.2 C1758.3,86.8 1758.1,93 1757.4,98.7 C1756.8,104.3 1755.4,113.3 1754.3,117.2 C1753.3,121.1 1753.3,120.3 1751.3,121.8 C1749.2,123.4 1744.3,124.1 1742,126.5 C1739.7,128.8 1738.4,130.8 1737.4,135.7 C1736.3,140.6 1735.3,148.6 1735.8,155.8 C1736.3,163 1738.9,171.2 1740.4,179 C1742,186.7 1743.5,194.4 1745.1,202.1 C1746.6,209.8 1748.7,217.6 1749.7,225.3 C1750.7,233 1752,242.8 1751.3,248.4 C1750.5,254.1 1746.4,255.4 1745.1,259.2 C1743.8,263.1 1743,267.2 1743.5,271.6 C1744,276 1749.4,283.2 1748.2,285.5 C1746.9,287.8 1738.9,287.8 1735.8,285.5 C1732.7,283.2 1733.2,272.9 1729.6,271.6 C1726,270.3 1720.9,276.7 1714.2,277.8 C1707.5,278.8 1695.4,279.3 1689.5,277.8 C1683.6,276.2 1680,267.2 1678.7,268.5 C1677.4,269.8 1683.6,282.7 1681.8,285.5 C1680,288.3 1671.2,288.6 1667.9,285.5 C1664.5,282.4 1663.8,273.1 1661.7,267 C1659.6,260.8 1656.8,255.4 1655.5,248.4 C1654.2,241.5 1653.5,233 1654,225.3 C1654.5,217.6 1657.3,209.8 1658.6,202.1 C1659.9,194.4 1661.2,186.7 1661.7,179 C1662.2,171.2 1661.7,161.5 1661.7,155.8 C1661.7,150.1 1663.2,148.8 1661.7,145 C1660.2,141.1 1655.3,136 1652.4,132.6 C1649.6,129.3 1646.1,127.7 1644.7,124.9 C1643.3,122.1 1642.1,117.7 1643.9,115.7 C1645.7,113.6 1651.5,113.6 1655.5,112.6 C1659.5,111.5 1665,111.3 1667.9,109.5 C1670.7,107.7 1670.7,103.6 1672.5,101.8 C1674.3,100 1676.9,101.5 1678.7,98.7 C1680.5,95.8 1681.8,88.1 1683.3,84.8 C1684.9,81.4 1686.1,82.7 1687.9,78.6 C1689.8,74.5 1692.3,64.2 1694.1,60.1 C1695.9,56 1696.2,54.7 1698.8,53.9 Z"/></clipPath>
<g clip-path="url(#clp7n)"><path d="M1698.8,53.9 C1701.3,53.1 1706.2,52.6 1709.6,55.4 C1712.9,58.3 1716.5,66.8 1718.8,70.9 C1721.1,75 1722.7,76.5 1723.5,80.1 C1724.2,83.7 1722.4,89.1 1723.5,92.5 C1724.5,95.8 1726.5,98.7 1729.6,100.2 C1732.7,101.8 1738.4,103.3 1742,101.8 C1745.6,100.2 1748.8,95.1 1751.3,90.9 C1753.7,86.8 1755.5,78.3 1756.7,77.1 C1757.8,75.8 1758.1,79.6 1758.2,83.2 C1758.3,86.8 1758.1,93 1757.4,98.7 C1756.8,104.3 1755.4,113.3 1754.3,117.2 C1753.3,121.1 1753.3,120.3 1751.3,121.8 C1749.2,123.4 1744.3,124.1 1742,126.5 C1739.7,128.8 1738.4,130.8 1737.4,135.7 C1736.3,140.6 1735.3,148.6 1735.8,155.8 C1736.3,163 1738.9,171.2 1740.4,179 C1742,186.7 1743.5,194.4 1745.1,202.1 C1746.6,209.8 1748.7,217.6 1749.7,225.3 C1750.7,233 1752,242.8 1751.3,248.4 C1750.5,254.1 1746.4,255.4 1745.1,259.2 C1743.8,263.1 1743,267.2 1743.5,271.6 C1744,276 1749.4,283.2 1748.2,285.5 C1746.9,287.8 1738.9,287.8 1735.8,285.5 C1732.7,283.2 1733.2,272.9 1729.6,271.6 C1726,270.3 1720.9,276.7 1714.2,277.8 C1707.5,278.8 1695.4,279.3 1689.5,277.8 C1683.6,276.2 1680,267.2 1678.7,268.5 C1677.4,269.8 1683.6,282.7 1681.8,285.5 C1680,288.3 1671.2,288.6 1667.9,285.5 C1664.5,282.4 1663.8,273.1 1661.7,267 C1659.6,260.8 1656.8,255.4 1655.5,248.4 C1654.2,241.5 1653.5,233 1654,225.3 C1654.5,217.6 1657.3,209.8 1658.6,202.1 C1659.9,194.4 1661.2,186.7 1661.7,179 C1662.2,171.2 1661.7,161.5 1661.7,155.8 C1661.7,150.1 1663.2,148.8 1661.7,145 C1660.2,141.1 1655.3,136 1652.4,132.6 C1649.6,129.3 1646.1,127.7 1644.7,124.9 C1643.3,122.1 1642.1,117.7 1643.9,115.7 C1645.7,113.6 1651.5,113.6 1655.5,112.6 C1659.5,111.5 1665,111.3 1667.9,109.5 C1670.7,107.7 1670.7,103.6 1672.5,101.8 C1674.3,100 1676.9,101.5 1678.7,98.7 C1680.5,95.8 1681.8,88.1 1683.3,84.8 C1684.9,81.4 1686.1,82.7 1687.9,78.6 C1689.8,74.5 1692.3,64.2 1694.1,60.1 C1695.9,56 1696.2,54.7 1698.8,53.9 Z" fill="none" stroke="#8c8c8c" stroke-width="6" opacity="0.35" filter="url(#blur2)"/></g>
<g clip-path="url(#clp7n)"><polygon points="1697.2,52.4 1711.1,52.4 1723.5,77.1 1687.9,77.1" fill="#8a8a8a" opacity="0.55" filter="url(#blur2)"/></g>
<circle cx="1702.6" cy="135.7" r="1.5" fill="#ffff20"/>
</g>
<g clip-path="url(#clp10)">
<rect x="273.8" y="305.4" width="167.9" height="276.6" fill="#3e3e3e"/>
<rect x="273.8" y="305.4" width="167.9" height="28" fill="#383838"/>
<rect x="273.8" y="333.4" width="167.9" height="1.5" fill="#252525"/>
<rect x="283.6" y="305.4" width="5" height="20" fill="#151515"/>
<rect x="292.6" y="305.4" width="5" height="20" fill="#151515"/>
<rect x="288.6" y="305.4" width="4" height="20" fill="#4a4a4a"/>
<rect x="317.2" y="305.4" width="5" height="20" fill="#151515"/>
<rect x="326.2" y="305.4" width="5" height="20" fill="#151515"/>
<rect x="322.2" y="305.4" width="4" height="20" fill="#4a4a4a"/>
<rect x="384.3" y="305.4" width="5" height="20" fill="#151515"/>
<rect x="393.3" y="305.4" width="5" height="20" fill="#151515"/>
<rect x="389.3" y="305.4" width="4" height="20" fill="#4a4a4a"/>
<rect x="417.9" y="305.4" width="5" height="20" fill="#151515"/>
<rect x="426.9" y="305.4" width="5" height="20" fill="#151515"/>
<rect x="422.9" y="305.4" width="4" height="20" fill="#4a4a4a"/>
<rect x="273.8" y="351" width="167.9" height="1.6" fill="#262626"/>
<rect x="424.9" y="360.7" width="1.6" height="199.2" fill="#262626"/>
<rect x="282.2" y="488" width="33.6" height="1.5" fill="#262626"/>
<polygon points="273.9,341.2 300.4,348.4 291.5,386 273.9,384.2" fill="#b4b4b4" opacity="0.55"/>
<polygon points="273.9,386 289.7,387.8 279,416.4 273.9,416.4" fill="#b4b4b4" opacity="0.55"/>
<polygon points="404.3,335.8 442.3,332.2 442.3,407.5 406.1,409.3" fill="#b4b4b4" opacity="0.55"/>
<path d="M364.9,310.7 C368.5,310.7 374.2,308.7 377.5,310.7 C380.8,312.8 382.8,319.1 384.6,323.3 C386.4,327.5 386.4,331.3 388.2,335.8 C390,340.3 394.2,346 395.4,350.2 C396.6,354.3 393.6,357.9 395.4,360.9 C397.2,363.9 401.6,367.2 406.1,368.1 C410.6,369 416.9,366.4 422.2,366.3 C427.6,366.1 435.1,366.3 438.4,367.2 C441.7,368.1 441.5,369.7 442,371.6 C442.4,373.6 444,377.3 441.1,378.8 C438.1,380.3 429.9,379.7 424,380.6 C418.2,381.5 411.5,382.7 406.1,384.2 C400.8,385.7 395.1,386.9 391.8,389.6 C388.5,392.2 386.4,394.3 386.4,400.3 C386.4,406.3 389.4,416.7 391.8,425.4 C394.2,434 398.1,443.3 400.8,452.2 C403.4,461.2 406.1,470.2 407.9,479.1 C409.7,488.1 411.2,497.9 411.5,506 C411.8,514 411.8,523 409.7,527.5 C407.6,532 398.4,529.3 399,532.8 C399.6,536.4 407.9,545.4 413.3,549 C418.7,552.6 426.7,552.3 431.2,554.3 C435.7,556.4 439.3,559.7 440.2,561.5 C441.1,563.3 439.6,565.4 436.6,565.1 C433.6,564.8 427.3,560.9 422.2,559.7 C417.2,558.5 410.6,560 406.1,557.9 C401.6,555.8 399.6,548.4 395.4,547.2 C391.2,546 385.2,550.2 381.1,550.8 C376.9,551.4 372.2,545.5 370.3,550.8 C368.4,556 371.2,576.9 369.4,582.1 C367.6,587.3 361.2,587.3 359.6,582.1 C357.9,576.9 362.5,556.6 359.6,550.8 C356.6,544.9 345.8,546.6 341.6,547.2 C337.5,547.8 336.6,551.4 334.5,554.3 C332.4,557.3 332.7,561.8 329.1,565.1 C325.5,568.4 317.5,571.2 313,574 C308.5,576.9 304.9,581.2 302.2,582.1 C299.6,583 296,581.4 296.9,579.4 C297.8,577.5 303.4,574 307.6,570.5 C311.8,566.9 318.7,562.7 321.9,557.9 C325.2,553.1 329.1,549 327.3,541.8 C325.5,534.6 314.8,523.9 311.2,514.9 C307.6,506 306.1,498.5 305.8,488.1 C305.5,477.6 308.5,464.2 309.4,452.2 C310.3,440.3 310.6,425.4 311.2,416.4 C311.8,407.5 313.3,403.6 313,398.5 C312.7,393.4 313.6,388.7 309.4,386 C305.2,383.3 293.8,383 287.9,382.4 C282,381.8 276.3,384.2 273.9,382.4 C271.6,380.6 271,373.4 273.9,371.6 C276.9,369.9 286.2,372.2 291.5,371.6 C296.8,371 302.8,371 305.8,368.1 C308.8,365.1 306.4,358.5 309.4,353.7 C312.4,349 319,343.6 323.7,339.4 C328.5,335.2 334.5,332.2 338.1,328.7 C341.6,325.1 342.2,320.9 345.2,317.9 C348.2,314.9 352.7,311.9 356,310.7 C359.3,309.6 361.3,310.7 364.9,310.7 Z" fill="url(#vbody)" filter="url(#blur1)"/>
<clipPath id="clp10n"><path d="M364.9,310.7 C368.5,310.7 374.2,308.7 377.5,310.7 C380.8,312.8 382.8,319.1 384.6,323.3 C386.4,327.5 386.4,331.3 388.2,335.8 C390,340.3 394.2,346 395.4,350.2 C396.6,354.3 393.6,357.9 395.4,360.9 C397.2,363.9 401.6,367.2 406.1,368.1 C410.6,369 416.9,366.4 422.2,366.3 C427.6,366.1 435.1,366.3 438.4,367.2 C441.7,368.1 441.5,369.7 442,371.6 C442.4,373.6 444,377.3 441.1,378.8 C438.1,380.3 429.9,379.7 424,380.6 C418.2,381.5 411.5,382.7 406.1,384.2 C400.8,385.7 395.1,386.9 391.8,389.6 C388.5,392.2 386.4,394.3 386.4,400.3 C386.4,406.3 389.4,416.7 391.8,425.4 C394.2,434 398.1,443.3 400.8,452.2 C403.4,461.2 406.1,470.2 407.9,479.1 C409.7,488.1 411.2,497.9 411.5,506 C411.8,514 411.8,523 409.7,527.5 C407.6,532 398.4,529.3 399,532.8 C399.6,536.4 407.9,545.4 413.3,549 C418.7,552.6 426.7,552.3 431.2,554.3 C435.7,556.4 439.3,559.7 440.2,561.5 C441.1,563.3 439.6,565.4 436.6,565.1 C433.6,564.8 427.3,560.9 422.2,559.7 C417.2,558.5 410.6,560 406.1,557.9 C401.6,555.8 399.6,548.4 395.4,547.2 C391.2,546 385.2,550.2 381.1,550.8 C376.9,551.4 372.2,545.5 370.3,550.8 C368.4,556 371.2,576.9 369.4,582.1 C367.6,587.3 361.2,587.3 359.6,582.1 C357.9,576.9 362.5,556.6 359.6,550.8 C356.6,544.9 345.8,546.6 341.6,547.2 C337.5,547.8 336.6,551.4 334.5,554.3 C332.4,557.3 332.7,561.8 329.1,565.1 C325.5,568.4 317.5,571.2 313,574 C308.5,576.9 304.9,581.2 302.2,582.1 C299.6,583 296,581.4 296.9,579.4 C297.8,577.5 303.4,574 307.6,570.5 C311.8,566.9 318.7,562.7 321.9,557.9 C325.2,553.1 329.1,549 327.3,541.8 C325.5,534.6 314.8,523.9 311.2,514.9 C307.6,506 306.1,498.5 305.8,488.1 C305.5,477.6 308.5,464.2 309.4,452.2 C310.3,440.3 310.6,425.4 311.2,416.4 C311.8,407.5 313.3,403.6 313,398.5 C312.7,393.4 313.6,388.7 309.4,386 C305.2,383.3 293.8,383 287.9,382.4 C282,381.8 276.3,384.2 273.9,382.4 C271.6,380.6 271,373.4 273.9,371.6 C276.9,369.9 286.2,372.2 291.5,371.6 C296.8,371 302.8,371 305.8,368.1 C308.8,365.1 306.4,358.5 309.4,353.7 C312.4,349 319,343.6 323.7,339.4 C328.5,335.2 334.5,332.2 338.1,328.7 C341.6,325.1 342.2,320.9 345.2,317.9 C348.2,314.9 352.7,311.9 356,310.7 C359.3,309.6 361.3,310.7 364.9,310.7 Z"/></clipPath>
<g clip-path="url(#clp10n)"><path d="M364.9,310.7 C368.5,310.7 374.2,308.7 377.5,310.7 C380.8,312.8 382.8,319.1 384.6,323.3 C386.4,327.5 386.4,331.3 388.2,335.8 C390,340.3 394.2,346 395.4,350.2 C396.6,354.3 393.6,357.9 395.4,360.9 C397.2,363.9 401.6,367.2 406.1,368.1 C410.6,369 416.9,366.4 422.2,366.3 C427.6,366.1 435.1,366.3 438.4,367.2 C441.7,368.1 441.5,369.7 442,371.6 C442.4,373.6 444,377.3 441.1,378.8 C438.1,380.3 429.9,379.7 424,380.6 C418.2,381.5 411.5,382.7 406.1,384.2 C400.8,385.7 395.1,386.9 391.8,389.6 C388.5,392.2 386.4,394.3 386.4,400.3 C386.4,406.3 389.4,416.7 391.8,425.4 C394.2,434 398.1,443.3 400.8,452.2 C403.4,461.2 406.1,470.2 407.9,479.1 C409.7,488.1 411.2,497.9 411.5,506 C411.8,514 411.8,523 409.7,527.5 C407.6,532 398.4,529.3 399,532.8 C399.6,536.4 407.9,545.4 413.3,549 C418.7,552.6 426.7,552.3 431.2,554.3 C435.7,556.4 439.3,559.7 440.2,561.5 C441.1,563.3 439.6,565.4 436.6,565.1 C433.6,564.8 427.3,560.9 422.2,559.7 C417.2,558.5 410.6,560 406.1,557.9 C401.6,555.8 399.6,548.4 395.4,547.2 C391.2,546 385.2,550.2 381.1,550.8 C376.9,551.4 372.2,545.5 370.3,550.8 C368.4,556 371.2,576.9 369.4,582.1 C367.6,587.3 361.2,587.3 359.6,582.1 C357.9,576.9 362.5,556.6 359.6,550.8 C356.6,544.9 345.8,546.6 341.6,547.2 C337.5,547.8 336.6,551.4 334.5,554.3 C332.4,557.3 332.7,561.8 329.1,565.1 C325.5,568.4 317.5,571.2 313,574 C308.5,576.9 304.9,581.2 302.2,582.1 C299.6,583 296,581.4 296.9,579.4 C297.8,577.5 303.4,574 307.6,570.5 C311.8,566.9 318.7,562.7 321.9,557.9 C325.2,553.1 329.1,549 327.3,541.8 C325.5,534.6 314.8,523.9 311.2,514.9 C307.6,506 306.1,498.5 305.8,488.1 C305.5,477.6 308.5,464.2 309.4,452.2 C310.3,440.3 310.6,425.4 311.2,416.4 C311.8,407.5 313.3,403.6 313,398.5 C312.7,393.4 313.6,388.7 309.4,386 C305.2,383.3 293.8,383 287.9,382.4 C282,381.8 276.3,384.2 273.9,382.4 C271.6,380.6 271,373.4 273.9,371.6 C276.9,369.9 286.2,372.2 291.5,371.6 C296.8,371 302.8,371 305.8,368.1 C308.8,365.1 306.4,358.5 309.4,353.7 C312.4,349 319,343.6 323.7,339.4 C328.5,335.2 334.5,332.2 338.1,328.7 C341.6,325.1 342.2,320.9 345.2,317.9 C348.2,314.9 352.7,311.9 356,310.7 C359.3,309.6 361.3,310.7 364.9,310.7 Z" fill="none" stroke="#8c8c8c" stroke-width="6" opacity="0.35" filter="url(#blur2)"/></g>
</g>
<g clip-path="url(#clp11)">
<rect x="468.6" y="305.4" width="170.7" height="276.6" fill="#3e3e3e"/>
<rect x="468.6" y="305.4" width="170.7" height="28" fill="#383838"/>
<rect x="468.6" y="333.4" width="170.7" height="1.5" fill="#252525"/>
<rect x="478.7" y="305.4" width="5" height="20" fill="#151515"/>
<rect x="487.7" y="305.4" width="5" height="20" fill="#151515"/>
<rect x="483.7" y="305.4" width="4" height="20" fill="#4a4a4a"/>
<rect x="512.8" y="305.4" width="5" height="20" fill="#151515"/>
<rect x="521.8" y="305.4" width="5" height="20" fill="#151515"/>
<rect x="517.8" y="305.4" width="4" height="20" fill="#4a4a4a"/>
<rect x="581.1" y="305.4" width="5" height="20" fill="#151515"/>
<rect x="590.1" y="305.4" width="5" height="20" fill="#151515"/>
<rect x="586.1" y="305.4" width="4" height="20" fill="#4a4a4a"/>
<rect x="615.2" y="305.4" width="5" height="20" fill="#151515"/>
<rect x="624.2" y="305.4" width="5" height="20" fill="#151515"/>
<rect x="620.2" y="305.4" width="4" height="20" fill="#4a4a4a"/>
<rect x="468.6" y="351" width="170.7" height="1.6" fill="#262626"/>
<rect x="622.2" y="360.7" width="1.6" height="199.2" fill="#262626"/>
<rect x="477.1" y="488" width="34.1" height="1.5" fill="#262626"/>
<polygon points="468.3,335.8 501.4,357.3 488.9,377 468.3,369.9" fill="#b4b4b4" opacity="0.55"/>
<polygon points="468.3,386 483.5,387.8 468.3,407.5" fill="#b4b4b4" opacity="0.55"/>
<polygon points="619.6,348.4 639.4,344.8 639.4,371.7 626.8,368.1" fill="#b4b4b4" opacity="0.55"/>
<polygon points="628.6,389.6 639.4,389.6 639.4,429 632.2,429" fill="#b4b4b4" opacity="0.55"/>
<path d="M528.3,307.2 C535.5,306.6 561.1,303.9 569.5,307.2 C577.8,310.5 575.8,320.6 578.4,326.9 C581.1,333.1 582.9,339.4 585.6,344.8 C588.3,350.2 593.1,355.2 594.6,359.1 C596.1,363 592.8,365.4 594.6,368.1 C596.4,370.8 600.5,374 605.3,375.2 C610.1,376.4 617.6,375.2 623.2,375.2 C628.9,375.2 636.7,373.7 639.4,375.2 C642,376.7 642.6,382.7 639.4,384.2 C636.1,385.7 625.6,383.6 619.6,384.2 C613.7,384.8 608.3,385.7 603.5,387.8 C598.7,389.9 592.5,390.5 591,396.7 C589.5,403 592.8,416.1 594.6,425.4 C596.4,434.7 599.6,443.3 601.7,452.3 C603.8,461.2 605,470.2 607.1,479.1 C609.2,488.1 612.2,498.6 614.3,506 C616.4,513.5 619.4,518 619.6,523.9 C619.9,529.9 617.3,536.5 616.1,541.8 C614.9,547.2 610.7,552.6 612.5,556.2 C614.3,559.8 622.3,562.2 626.8,563.3 C631.3,564.5 637.3,561.9 639.4,563.3 C641.4,564.8 642,570.8 639.4,572.3 C636.7,573.8 628.3,572.9 623.2,572.3 C618.2,571.7 613.1,572.9 608.9,568.7 C604.7,564.5 601.7,551.4 598.2,547.2 C594.6,543 590.7,542.4 587.4,543.6 C584.1,544.8 580.8,550.2 578.4,554.4 C576.1,558.6 575.5,564.1 573.1,568.7 C570.7,573.3 567.1,579.9 564.1,582.2 C561.1,584.4 557.8,584.4 555.2,582.2 C552.5,579.9 551.9,572.5 548,568.7 C544.1,565 535.7,559.5 531.9,559.8 C528,560.1 530.4,567.8 524.7,570.5 C519,573.2 502.6,576.5 497.8,575.9 C493.1,575.3 494.5,569.3 496,566.9 C497.5,564.5 503.5,563.6 506.8,561.6 C510.1,559.5 517.2,558.6 515.7,554.4 C514.3,550.2 501.4,543 497.8,536.5 C494.2,529.9 494.5,524.5 494.2,515 C493.9,505.4 494.8,489.6 496,479.1 C497.2,468.7 499.3,461.2 501.4,452.3 C503.5,443.3 506.5,434.1 508.6,425.4 C510.7,416.7 513.7,406.3 514,400.3 C514.3,394.4 514.5,392.3 510.4,389.6 C506.2,386.9 495.9,385.1 488.9,384.2 C481.9,383.3 471.7,386 468.3,384.2 C464.8,382.4 464.8,374.9 468.3,373.5 C471.7,372 482.2,375.5 488.9,375.2 C495.6,374.9 504.4,374.6 508.6,371.7 C512.8,368.7 511.9,361.8 514,357.3 C516,352.8 519.6,349.9 521.1,344.8 C522.6,339.7 522,332.5 522.9,326.9 C523.8,321.2 525.6,314 526.5,310.7 C527.4,307.5 521.1,307.8 528.3,307.2 Z" fill="url(#vbody)" filter="url(#blur1)"/>
<clipPath id="clp11n"><path d="M528.3,307.2 C535.5,306.6 561.1,303.9 569.5,307.2 C577.8,310.5 575.8,320.6 578.4,326.9 C581.1,333.1 582.9,339.4 585.6,344.8 C588.3,350.2 593.1,355.2 594.6,359.1 C596.1,363 592.8,365.4 594.6,368.1 C596.4,370.8 600.5,374 605.3,375.2 C610.1,376.4 617.6,375.2 623.2,375.2 C628.9,375.2 636.7,373.7 639.4,375.2 C642,376.7 642.6,382.7 639.4,384.2 C636.1,385.7 625.6,383.6 619.6,384.2 C613.7,384.8 608.3,385.7 603.5,387.8 C598.7,389.9 592.5,390.5 591,396.7 C589.5,403 592.8,416.1 594.6,425.4 C596.4,434.7 599.6,443.3 601.7,452.3 C603.8,461.2 605,470.2 607.1,479.1 C609.2,488.1 612.2,498.6 614.3,506 C616.4,513.5 619.4,518 619.6,523.9 C619.9,529.9 617.3,536.5 616.1,541.8 C614.9,547.2 610.7,552.6 612.5,556.2 C614.3,559.8 622.3,562.2 626.8,563.3 C631.3,564.5 637.3,561.9 639.4,563.3 C641.4,564.8 642,570.8 639.4,572.3 C636.7,573.8 628.3,572.9 623.2,572.3 C618.2,571.7 613.1,572.9 608.9,568.7 C604.7,564.5 601.7,551.4 598.2,547.2 C594.6,543 590.7,542.4 587.4,543.6 C584.1,544.8 580.8,550.2 578.4,554.4 C576.1,558.6 575.5,564.1 573.1,568.7 C570.7,573.3 567.1,579.9 564.1,582.2 C561.1,584.4 557.8,584.4 555.2,582.2 C552.5,579.9 551.9,572.5 548,568.7 C544.1,565 535.7,559.5 531.9,559.8 C528,560.1 530.4,567.8 524.7,570.5 C519,573.2 502.6,576.5 497.8,575.9 C493.1,575.3 494.5,569.3 496,566.9 C497.5,564.5 503.5,563.6 506.8,561.6 C510.1,559.5 517.2,558.6 515.7,554.4 C514.3,550.2 501.4,543 497.8,536.5 C494.2,529.9 494.5,524.5 494.2,515 C493.9,505.4 494.8,489.6 496,479.1 C497.2,468.7 499.3,461.2 501.4,452.3 C503.5,443.3 506.5,434.1 508.6,425.4 C510.7,416.7 513.7,406.3 514,400.3 C514.3,394.4 514.5,392.3 510.4,389.6 C506.2,386.9 495.9,385.1 488.9,384.2 C481.9,383.3 471.7,386 468.3,384.2 C464.8,382.4 464.8,374.9 468.3,373.5 C471.7,372 482.2,375.5 488.9,375.2 C495.6,374.9 504.4,374.6 508.6,371.7 C512.8,368.7 511.9,361.8 514,357.3 C516,352.8 519.6,349.9 521.1,344.8 C522.6,339.7 522,332.5 522.9,326.9 C523.8,321.2 525.6,314 526.5,310.7 C527.4,307.5 521.1,307.8 528.3,307.2 Z"/></clipPath>
<g clip-path="url(#clp11n)"><path d="M528.3,307.2 C535.5,306.6 561.1,303.9 569.5,307.2 C577.8,310.5 575.8,320.6 578.4,326.9 C581.1,333.1 582.9,339.4 585.6,344.8 C588.3,350.2 593.1,355.2 594.6,359.1 C596.1,363 592.8,365.4 594.6,368.1 C596.4,370.8 600.5,374 605.3,375.2 C610.1,376.4 617.6,375.2 623.2,375.2 C628.9,375.2 636.7,373.7 639.4,375.2 C642,376.7 642.6,382.7 639.4,384.2 C636.1,385.7 625.6,383.6 619.6,384.2 C613.7,384.8 608.3,385.7 603.5,387.8 C598.7,389.9 592.5,390.5 591,396.7 C589.5,403 592.8,416.1 594.6,425.4 C596.4,434.7 599.6,443.3 601.7,452.3 C603.8,461.2 605,470.2 607.1,479.1 C609.2,488.1 612.2,498.6 614.3,506 C616.4,513.5 619.4,518 619.6,523.9 C619.9,529.9 617.3,536.5 616.1,541.8 C614.9,547.2 610.7,552.6 612.5,556.2 C614.3,559.8 622.3,562.2 626.8,563.3 C631.3,564.5 637.3,561.9 639.4,563.3 C641.4,564.8 642,570.8 639.4,572.3 C636.7,573.8 628.3,572.9 623.2,572.3 C618.2,571.7 613.1,572.9 608.9,568.7 C604.7,564.5 601.7,551.4 598.2,547.2 C594.6,543 590.7,542.4 587.4,543.6 C584.1,544.8 580.8,550.2 578.4,554.4 C576.1,558.6 575.5,564.1 573.1,568.7 C570.7,573.3 567.1,579.9 564.1,582.2 C561.1,584.4 557.8,584.4 555.2,582.2 C552.5,579.9 551.9,572.5 548,568.7 C544.1,565 535.7,559.5 531.9,559.8 C528,560.1 530.4,567.8 524.7,570.5 C519,573.2 502.6,576.5 497.8,575.9 C493.1,575.3 494.5,569.3 496,566.9 C497.5,564.5 503.5,563.6 506.8,561.6 C510.1,559.5 517.2,558.6 515.7,554.4 C514.3,550.2 501.4,543 497.8,536.5 C494.2,529.9 494.5,524.5 494.2,515 C493.9,505.4 494.8,489.6 496,479.1 C497.2,468.7 499.3,461.2 501.4,452.3 C503.5,443.3 506.5,434.1 508.6,425.4 C510.7,416.7 513.7,406.3 514,400.3 C514.3,394.4 514.5,392.3 510.4,389.6 C506.2,386.9 495.9,385.1 488.9,384.2 C481.9,383.3 471.7,386 468.3,384.2 C464.8,382.4 464.8,374.9 468.3,373.5 C471.7,372 482.2,375.5 488.9,375.2 C495.6,374.9 504.4,374.6 508.6,371.7 C512.8,368.7 511.9,361.8 514,357.3 C516,352.8 519.6,349.9 521.1,344.8 C522.6,339.7 522,332.5 522.9,326.9 C523.8,321.2 525.6,314 526.5,310.7 C527.4,307.5 521.1,307.8 528.3,307.2 Z" fill="none" stroke="#8c8c8c" stroke-width="6" opacity="0.35" filter="url(#blur2)"/></g>
<rect x="521.1" y="341.2" width="6.3" height="19.7" fill="#5c0000"/>
<rect x="565" y="325.4" width="3" height="2.9" fill="#5c0000"/>
<rect x="571.3" y="331.7" width="3" height="2.9" fill="#5c0000"/>
<rect x="558.2" y="355.5" width="2.9" height="2.9" fill="#5c0000"/>
<rect x="510.7" y="415.9" width="2.9" height="2.9" fill="#5c0000"/>
<rect x="520.6" y="436.2" width="2.9" height="2.9" fill="#5c0000"/>
<rect x="561.2" y="492.9" width="2.9" height="2.9" fill="#5c0000"/>
<rect x="591.3" y="506.4" width="2.9" height="2.9" fill="#5c0000"/>
<rect x="562.3" y="520.4" width="5.4" height="14.3" fill="#5c0000"/>
<rect x="558.7" y="527.5" width="10.7" height="4.5" fill="#5c0000"/>
<rect x="571.3" y="529.3" width="7.2" height="2.7" fill="#5c0000"/>
<rect x="571.3" y="522.1" width="2.7" height="2.7" fill="#5c0000"/>
<rect x="540.8" y="547.2" width="7.2" height="8.1" fill="#5c0000"/>
<rect x="531.9" y="552.6" width="5.4" height="2.7" fill="#5c0000"/>
<rect x="523.8" y="549.9" width="3" height="5.4" fill="#5c0000"/>
<rect x="514.5" y="552.6" width="2.7" height="2.7" fill="#5c0000"/>
<rect x="523.8" y="562.5" width="6.3" height="6.3" fill="#5c0000"/>
<rect x="568.6" y="560.1" width="6.3" height="1.8" fill="#5c0000"/>
<rect x="608.9" y="562.5" width="2.7" height="2.7" fill="#5c0000"/>
<rect x="615.2" y="560.7" width="2.7" height="4.5" fill="#5c0000"/>
<rect x="628.6" y="376.1" width="9.9" height="4.5" fill="#5c0000"/>
<rect x="557.8" y="580.4" width="5.4" height="1.8" fill="#5c0000"/>
</g>
<g clip-path="url(#clp12)">
<rect x="674" y="305.8" width="173.2" height="276.8" fill="#3e3e3e"/>
<rect x="674" y="305.8" width="173.2" height="28" fill="#383838"/>
<rect x="674" y="333.8" width="173.2" height="1.5" fill="#252525"/>
<rect x="684.3" y="305.8" width="5" height="20" fill="#151515"/>
<rect x="693.3" y="305.8" width="5" height="20" fill="#151515"/>
<rect x="689.3" y="305.8" width="4" height="20" fill="#4a4a4a"/>
<rect x="719" y="305.8" width="5" height="20" fill="#151515"/>
<rect x="728" y="305.8" width="5" height="20" fill="#151515"/>
<rect x="724" y="305.8" width="4" height="20" fill="#4a4a4a"/>
<rect x="788.2" y="305.8" width="5" height="20" fill="#151515"/>
<rect x="797.2" y="305.8" width="5" height="20" fill="#151515"/>
<rect x="793.2" y="305.8" width="4" height="20" fill="#4a4a4a"/>
<rect x="822.9" y="305.8" width="5" height="20" fill="#151515"/>
<rect x="831.9" y="305.8" width="5" height="20" fill="#151515"/>
<rect x="827.9" y="305.8" width="4" height="20" fill="#4a4a4a"/>
<rect x="674" y="351.5" width="173.2" height="1.6" fill="#262626"/>
<rect x="829.9" y="361.2" width="1.6" height="199.3" fill="#262626"/>
<rect x="682.7" y="488.5" width="34.6" height="1.5" fill="#262626"/>
<polygon points="811.3,364.5 847.1,364.5 847.1,439.7 809.5,437.9" fill="#b4b4b4" opacity="0.55"/>
<path d="M752.2,307.2 C754.6,306.1 758.1,305.7 761.1,308.1 C764.1,310.4 768,315.4 770.1,321.5 C772.2,327.6 772.2,339.7 773.7,344.8 C775.2,349.8 775.7,351 779,351.9 C782.3,352.8 789.2,348.9 793.4,350.1 C797.5,351.3 802.3,354.9 804.1,359.1 C805.9,363.3 805.9,371.6 804.1,375.2 C802.3,378.8 796.9,380 793.4,380.6 C789.8,381.2 783.2,376.7 782.6,378.8 C782,380.9 785.6,389.8 789.8,393.1 C794,396.4 801.7,397.3 807.7,398.5 C813.7,399.7 821.1,399.4 825.6,400.3 C830.1,401.2 833.4,401.8 834.5,403.9 C835.7,406 835.1,411.6 832.8,412.8 C830.4,414 825,411.6 820.2,411 C815.4,410.4 810.1,408.6 804.1,409.2 C798.1,409.8 786.8,410.4 784.4,414.6 C782,418.8 787.7,426.6 789.8,434.3 C791.9,442.1 794.6,452.2 796.9,461.2 C799.3,470.1 801.7,479.1 804.1,488 C806.5,497 810.4,507.4 811.3,514.9 C812.2,522.4 811.9,527.7 809.5,532.8 C807.1,537.9 798.1,541.8 796.9,545.3 C795.7,548.9 799.3,551 802.3,554.3 C805.3,557.6 809.5,562.7 814.8,565 C820.2,567.4 829.2,566.2 834.5,568.6 C839.9,571 846.2,577 847.1,579.4 C848,581.8 844.1,583.5 839.9,583 C835.7,582.4 828,578.2 822,575.8 C816,573.4 808.9,571 804.1,568.6 C799.3,566.2 799.3,562.7 793.4,561.5 C787.4,560.3 773.1,558 768.3,561.5 C763.5,564.9 767.1,578.6 764.7,582.1 C762.3,585.5 756,585.5 754,582.1 C751.9,578.6 756.3,566.7 752.2,561.5 C748,556.2 734,550.4 728.9,550.7 C723.8,551 724.4,559.4 721.7,563.3 C719,567.1 716.4,570.9 712.8,574 C709.2,577.1 702.6,581.8 700.2,582.1 C697.8,582.4 697,578 698.4,575.8 C699.9,573.5 705.9,571.6 709.2,568.6 C712.5,565.6 718.4,561.8 718.1,557.9 C717.8,554 710.1,551 707.4,545.3 C704.7,539.7 702.9,531.9 702,523.9 C701.1,515.8 701.7,507.4 702,497 C702.3,486.5 703.5,471.6 703.8,461.2 C704.1,450.7 703.2,442.7 703.8,434.3 C704.4,426 707.4,416.7 707.4,411 C707.4,405.4 706.8,402.4 703.8,400.3 C700.8,398.2 694.4,399.1 689.5,398.5 C684.6,397.9 676.8,399.1 674.3,396.7 C671.7,394.3 672.3,386.9 674.3,384.2 C676.2,381.5 681,381.5 685.9,380.6 C690.8,379.7 699.6,379.7 703.8,378.8 C708,377.9 708,377.9 711,375.2 C714,372.5 718.4,367.8 721.7,362.7 C725,357.6 727.7,350.7 730.7,344.8 C733.7,338.8 736.9,331.9 739.6,326.9 C742.3,321.8 744.7,317.6 746.8,314.3 C748.9,311 749.8,308.2 752.2,307.2 Z" fill="url(#vbody)" filter="url(#blur1)"/>
<clipPath id="clp12n"><path d="M752.2,307.2 C754.6,306.1 758.1,305.7 761.1,308.1 C764.1,310.4 768,315.4 770.1,321.5 C772.2,327.6 772.2,339.7 773.7,344.8 C775.2,349.8 775.7,351 779,351.9 C782.3,352.8 789.2,348.9 793.4,350.1 C797.5,351.3 802.3,354.9 804.1,359.1 C805.9,363.3 805.9,371.6 804.1,375.2 C802.3,378.8 796.9,380 793.4,380.6 C789.8,381.2 783.2,376.7 782.6,378.8 C782,380.9 785.6,389.8 789.8,393.1 C794,396.4 801.7,397.3 807.7,398.5 C813.7,399.7 821.1,399.4 825.6,400.3 C830.1,401.2 833.4,401.8 834.5,403.9 C835.7,406 835.1,411.6 832.8,412.8 C830.4,414 825,411.6 820.2,411 C815.4,410.4 810.1,408.6 804.1,409.2 C798.1,409.8 786.8,410.4 784.4,414.6 C782,418.8 787.7,426.6 789.8,434.3 C791.9,442.1 794.6,452.2 796.9,461.2 C799.3,470.1 801.7,479.1 804.1,488 C806.5,497 810.4,507.4 811.3,514.9 C812.2,522.4 811.9,527.7 809.5,532.8 C807.1,537.9 798.1,541.8 796.9,545.3 C795.7,548.9 799.3,551 802.3,554.3 C805.3,557.6 809.5,562.7 814.8,565 C820.2,567.4 829.2,566.2 834.5,568.6 C839.9,571 846.2,577 847.1,579.4 C848,581.8 844.1,583.5 839.9,583 C835.7,582.4 828,578.2 822,575.8 C816,573.4 808.9,571 804.1,568.6 C799.3,566.2 799.3,562.7 793.4,561.5 C787.4,560.3 773.1,558 768.3,561.5 C763.5,564.9 767.1,578.6 764.7,582.1 C762.3,585.5 756,585.5 754,582.1 C751.9,578.6 756.3,566.7 752.2,561.5 C748,556.2 734,550.4 728.9,550.7 C723.8,551 724.4,559.4 721.7,563.3 C719,567.1 716.4,570.9 712.8,574 C709.2,577.1 702.6,581.8 700.2,582.1 C697.8,582.4 697,578 698.4,575.8 C699.9,573.5 705.9,571.6 709.2,568.6 C712.5,565.6 718.4,561.8 718.1,557.9 C717.8,554 710.1,551 707.4,545.3 C704.7,539.7 702.9,531.9 702,523.9 C701.1,515.8 701.7,507.4 702,497 C702.3,486.5 703.5,471.6 703.8,461.2 C704.1,450.7 703.2,442.7 703.8,434.3 C704.4,426 707.4,416.7 707.4,411 C707.4,405.4 706.8,402.4 703.8,400.3 C700.8,398.2 694.4,399.1 689.5,398.5 C684.6,397.9 676.8,399.1 674.3,396.7 C671.7,394.3 672.3,386.9 674.3,384.2 C676.2,381.5 681,381.5 685.9,380.6 C690.8,379.7 699.6,379.7 703.8,378.8 C708,377.9 708,377.9 711,375.2 C714,372.5 718.4,367.8 721.7,362.7 C725,357.6 727.7,350.7 730.7,344.8 C733.7,338.8 736.9,331.9 739.6,326.9 C742.3,321.8 744.7,317.6 746.8,314.3 C748.9,311 749.8,308.2 752.2,307.2 Z"/></clipPath>
<g clip-path="url(#clp12n)"><path d="M752.2,307.2 C754.6,306.1 758.1,305.7 761.1,308.1 C764.1,310.4 768,315.4 770.1,321.5 C772.2,327.6 772.2,339.7 773.7,344.8 C775.2,349.8 775.7,351 779,351.9 C782.3,352.8 789.2,348.9 793.4,350.1 C797.5,351.3 802.3,354.9 804.1,359.1 C805.9,363.3 805.9,371.6 804.1,375.2 C802.3,378.8 796.9,380 793.4,380.6 C789.8,381.2 783.2,376.7 782.6,378.8 C782,380.9 785.6,389.8 789.8,393.1 C794,396.4 801.7,397.3 807.7,398.5 C813.7,399.7 821.1,399.4 825.6,400.3 C830.1,401.2 833.4,401.8 834.5,403.9 C835.7,406 835.1,411.6 832.8,412.8 C830.4,414 825,411.6 820.2,411 C815.4,410.4 810.1,408.6 804.1,409.2 C798.1,409.8 786.8,410.4 784.4,414.6 C782,418.8 787.7,426.6 789.8,434.3 C791.9,442.1 794.6,452.2 796.9,461.2 C799.3,470.1 801.7,479.1 804.1,488 C806.5,497 810.4,507.4 811.3,514.9 C812.2,522.4 811.9,527.7 809.5,532.8 C807.1,537.9 798.1,541.8 796.9,545.3 C795.7,548.9 799.3,551 802.3,554.3 C805.3,557.6 809.5,562.7 814.8,565 C820.2,567.4 829.2,566.2 834.5,568.6 C839.9,571 846.2,577 847.1,579.4 C848,581.8 844.1,583.5 839.9,583 C835.7,582.4 828,578.2 822,575.8 C816,573.4 808.9,571 804.1,568.6 C799.3,566.2 799.3,562.7 793.4,561.5 C787.4,560.3 773.1,558 768.3,561.5 C763.5,564.9 767.1,578.6 764.7,582.1 C762.3,585.5 756,585.5 754,582.1 C751.9,578.6 756.3,566.7 752.2,561.5 C748,556.2 734,550.4 728.9,550.7 C723.8,551 724.4,559.4 721.7,563.3 C719,567.1 716.4,570.9 712.8,574 C709.2,577.1 702.6,581.8 700.2,582.1 C697.8,582.4 697,578 698.4,575.8 C699.9,573.5 705.9,571.6 709.2,568.6 C712.5,565.6 718.4,561.8 718.1,557.9 C717.8,554 710.1,551 707.4,545.3 C704.7,539.7 702.9,531.9 702,523.9 C701.1,515.8 701.7,507.4 702,497 C702.3,486.5 703.5,471.6 703.8,461.2 C704.1,450.7 703.2,442.7 703.8,434.3 C704.4,426 707.4,416.7 707.4,411 C707.4,405.4 706.8,402.4 703.8,400.3 C700.8,398.2 694.4,399.1 689.5,398.5 C684.6,397.9 676.8,399.1 674.3,396.7 C671.7,394.3 672.3,386.9 674.3,384.2 C676.2,381.5 681,381.5 685.9,380.6 C690.8,379.7 699.6,379.7 703.8,378.8 C708,377.9 708,377.9 711,375.2 C714,372.5 718.4,367.8 721.7,362.7 C725,357.6 727.7,350.7 730.7,344.8 C733.7,338.8 736.9,331.9 739.6,326.9 C742.3,321.8 744.7,317.6 746.8,314.3 C748.9,311 749.8,308.2 752.2,307.2 Z" fill="none" stroke="#8c8c8c" stroke-width="6" opacity="0.35" filter="url(#blur2)"/></g>
<rect x="730.7" y="362.7" width="5.4" height="5.4" fill="#5c0000"/>
<rect x="742.3" y="366.3" width="11.6" height="10.7" fill="#5c0000"/>
<rect x="743.2" y="375.2" width="3.6" height="3.6" fill="#5c0000"/>
<rect x="766.5" y="368.1" width="6.3" height="9" fill="#5c0000"/>
<rect x="759.7" y="326.5" width="3.2" height="3" fill="#5c0000"/>
<rect x="766.9" y="347.5" width="3.2" height="6.3" fill="#5c0000"/>
<rect x="809.5" y="399.4" width="5.4" height="6.3" fill="#5c0000"/>
<rect x="826.5" y="403" width="5.4" height="4.5" fill="#5c0000"/>
<rect x="775.4" y="416.4" width="7.2" height="16.1" fill="#5c0000"/>
<rect x="779" y="432.5" width="8.1" height="10.7" fill="#5c0000"/>
<rect x="784.4" y="443.3" width="3.2" height="3.9" fill="#5c0000"/>
<rect x="719.9" y="556.1" width="7.2" height="10.7" fill="#5c0000"/>
<rect x="703.8" y="572.2" width="7.2" height="10.7" fill="#5c0000"/>
<rect x="793.4" y="545.3" width="9" height="17.9" fill="#5c0000"/>
<rect x="815.7" y="565" width="4.5" height="4.5" fill="#5c0000"/>
<rect x="755.8" y="572.2" width="10.7" height="9.8" fill="#5c0000"/>
<rect x="757.9" y="556.4" width="2.9" height="2.9" fill="#5c0000"/>
<rect x="771.9" y="536.4" width="9" height="7.2" fill="#5c0000"/>
<ellipse cx="770.1" cy="523" rx="17.9" ry="20.6" fill="url(#hot)"/>
</g>
<g clip-path="url(#clp13)">
<rect x="863.5" y="305.8" width="154.5" height="276.8" fill="#3e3e3e"/>
<rect x="863.5" y="305.8" width="154.5" height="28" fill="#383838"/>
<rect x="863.5" y="333.8" width="154.5" height="1.5" fill="#252525"/>
<rect x="872" y="305.8" width="5" height="20" fill="#151515"/>
<rect x="881" y="305.8" width="5" height="20" fill="#151515"/>
<rect x="877" y="305.8" width="4" height="20" fill="#4a4a4a"/>
<rect x="902.9" y="305.8" width="5" height="20" fill="#151515"/>
<rect x="911.9" y="305.8" width="5" height="20" fill="#151515"/>
<rect x="907.9" y="305.8" width="4" height="20" fill="#4a4a4a"/>
<rect x="964.6" y="305.8" width="5" height="20" fill="#151515"/>
<rect x="973.6" y="305.8" width="5" height="20" fill="#151515"/>
<rect x="969.6" y="305.8" width="4" height="20" fill="#4a4a4a"/>
<rect x="995.5" y="305.8" width="5" height="20" fill="#151515"/>
<rect x="1004.5" y="305.8" width="5" height="20" fill="#151515"/>
<rect x="1000.5" y="305.8" width="4" height="20" fill="#4a4a4a"/>
<rect x="863.5" y="351.5" width="154.5" height="1.6" fill="#262626"/>
<rect x="1002.5" y="361.2" width="1.6" height="199.3" fill="#262626"/>
<rect x="871.2" y="488.5" width="30.9" height="1.5" fill="#262626"/>
<polygon points="998.6,332.3 1017.4,328.7 1017.4,407.5 991.4,405.7" fill="#b4b4b4" opacity="0.55"/>
<path d="M925.1,307.2 C928.1,306.6 935.8,304.8 939.4,307.2 C943,309.6 944.8,316.7 946.6,321.5 C948.4,326.3 948.7,331.7 950.2,335.8 C951.7,340 952.6,344.5 955.5,346.6 C958.5,348.7 963.9,346.9 968.1,348.4 C972.3,349.9 977.9,352.3 980.6,355.5 C983.3,358.8 984.5,365.1 984.2,368.1 C983.9,371.1 981.5,373.2 978.8,373.5 C976.2,373.8 969.3,369 968.1,369.9 C966.9,370.8 968.1,377.3 971.7,378.8 C975.3,380.3 984.8,379.4 989.6,378.8 C994.4,378.2 996.2,375.9 1000.3,375.3 C1004.5,374.7 1012,374.1 1014.7,375.3 C1017.4,376.4 1018.3,380.3 1016.5,382.4 C1014.7,384.5 1008.4,386.6 1003.9,387.8 C999.4,389 995,387.5 989.6,389.6 C984.2,391.7 975.3,396.8 971.7,400.3 C968.1,403.9 968.4,405.4 968.1,411.1 C967.8,416.8 968.7,426 969.9,434.4 C971.1,442.7 973.5,452.3 975.3,461.3 C977.1,470.2 978.5,479.2 980.6,488.1 C982.7,497.1 986.6,507.5 987.8,515 C989,522.5 990.5,527.6 987.8,532.9 C985.1,538.3 973.8,543.4 971.7,547.3 C969.6,551.1 972.3,552.9 975.3,556.2 C978.2,559.5 984.5,564.3 989.6,567 C994.7,569.7 1002.4,569.8 1005.7,572.4 C1009,574.9 1010.8,580.6 1009.3,582.2 C1007.8,583.8 1001.2,583.6 996.8,582.2 C992.3,580.9 987.2,576.4 982.4,574.1 C977.6,571.9 971.7,572.1 968.1,568.8 C964.5,565.5 965.4,555.9 960.9,554.4 C956.4,552.9 944.5,555.2 941.2,559.8 C937.9,564.4 942.7,578.5 941.2,582.2 C939.7,585.9 933.7,585.6 932.3,582.2 C930.8,578.8 935.8,566.8 932.3,561.6 C928.7,556.4 915.5,550.9 910.8,550.9 C906,550.9 907.2,558.6 903.6,561.6 C900,564.6 894.9,566.4 889.3,568.8 C883.6,571.2 873.4,573.7 869.5,575.9 C865.7,578.2 866.9,582.8 866,582.2 C865.1,581.6 861.5,575.5 864.2,572.4 C866.9,569.2 876.7,566.4 882.1,563.4 C887.5,560.4 894,558.3 896.4,554.4 C898.8,550.6 899.1,546.7 896.4,540.1 C893.7,533.5 882.4,523.7 880.3,515 C878.2,506.4 882.7,497.1 883.9,488.1 C885.1,479.2 886,470.2 887.5,461.3 C889,452.3 891,442.7 892.8,434.4 C894.6,426 897.3,416.8 898.2,411.1 C899.1,405.4 900.6,403.3 898.2,400.3 C895.8,397.4 889.6,394.4 883.9,393.2 C878.1,392 867.2,395 863.8,393.2 C860.5,391.4 860.5,384.2 863.8,382.4 C867.2,380.6 878.4,383.3 883.9,382.4 C889.3,381.5 894.3,379.4 896.4,377 C898.5,374.7 898.8,370.8 896.4,368.1 C894,365.4 885.7,363.9 882.1,360.9 C878.5,357.9 875.2,353.8 874.9,350.2 C874.6,346.6 877.3,341.8 880.3,339.4 C883.3,337 888.7,336.4 892.8,335.8 C897,335.2 902.1,335.8 905.4,335.8 C908.7,335.8 910.8,338.2 912.5,335.8 C914.3,333.4 914.6,325.7 916.1,321.5 C917.6,317.3 920,313.1 921.5,310.8 C923,308.4 922.1,307.8 925.1,307.2 Z" fill="url(#vbody)" filter="url(#blur1)"/>
<clipPath id="clp13n"><path d="M925.1,307.2 C928.1,306.6 935.8,304.8 939.4,307.2 C943,309.6 944.8,316.7 946.6,321.5 C948.4,326.3 948.7,331.7 950.2,335.8 C951.7,340 952.6,344.5 955.5,346.6 C958.5,348.7 963.9,346.9 968.1,348.4 C972.3,349.9 977.9,352.3 980.6,355.5 C983.3,358.8 984.5,365.1 984.2,368.1 C983.9,371.1 981.5,373.2 978.8,373.5 C976.2,373.8 969.3,369 968.1,369.9 C966.9,370.8 968.1,377.3 971.7,378.8 C975.3,380.3 984.8,379.4 989.6,378.8 C994.4,378.2 996.2,375.9 1000.3,375.3 C1004.5,374.7 1012,374.1 1014.7,375.3 C1017.4,376.4 1018.3,380.3 1016.5,382.4 C1014.7,384.5 1008.4,386.6 1003.9,387.8 C999.4,389 995,387.5 989.6,389.6 C984.2,391.7 975.3,396.8 971.7,400.3 C968.1,403.9 968.4,405.4 968.1,411.1 C967.8,416.8 968.7,426 969.9,434.4 C971.1,442.7 973.5,452.3 975.3,461.3 C977.1,470.2 978.5,479.2 980.6,488.1 C982.7,497.1 986.6,507.5 987.8,515 C989,522.5 990.5,527.6 987.8,532.9 C985.1,538.3 973.8,543.4 971.7,547.3 C969.6,551.1 972.3,552.9 975.3,556.2 C978.2,559.5 984.5,564.3 989.6,567 C994.7,569.7 1002.4,569.8 1005.7,572.4 C1009,574.9 1010.8,580.6 1009.3,582.2 C1007.8,583.8 1001.2,583.6 996.8,582.2 C992.3,580.9 987.2,576.4 982.4,574.1 C977.6,571.9 971.7,572.1 968.1,568.8 C964.5,565.5 965.4,555.9 960.9,554.4 C956.4,552.9 944.5,555.2 941.2,559.8 C937.9,564.4 942.7,578.5 941.2,582.2 C939.7,585.9 933.7,585.6 932.3,582.2 C930.8,578.8 935.8,566.8 932.3,561.6 C928.7,556.4 915.5,550.9 910.8,550.9 C906,550.9 907.2,558.6 903.6,561.6 C900,564.6 894.9,566.4 889.3,568.8 C883.6,571.2 873.4,573.7 869.5,575.9 C865.7,578.2 866.9,582.8 866,582.2 C865.1,581.6 861.5,575.5 864.2,572.4 C866.9,569.2 876.7,566.4 882.1,563.4 C887.5,560.4 894,558.3 896.4,554.4 C898.8,550.6 899.1,546.7 896.4,540.1 C893.7,533.5 882.4,523.7 880.3,515 C878.2,506.4 882.7,497.1 883.9,488.1 C885.1,479.2 886,470.2 887.5,461.3 C889,452.3 891,442.7 892.8,434.4 C894.6,426 897.3,416.8 898.2,411.1 C899.1,405.4 900.6,403.3 898.2,400.3 C895.8,397.4 889.6,394.4 883.9,393.2 C878.1,392 867.2,395 863.8,393.2 C860.5,391.4 860.5,384.2 863.8,382.4 C867.2,380.6 878.4,383.3 883.9,382.4 C889.3,381.5 894.3,379.4 896.4,377 C898.5,374.7 898.8,370.8 896.4,368.1 C894,365.4 885.7,363.9 882.1,360.9 C878.5,357.9 875.2,353.8 874.9,350.2 C874.6,346.6 877.3,341.8 880.3,339.4 C883.3,337 888.7,336.4 892.8,335.8 C897,335.2 902.1,335.8 905.4,335.8 C908.7,335.8 910.8,338.2 912.5,335.8 C914.3,333.4 914.6,325.7 916.1,321.5 C917.6,317.3 920,313.1 921.5,310.8 C923,308.4 922.1,307.8 925.1,307.2 Z"/></clipPath>
<g clip-path="url(#clp13n)"><path d="M925.1,307.2 C928.1,306.6 935.8,304.8 939.4,307.2 C943,309.6 944.8,316.7 946.6,321.5 C948.4,326.3 948.7,331.7 950.2,335.8 C951.7,340 952.6,344.5 955.5,346.6 C958.5,348.7 963.9,346.9 968.1,348.4 C972.3,349.9 977.9,352.3 980.6,355.5 C983.3,358.8 984.5,365.1 984.2,368.1 C983.9,371.1 981.5,373.2 978.8,373.5 C976.2,373.8 969.3,369 968.1,369.9 C966.9,370.8 968.1,377.3 971.7,378.8 C975.3,380.3 984.8,379.4 989.6,378.8 C994.4,378.2 996.2,375.9 1000.3,375.3 C1004.5,374.7 1012,374.1 1014.7,375.3 C1017.4,376.4 1018.3,380.3 1016.5,382.4 C1014.7,384.5 1008.4,386.6 1003.9,387.8 C999.4,389 995,387.5 989.6,389.6 C984.2,391.7 975.3,396.8 971.7,400.3 C968.1,403.9 968.4,405.4 968.1,411.1 C967.8,416.8 968.7,426 969.9,434.4 C971.1,442.7 973.5,452.3 975.3,461.3 C977.1,470.2 978.5,479.2 980.6,488.1 C982.7,497.1 986.6,507.5 987.8,515 C989,522.5 990.5,527.6 987.8,532.9 C985.1,538.3 973.8,543.4 971.7,547.3 C969.6,551.1 972.3,552.9 975.3,556.2 C978.2,559.5 984.5,564.3 989.6,567 C994.7,569.7 1002.4,569.8 1005.7,572.4 C1009,574.9 1010.8,580.6 1009.3,582.2 C1007.8,583.8 1001.2,583.6 996.8,582.2 C992.3,580.9 987.2,576.4 982.4,574.1 C977.6,571.9 971.7,572.1 968.1,568.8 C964.5,565.5 965.4,555.9 960.9,554.4 C956.4,552.9 944.5,555.2 941.2,559.8 C937.9,564.4 942.7,578.5 941.2,582.2 C939.7,585.9 933.7,585.6 932.3,582.2 C930.8,578.8 935.8,566.8 932.3,561.6 C928.7,556.4 915.5,550.9 910.8,550.9 C906,550.9 907.2,558.6 903.6,561.6 C900,564.6 894.9,566.4 889.3,568.8 C883.6,571.2 873.4,573.7 869.5,575.9 C865.7,578.2 866.9,582.8 866,582.2 C865.1,581.6 861.5,575.5 864.2,572.4 C866.9,569.2 876.7,566.4 882.1,563.4 C887.5,560.4 894,558.3 896.4,554.4 C898.8,550.6 899.1,546.7 896.4,540.1 C893.7,533.5 882.4,523.7 880.3,515 C878.2,506.4 882.7,497.1 883.9,488.1 C885.1,479.2 886,470.2 887.5,461.3 C889,452.3 891,442.7 892.8,434.4 C894.6,426 897.3,416.8 898.2,411.1 C899.1,405.4 900.6,403.3 898.2,400.3 C895.8,397.4 889.6,394.4 883.9,393.2 C878.1,392 867.2,395 863.8,393.2 C860.5,391.4 860.5,384.2 863.8,382.4 C867.2,380.6 878.4,383.3 883.9,382.4 C889.3,381.5 894.3,379.4 896.4,377 C898.5,374.7 898.8,370.8 896.4,368.1 C894,365.4 885.7,363.9 882.1,360.9 C878.5,357.9 875.2,353.8 874.9,350.2 C874.6,346.6 877.3,341.8 880.3,339.4 C883.3,337 888.7,336.4 892.8,335.8 C897,335.2 902.1,335.8 905.4,335.8 C908.7,335.8 910.8,338.2 912.5,335.8 C914.3,333.4 914.6,325.7 916.1,321.5 C917.6,317.3 920,313.1 921.5,310.8 C923,308.4 922.1,307.8 925.1,307.2 Z" fill="none" stroke="#8c8c8c" stroke-width="6" opacity="0.35" filter="url(#blur2)"/></g>
<rect x="1001.8" y="376.2" width="3" height="2.7" fill="#5c0000"/>
<ellipse cx="924.2" cy="517.7" rx="11.6" ry="9" fill="url(#hot)"/>
</g>
<g clip-path="url(#clp14)">
<rect x="1067.7" y="305.8" width="166.8" height="276.8" fill="#3e3e3e"/>
<rect x="1067.7" y="305.8" width="166.8" height="28" fill="#383838"/>
<rect x="1067.7" y="333.8" width="166.8" height="1.5" fill="#252525"/>
<rect x="1077.4" y="305.8" width="5" height="20" fill="#151515"/>
<rect x="1086.4" y="305.8" width="5" height="20" fill="#151515"/>
<rect x="1082.4" y="305.8" width="4" height="20" fill="#4a4a4a"/>
<rect x="1110.7" y="305.8" width="5" height="20" fill="#151515"/>
<rect x="1119.7" y="305.8" width="5" height="20" fill="#151515"/>
<rect x="1115.7" y="305.8" width="4" height="20" fill="#4a4a4a"/>
<rect x="1177.5" y="305.8" width="5" height="20" fill="#151515"/>
<rect x="1186.5" y="305.8" width="5" height="20" fill="#151515"/>
<rect x="1182.5" y="305.8" width="4" height="20" fill="#4a4a4a"/>
<rect x="1210.8" y="305.8" width="5" height="20" fill="#151515"/>
<rect x="1219.8" y="305.8" width="5" height="20" fill="#151515"/>
<rect x="1215.8" y="305.8" width="4" height="20" fill="#4a4a4a"/>
<rect x="1067.7" y="351.5" width="166.8" height="1.6" fill="#262626"/>
<rect x="1217.8" y="361.2" width="1.6" height="199.3" fill="#262626"/>
<rect x="1076" y="488.5" width="33.4" height="1.5" fill="#262626"/>
<polygon points="1068.3,371.6 1106.8,393.1 1090.7,425.4 1068.3,454" fill="#b4b4b4" opacity="0.55"/>
<polygon points="1223.2,371.6 1233.9,369.8 1233.9,394.9 1226.8,394.9" fill="#b4b4b4" opacity="0.55"/>
<path d="M1146.2,309 C1149.5,308.4 1158.4,306 1162.3,309 C1166.2,311.9 1167.1,320.9 1169.4,326.9 C1171.8,332.8 1173.9,338.8 1176.6,344.8 C1179.3,350.7 1182.9,357.6 1185.6,362.7 C1188.3,367.8 1190.6,370.7 1192.7,375.2 C1194.8,379.7 1194.8,386.3 1198.1,389.5 C1201.4,392.8 1207.4,393.7 1212.4,394.9 C1217.5,396.1 1225,396.1 1228.5,396.7 C1232.1,397.3 1233,397 1233.9,398.5 C1234.8,400 1236.3,404.5 1233.9,405.7 C1231.5,406.9 1225,405.4 1219.6,405.7 C1214.2,406 1205.9,406 1201.7,407.4 C1197.5,408.9 1195.1,408.6 1194.5,414.6 C1193.9,420.6 1196.6,434 1198.1,443.3 C1199.6,452.5 1202,461.2 1203.5,470.1 C1205,479.1 1205.9,488 1207.1,497 C1208.3,505.9 1210,515.5 1210.6,523.9 C1211.2,532.2 1212.1,542.1 1210.6,547.1 C1209.1,552.2 1202.9,550.7 1201.7,554.3 C1200.5,557.9 1200.5,564.4 1203.5,568.6 C1206.5,572.8 1214.5,577.1 1219.6,579.4 C1224.7,581.6 1238.1,581.6 1233.9,582.1 C1229.7,582.5 1201.4,584.9 1194.5,582.1 C1187.7,579.2 1194.2,569.7 1192.7,565 C1191.2,560.4 1189.4,553.1 1185.6,554.3 C1181.7,555.5 1173.3,567.6 1169.4,572.2 C1165.6,576.8 1165.6,580.4 1162.3,582.1 C1159,583.7 1152.4,583.7 1149.8,582.1 C1147.1,580.4 1150,576.8 1146.2,572.2 C1142.3,567.6 1130.6,555.5 1126.5,554.3 C1122.3,553.1 1122.9,561.5 1121.1,565 C1119.3,568.6 1118.7,573 1115.7,575.8 C1112.7,578.6 1105,583.2 1103.2,582.1 C1101.4,580.9 1105,573.3 1105,568.6 C1105,564 1103.8,560.3 1103.2,554.3 C1102.6,548.3 1101.1,540.9 1101.4,532.8 C1101.7,524.7 1103.8,514.9 1105,505.9 C1106.2,497 1107.4,488 1108.6,479.1 C1109.8,470.1 1110.4,461.2 1112.1,452.2 C1113.9,443.3 1117.8,432.2 1119.3,425.4 C1120.8,418.5 1123.5,414 1121.1,411 C1118.7,408 1110.4,408 1105,407.4 C1099.6,406.9 1094.2,407.7 1088.9,407.4 C1083.5,407.2 1076,406.9 1072.7,405.7 C1069.5,404.5 1068.6,402.1 1069.2,400.3 C1069.8,398.5 1072.1,395.5 1076.3,394.9 C1080.5,394.3 1088.6,396.4 1094.2,396.7 C1099.9,397 1106.8,398.5 1110.4,396.7 C1113.9,394.9 1113.9,390.1 1115.7,386 C1117.5,381.8 1118.7,376.1 1121.1,371.6 C1123.5,367.2 1127.4,363.6 1130.1,359.1 C1132.7,354.6 1135.4,350.1 1137.2,344.8 C1139,339.4 1139.9,332.2 1140.8,326.9 C1141.7,321.5 1141.7,315.5 1142.6,312.5 C1143.5,309.6 1142.9,309.6 1146.2,309 Z" fill="url(#vbody)" filter="url(#blur1)"/>
<clipPath id="clp14n"><path d="M1146.2,309 C1149.5,308.4 1158.4,306 1162.3,309 C1166.2,311.9 1167.1,320.9 1169.4,326.9 C1171.8,332.8 1173.9,338.8 1176.6,344.8 C1179.3,350.7 1182.9,357.6 1185.6,362.7 C1188.3,367.8 1190.6,370.7 1192.7,375.2 C1194.8,379.7 1194.8,386.3 1198.1,389.5 C1201.4,392.8 1207.4,393.7 1212.4,394.9 C1217.5,396.1 1225,396.1 1228.5,396.7 C1232.1,397.3 1233,397 1233.9,398.5 C1234.8,400 1236.3,404.5 1233.9,405.7 C1231.5,406.9 1225,405.4 1219.6,405.7 C1214.2,406 1205.9,406 1201.7,407.4 C1197.5,408.9 1195.1,408.6 1194.5,414.6 C1193.9,420.6 1196.6,434 1198.1,443.3 C1199.6,452.5 1202,461.2 1203.5,470.1 C1205,479.1 1205.9,488 1207.1,497 C1208.3,505.9 1210,515.5 1210.6,523.9 C1211.2,532.2 1212.1,542.1 1210.6,547.1 C1209.1,552.2 1202.9,550.7 1201.7,554.3 C1200.5,557.9 1200.5,564.4 1203.5,568.6 C1206.5,572.8 1214.5,577.1 1219.6,579.4 C1224.7,581.6 1238.1,581.6 1233.9,582.1 C1229.7,582.5 1201.4,584.9 1194.5,582.1 C1187.7,579.2 1194.2,569.7 1192.7,565 C1191.2,560.4 1189.4,553.1 1185.6,554.3 C1181.7,555.5 1173.3,567.6 1169.4,572.2 C1165.6,576.8 1165.6,580.4 1162.3,582.1 C1159,583.7 1152.4,583.7 1149.8,582.1 C1147.1,580.4 1150,576.8 1146.2,572.2 C1142.3,567.6 1130.6,555.5 1126.5,554.3 C1122.3,553.1 1122.9,561.5 1121.1,565 C1119.3,568.6 1118.7,573 1115.7,575.8 C1112.7,578.6 1105,583.2 1103.2,582.1 C1101.4,580.9 1105,573.3 1105,568.6 C1105,564 1103.8,560.3 1103.2,554.3 C1102.6,548.3 1101.1,540.9 1101.4,532.8 C1101.7,524.7 1103.8,514.9 1105,505.9 C1106.2,497 1107.4,488 1108.6,479.1 C1109.8,470.1 1110.4,461.2 1112.1,452.2 C1113.9,443.3 1117.8,432.2 1119.3,425.4 C1120.8,418.5 1123.5,414 1121.1,411 C1118.7,408 1110.4,408 1105,407.4 C1099.6,406.9 1094.2,407.7 1088.9,407.4 C1083.5,407.2 1076,406.9 1072.7,405.7 C1069.5,404.5 1068.6,402.1 1069.2,400.3 C1069.8,398.5 1072.1,395.5 1076.3,394.9 C1080.5,394.3 1088.6,396.4 1094.2,396.7 C1099.9,397 1106.8,398.5 1110.4,396.7 C1113.9,394.9 1113.9,390.1 1115.7,386 C1117.5,381.8 1118.7,376.1 1121.1,371.6 C1123.5,367.2 1127.4,363.6 1130.1,359.1 C1132.7,354.6 1135.4,350.1 1137.2,344.8 C1139,339.4 1139.9,332.2 1140.8,326.9 C1141.7,321.5 1141.7,315.5 1142.6,312.5 C1143.5,309.6 1142.9,309.6 1146.2,309 Z"/></clipPath>
<g clip-path="url(#clp14n)"><path d="M1146.2,309 C1149.5,308.4 1158.4,306 1162.3,309 C1166.2,311.9 1167.1,320.9 1169.4,326.9 C1171.8,332.8 1173.9,338.8 1176.6,344.8 C1179.3,350.7 1182.9,357.6 1185.6,362.7 C1188.3,367.8 1190.6,370.7 1192.7,375.2 C1194.8,379.7 1194.8,386.3 1198.1,389.5 C1201.4,392.8 1207.4,393.7 1212.4,394.9 C1217.5,396.1 1225,396.1 1228.5,396.7 C1232.1,397.3 1233,397 1233.9,398.5 C1234.8,400 1236.3,404.5 1233.9,405.7 C1231.5,406.9 1225,405.4 1219.6,405.7 C1214.2,406 1205.9,406 1201.7,407.4 C1197.5,408.9 1195.1,408.6 1194.5,414.6 C1193.9,420.6 1196.6,434 1198.1,443.3 C1199.6,452.5 1202,461.2 1203.5,470.1 C1205,479.1 1205.9,488 1207.1,497 C1208.3,505.9 1210,515.5 1210.6,523.9 C1211.2,532.2 1212.1,542.1 1210.6,547.1 C1209.1,552.2 1202.9,550.7 1201.7,554.3 C1200.5,557.9 1200.5,564.4 1203.5,568.6 C1206.5,572.8 1214.5,577.1 1219.6,579.4 C1224.7,581.6 1238.1,581.6 1233.9,582.1 C1229.7,582.5 1201.4,584.9 1194.5,582.1 C1187.7,579.2 1194.2,569.7 1192.7,565 C1191.2,560.4 1189.4,553.1 1185.6,554.3 C1181.7,555.5 1173.3,567.6 1169.4,572.2 C1165.6,576.8 1165.6,580.4 1162.3,582.1 C1159,583.7 1152.4,583.7 1149.8,582.1 C1147.1,580.4 1150,576.8 1146.2,572.2 C1142.3,567.6 1130.6,555.5 1126.5,554.3 C1122.3,553.1 1122.9,561.5 1121.1,565 C1119.3,568.6 1118.7,573 1115.7,575.8 C1112.7,578.6 1105,583.2 1103.2,582.1 C1101.4,580.9 1105,573.3 1105,568.6 C1105,564 1103.8,560.3 1103.2,554.3 C1102.6,548.3 1101.1,540.9 1101.4,532.8 C1101.7,524.7 1103.8,514.9 1105,505.9 C1106.2,497 1107.4,488 1108.6,479.1 C1109.8,470.1 1110.4,461.2 1112.1,452.2 C1113.9,443.3 1117.8,432.2 1119.3,425.4 C1120.8,418.5 1123.5,414 1121.1,411 C1118.7,408 1110.4,408 1105,407.4 C1099.6,406.9 1094.2,407.7 1088.9,407.4 C1083.5,407.2 1076,406.9 1072.7,405.7 C1069.5,404.5 1068.6,402.1 1069.2,400.3 C1069.8,398.5 1072.1,395.5 1076.3,394.9 C1080.5,394.3 1088.6,396.4 1094.2,396.7 C1099.9,397 1106.8,398.5 1110.4,396.7 C1113.9,394.9 1113.9,390.1 1115.7,386 C1117.5,381.8 1118.7,376.1 1121.1,371.6 C1123.5,367.2 1127.4,363.6 1130.1,359.1 C1132.7,354.6 1135.4,350.1 1137.2,344.8 C1139,339.4 1139.9,332.2 1140.8,326.9 C1141.7,321.5 1141.7,315.5 1142.6,312.5 C1143.5,309.6 1142.9,309.6 1146.2,309 Z" fill="none" stroke="#8c8c8c" stroke-width="6" opacity="0.35" filter="url(#blur2)"/></g>
<rect x="1109.5" y="568.6" width="11.6" height="9" fill="#5c0000"/>
<rect x="1196.3" y="568.6" width="6.3" height="9" fill="#5c0000"/>
<rect x="1226.8" y="400.3" width="5.4" height="2.7" fill="#5c0000"/>
<rect x="1138.6" y="553.9" width="2.5" height="2.5" fill="#5c0000"/>
<rect x="1157.3" y="566.3" width="2.5" height="2.5" fill="#5c0000"/>
<rect x="1154.2" y="580.3" width="5.4" height="1.8" fill="#5c0000"/>
<ellipse cx="1154.2" cy="531.6" rx="11.2" ry="11.2" fill="url(#hot)"/>
</g>
<g clip-path="url(#clp15)">
<rect x="1255.6" y="305.8" width="158.6" height="276.8" fill="#3e3e3e"/>
<rect x="1255.6" y="305.8" width="158.6" height="28" fill="#383838"/>
<rect x="1255.6" y="333.8" width="158.6" height="1.5" fill="#252525"/>
<rect x="1264.5" y="305.8" width="5" height="20" fill="#151515"/>
<rect x="1273.5" y="305.8" width="5" height="20" fill="#151515"/>
<rect x="1269.5" y="305.8" width="4" height="20" fill="#4a4a4a"/>
<rect x="1296.2" y="305.8" width="5" height="20" fill="#151515"/>
<rect x="1305.2" y="305.8" width="5" height="20" fill="#151515"/>
<rect x="1301.2" y="305.8" width="4" height="20" fill="#4a4a4a"/>
<rect x="1359.6" y="305.8" width="5" height="20" fill="#151515"/>
<rect x="1368.6" y="305.8" width="5" height="20" fill="#151515"/>
<rect x="1364.6" y="305.8" width="4" height="20" fill="#4a4a4a"/>
<rect x="1391.3" y="305.8" width="5" height="20" fill="#151515"/>
<rect x="1400.3" y="305.8" width="5" height="20" fill="#151515"/>
<rect x="1396.3" y="305.8" width="4" height="20" fill="#4a4a4a"/>
<rect x="1255.6" y="351.5" width="158.6" height="1.6" fill="#262626"/>
<rect x="1398.3" y="361.2" width="1.6" height="199.3" fill="#262626"/>
<rect x="1263.5" y="488.5" width="31.7" height="1.5" fill="#262626"/>
<polygon points="1255.7,343 1285.8,364.5 1271.5,384.2 1255.7,380.6" fill="#b4b4b4" opacity="0.55"/>
<polygon points="1255.7,387.8 1267.9,387.8 1255.7,407.5" fill="#b4b4b4" opacity="0.55"/>
<polygon points="1384.4,346.6 1413.9,339.4 1413.9,409.3 1396.9,411.1" fill="#b4b4b4" opacity="0.55"/>
<path d="M1328.8,309.9 C1330.6,309.4 1333.6,307 1336,309.9 C1338.4,312.7 1340.8,321 1343.2,326.9 C1345.5,332.7 1348.5,340.3 1350.3,344.8 C1352.1,349.3 1351.5,352.3 1353.9,353.7 C1356.3,355.2 1361.1,352.5 1364.7,353.7 C1368.2,354.9 1373.6,357.3 1375.4,360.9 C1377.2,364.5 1376.9,372 1375.4,375.2 C1373.9,378.5 1369.1,380 1366.4,380.6 C1363.8,381.2 1359.6,377.6 1359.3,378.8 C1359,380 1361.4,386.6 1364.7,387.8 C1367.9,389 1374.2,386.9 1379,386 C1383.8,385.1 1389.1,382.7 1393.3,382.4 C1397.5,382.1 1402.6,382.7 1404.1,384.2 C1405.6,385.7 1404.7,389.9 1402.3,391.4 C1399.9,392.9 1394.2,391.7 1389.7,393.2 C1385.3,394.6 1380.2,397.3 1375.4,400.3 C1370.6,403.3 1363.5,406.9 1361.1,411.1 C1358.7,415.3 1359.9,418.5 1361.1,425.4 C1362.3,432.3 1365.8,443.3 1368.2,452.3 C1370.6,461.2 1373.6,470.2 1375.4,479.1 C1377.2,488.1 1378.4,498 1379,506 C1379.6,514.1 1381.4,522.7 1379,527.5 C1376.6,532.3 1366.4,531.4 1364.7,534.7 C1362.9,538 1365.3,543.6 1368.2,547.2 C1371.2,550.8 1377.8,553.8 1382.6,556.2 C1387.3,558.6 1393,559.2 1396.9,561.6 C1400.8,563.9 1405.6,568.4 1405.9,570.5 C1406.2,572.6 1402.6,575 1398.7,574.1 C1394.8,573.2 1387.6,567.8 1382.6,565.1 C1377.5,562.5 1372.4,561.6 1368.2,558 C1364.1,554.4 1361.7,544.2 1357.5,543.6 C1353.3,543 1346.1,548 1343.2,554.4 C1340.2,560.8 1341.7,577.5 1339.6,582.2 C1337.5,586.8 1332.4,586.8 1330.6,582.2 C1328.8,577.5 1332.7,561.4 1328.8,554.4 C1324.9,547.4 1312.1,540.7 1307.3,540.1 C1302.5,539.5 1303.1,547.5 1300.2,550.8 C1297.2,554.1 1293.9,556.8 1289.4,559.8 C1284.9,562.7 1277.5,566 1273.3,568.7 C1269.1,571.4 1265.5,575.9 1264.3,575.9 C1263.1,575.9 1263.7,571.4 1266.1,568.7 C1268.5,566 1274.2,562.5 1278.7,559.8 C1283.1,557.1 1290.6,556.5 1293,552.6 C1295.4,548.7 1294.5,542.7 1293,536.5 C1291.5,530.2 1285.2,523 1284,515 C1282.8,506.9 1284.9,497.1 1285.8,488.1 C1286.7,479.1 1288.2,470.2 1289.4,461.2 C1290.6,452.3 1291.5,442.7 1293,434.4 C1294.5,426 1297.2,415.8 1298.4,411.1 C1299.6,406.3 1302.3,408.4 1300.2,405.7 C1298.1,403 1290.6,398.2 1285.8,394.9 C1281.1,391.7 1276.3,388.4 1271.5,386 C1266.7,383.6 1259.6,382.4 1257.2,380.6 C1254.8,378.8 1255.4,375.8 1257.2,375.2 C1259,374.6 1263.1,376.1 1267.9,377 C1272.7,377.9 1280.8,379.7 1285.8,380.6 C1290.9,381.5 1296.6,384.5 1298.4,382.4 C1300.2,380.3 1296,372.3 1296.6,368.1 C1297.2,363.9 1299.6,359.7 1302,357.3 C1304.3,354.9 1308.8,356.4 1310.9,353.7 C1313,351.1 1312.7,346.3 1314.5,341.2 C1316.3,336.1 1319.9,328.1 1321.7,323.3 C1323.5,318.5 1324,314.8 1325.2,312.5 C1326.4,310.3 1327,310.3 1328.8,309.9 Z" fill="url(#vbody)" filter="url(#blur1)"/>
<clipPath id="clp15n"><path d="M1328.8,309.9 C1330.6,309.4 1333.6,307 1336,309.9 C1338.4,312.7 1340.8,321 1343.2,326.9 C1345.5,332.7 1348.5,340.3 1350.3,344.8 C1352.1,349.3 1351.5,352.3 1353.9,353.7 C1356.3,355.2 1361.1,352.5 1364.7,353.7 C1368.2,354.9 1373.6,357.3 1375.4,360.9 C1377.2,364.5 1376.9,372 1375.4,375.2 C1373.9,378.5 1369.1,380 1366.4,380.6 C1363.8,381.2 1359.6,377.6 1359.3,378.8 C1359,380 1361.4,386.6 1364.7,387.8 C1367.9,389 1374.2,386.9 1379,386 C1383.8,385.1 1389.1,382.7 1393.3,382.4 C1397.5,382.1 1402.6,382.7 1404.1,384.2 C1405.6,385.7 1404.7,389.9 1402.3,391.4 C1399.9,392.9 1394.2,391.7 1389.7,393.2 C1385.3,394.6 1380.2,397.3 1375.4,400.3 C1370.6,403.3 1363.5,406.9 1361.1,411.1 C1358.7,415.3 1359.9,418.5 1361.1,425.4 C1362.3,432.3 1365.8,443.3 1368.2,452.3 C1370.6,461.2 1373.6,470.2 1375.4,479.1 C1377.2,488.1 1378.4,498 1379,506 C1379.6,514.1 1381.4,522.7 1379,527.5 C1376.6,532.3 1366.4,531.4 1364.7,534.7 C1362.9,538 1365.3,543.6 1368.2,547.2 C1371.2,550.8 1377.8,553.8 1382.6,556.2 C1387.3,558.6 1393,559.2 1396.9,561.6 C1400.8,563.9 1405.6,568.4 1405.9,570.5 C1406.2,572.6 1402.6,575 1398.7,574.1 C1394.8,573.2 1387.6,567.8 1382.6,565.1 C1377.5,562.5 1372.4,561.6 1368.2,558 C1364.1,554.4 1361.7,544.2 1357.5,543.6 C1353.3,543 1346.1,548 1343.2,554.4 C1340.2,560.8 1341.7,577.5 1339.6,582.2 C1337.5,586.8 1332.4,586.8 1330.6,582.2 C1328.8,577.5 1332.7,561.4 1328.8,554.4 C1324.9,547.4 1312.1,540.7 1307.3,540.1 C1302.5,539.5 1303.1,547.5 1300.2,550.8 C1297.2,554.1 1293.9,556.8 1289.4,559.8 C1284.9,562.7 1277.5,566 1273.3,568.7 C1269.1,571.4 1265.5,575.9 1264.3,575.9 C1263.1,575.9 1263.7,571.4 1266.1,568.7 C1268.5,566 1274.2,562.5 1278.7,559.8 C1283.1,557.1 1290.6,556.5 1293,552.6 C1295.4,548.7 1294.5,542.7 1293,536.5 C1291.5,530.2 1285.2,523 1284,515 C1282.8,506.9 1284.9,497.1 1285.8,488.1 C1286.7,479.1 1288.2,470.2 1289.4,461.2 C1290.6,452.3 1291.5,442.7 1293,434.4 C1294.5,426 1297.2,415.8 1298.4,411.1 C1299.6,406.3 1302.3,408.4 1300.2,405.7 C1298.1,403 1290.6,398.2 1285.8,394.9 C1281.1,391.7 1276.3,388.4 1271.5,386 C1266.7,383.6 1259.6,382.4 1257.2,380.6 C1254.8,378.8 1255.4,375.8 1257.2,375.2 C1259,374.6 1263.1,376.1 1267.9,377 C1272.7,377.9 1280.8,379.7 1285.8,380.6 C1290.9,381.5 1296.6,384.5 1298.4,382.4 C1300.2,380.3 1296,372.3 1296.6,368.1 C1297.2,363.9 1299.6,359.7 1302,357.3 C1304.3,354.9 1308.8,356.4 1310.9,353.7 C1313,351.1 1312.7,346.3 1314.5,341.2 C1316.3,336.1 1319.9,328.1 1321.7,323.3 C1323.5,318.5 1324,314.8 1325.2,312.5 C1326.4,310.3 1327,310.3 1328.8,309.9 Z"/></clipPath>
<g clip-path="url(#clp15n)"><path d="M1328.8,309.9 C1330.6,309.4 1333.6,307 1336,309.9 C1338.4,312.7 1340.8,321 1343.2,326.9 C1345.5,332.7 1348.5,340.3 1350.3,344.8 C1352.1,349.3 1351.5,352.3 1353.9,353.7 C1356.3,355.2 1361.1,352.5 1364.7,353.7 C1368.2,354.9 1373.6,357.3 1375.4,360.9 C1377.2,364.5 1376.9,372 1375.4,375.2 C1373.9,378.5 1369.1,380 1366.4,380.6 C1363.8,381.2 1359.6,377.6 1359.3,378.8 C1359,380 1361.4,386.6 1364.7,387.8 C1367.9,389 1374.2,386.9 1379,386 C1383.8,385.1 1389.1,382.7 1393.3,382.4 C1397.5,382.1 1402.6,382.7 1404.1,384.2 C1405.6,385.7 1404.7,389.9 1402.3,391.4 C1399.9,392.9 1394.2,391.7 1389.7,393.2 C1385.3,394.6 1380.2,397.3 1375.4,400.3 C1370.6,403.3 1363.5,406.9 1361.1,411.1 C1358.7,415.3 1359.9,418.5 1361.1,425.4 C1362.3,432.3 1365.8,443.3 1368.2,452.3 C1370.6,461.2 1373.6,470.2 1375.4,479.1 C1377.2,488.1 1378.4,498 1379,506 C1379.6,514.1 1381.4,522.7 1379,527.5 C1376.6,532.3 1366.4,531.4 1364.7,534.7 C1362.9,538 1365.3,543.6 1368.2,547.2 C1371.2,550.8 1377.8,553.8 1382.6,556.2 C1387.3,558.6 1393,559.2 1396.9,561.6 C1400.8,563.9 1405.6,568.4 1405.9,570.5 C1406.2,572.6 1402.6,575 1398.7,574.1 C1394.8,573.2 1387.6,567.8 1382.6,565.1 C1377.5,562.5 1372.4,561.6 1368.2,558 C1364.1,554.4 1361.7,544.2 1357.5,543.6 C1353.3,543 1346.1,548 1343.2,554.4 C1340.2,560.8 1341.7,577.5 1339.6,582.2 C1337.5,586.8 1332.4,586.8 1330.6,582.2 C1328.8,577.5 1332.7,561.4 1328.8,554.4 C1324.9,547.4 1312.1,540.7 1307.3,540.1 C1302.5,539.5 1303.1,547.5 1300.2,550.8 C1297.2,554.1 1293.9,556.8 1289.4,559.8 C1284.9,562.7 1277.5,566 1273.3,568.7 C1269.1,571.4 1265.5,575.9 1264.3,575.9 C1263.1,575.9 1263.7,571.4 1266.1,568.7 C1268.5,566 1274.2,562.5 1278.7,559.8 C1283.1,557.1 1290.6,556.5 1293,552.6 C1295.4,548.7 1294.5,542.7 1293,536.5 C1291.5,530.2 1285.2,523 1284,515 C1282.8,506.9 1284.9,497.1 1285.8,488.1 C1286.7,479.1 1288.2,470.2 1289.4,461.2 C1290.6,452.3 1291.5,442.7 1293,434.4 C1294.5,426 1297.2,415.8 1298.4,411.1 C1299.6,406.3 1302.3,408.4 1300.2,405.7 C1298.1,403 1290.6,398.2 1285.8,394.9 C1281.1,391.7 1276.3,388.4 1271.5,386 C1266.7,383.6 1259.6,382.4 1257.2,380.6 C1254.8,378.8 1255.4,375.8 1257.2,375.2 C1259,374.6 1263.1,376.1 1267.9,377 C1272.7,377.9 1280.8,379.7 1285.8,380.6 C1290.9,381.5 1296.6,384.5 1298.4,382.4 C1300.2,380.3 1296,372.3 1296.6,368.1 C1297.2,363.9 1299.6,359.7 1302,357.3 C1304.3,354.9 1308.8,356.4 1310.9,353.7 C1313,351.1 1312.7,346.3 1314.5,341.2 C1316.3,336.1 1319.9,328.1 1321.7,323.3 C1323.5,318.5 1324,314.8 1325.2,312.5 C1326.4,310.3 1327,310.3 1328.8,309.9 Z" fill="none" stroke="#8c8c8c" stroke-width="6" opacity="0.35" filter="url(#blur2)"/></g>
<rect x="1297.5" y="551.7" width="4.5" height="4.5" fill="#5c0000"/>
<rect x="1293" y="556.2" width="2.7" height="2.7" fill="#5c0000"/>
<rect x="1365.5" y="544.5" width="6.3" height="4.5" fill="#5c0000"/>
<rect x="1330.6" y="568.7" width="9" height="13.4" fill="#5c0000"/>
<ellipse cx="1340.5" cy="512.6" rx="11.6" ry="11.6" fill="url(#hot)"/>
</g>
<g clip-path="url(#clp16)">
<rect x="1440.2" y="305.8" width="165.7" height="276.8" fill="#3e3e3e"/>
<rect x="1440.2" y="305.8" width="165.7" height="28" fill="#383838"/>
<rect x="1440.2" y="333.8" width="165.7" height="1.5" fill="#252525"/>
<rect x="1449.8" y="305.8" width="5" height="20" fill="#151515"/>
<rect x="1458.8" y="305.8" width="5" height="20" fill="#151515"/>
<rect x="1454.8" y="305.8" width="4" height="20" fill="#4a4a4a"/>
<rect x="1482.9" y="305.8" width="5" height="20" fill="#151515"/>
<rect x="1491.9" y="305.8" width="5" height="20" fill="#151515"/>
<rect x="1487.9" y="305.8" width="4" height="20" fill="#4a4a4a"/>
<rect x="1549.2" y="305.8" width="5" height="20" fill="#151515"/>
<rect x="1558.2" y="305.8" width="5" height="20" fill="#151515"/>
<rect x="1554.2" y="305.8" width="4" height="20" fill="#4a4a4a"/>
<rect x="1582.3" y="305.8" width="5" height="20" fill="#151515"/>
<rect x="1591.3" y="305.8" width="5" height="20" fill="#151515"/>
<rect x="1587.3" y="305.8" width="4" height="20" fill="#4a4a4a"/>
<rect x="1440.2" y="351.5" width="165.7" height="1.6" fill="#262626"/>
<rect x="1589.3" y="361.2" width="1.6" height="199.3" fill="#262626"/>
<rect x="1448.5" y="488.5" width="33.1" height="1.5" fill="#262626"/>
<polygon points="1440.3,362.7 1453.7,380.6 1466.2,402.1 1440.3,425.4" fill="#b4b4b4" opacity="0.55"/>
<polygon points="1589.8,366.3 1605.9,360.9 1605.9,421.8 1597,394.9" fill="#b4b4b4" opacity="0.55"/>
<path d="M1530.7,307.2 C1534,306.6 1541.4,304.5 1545,307.2 C1548.6,309.8 1550.1,318.5 1552.2,323.3 C1554.3,328.1 1555.8,331.6 1557.6,335.8 C1559.4,340 1560.3,343.9 1562.9,348.4 C1565.6,352.8 1571,358.2 1573.7,362.7 C1576.4,367.2 1576.7,371.9 1579.1,375.2 C1581.4,378.5 1584.7,381.2 1588,382.4 C1591.3,383.6 1595.8,382.4 1598.8,382.4 C1601.7,382.4 1604.7,380.9 1605.9,382.4 C1607.1,383.9 1608.3,389.5 1605.9,391.3 C1603.5,393.1 1595.8,391.9 1591.6,393.1 C1587.4,394.3 1583.5,396.1 1580.8,398.5 C1578.2,400.9 1575.8,401.5 1575.5,407.4 C1575.2,413.4 1577.9,425.4 1579.1,434.3 C1580.3,443.3 1581.7,452.2 1582.6,461.2 C1583.5,470.1 1583.5,479.1 1584.4,488 C1585.3,497 1587.4,507.1 1588,514.9 C1588.6,522.7 1590.7,529.2 1588,534.6 C1585.3,540 1574.9,543 1571.9,547.1 C1568.9,551.3 1568,556.1 1570.1,559.7 C1572.2,563.3 1579.4,565.9 1584.4,568.6 C1589.5,571.3 1597.9,573.5 1600.5,575.8 C1603.2,578 1605.6,581 1600.5,582.1 C1595.5,583.1 1577,583.7 1570.1,582.1 C1563.2,580.4 1561.4,576.8 1559.4,572.2 C1557.3,567.6 1560,557 1557.6,554.3 C1555.2,551.6 1548.9,553.7 1545,556.1 C1541.2,558.5 1536.4,564.3 1534.3,568.6 C1532.2,573 1534.3,579.8 1532.5,582.1 C1530.7,584.3 1525.3,584.3 1523.5,582.1 C1521.8,579.8 1525.9,573.3 1521.8,568.6 C1517.6,564 1504.1,555.8 1498.5,554.3 C1492.8,552.8 1491.9,557.6 1487.7,559.7 C1483.5,561.8 1479.1,565 1473.4,566.8 C1467.7,568.6 1458.8,568.3 1453.7,570.4 C1448.6,572.5 1444.4,579.4 1443,579.4 C1441.5,579.4 1441.2,573.1 1444.7,570.4 C1448.3,567.7 1458.8,565.9 1464.4,563.3 C1470.1,560.6 1476.1,558.5 1478.8,554.3 C1481.5,550.1 1480.9,544.7 1480.6,538.2 C1480.3,531.6 1477,523.3 1477,514.9 C1477,506.5 1479.1,497 1480.6,488 C1482.1,479.1 1484.1,470.1 1485.9,461.2 C1487.7,452.2 1488.6,442.7 1491.3,434.3 C1494,426 1500,416.1 1502.1,411 C1504.1,406 1506.2,406.6 1503.8,403.9 C1501.5,401.2 1493.4,396.7 1487.7,394.9 C1482.1,393.1 1475.8,393.7 1469.8,393.1 C1463.8,392.5 1456.4,392.2 1451.9,391.3 C1447.4,390.4 1444.1,389.5 1443,387.8 C1441.8,386 1441.8,381.5 1444.7,380.6 C1447.7,379.7 1455.5,381.8 1460.9,382.4 C1466.2,383 1472.5,384.5 1477,384.2 C1481.5,383.9 1486.2,382.7 1487.7,380.6 C1489.2,378.5 1485.3,375.2 1485.9,371.6 C1486.5,368.1 1488.6,361.8 1491.3,359.1 C1494,356.4 1499.1,357.6 1502.1,355.5 C1505,353.4 1506.5,351.3 1509.2,346.6 C1511.9,341.8 1515.5,332.8 1518.2,326.9 C1520.9,320.9 1523.2,314 1525.3,310.7 C1527.4,307.5 1527.4,307.8 1530.7,307.2 Z" fill="url(#vbody)" filter="url(#blur1)"/>
<clipPath id="clp16n"><path d="M1530.7,307.2 C1534,306.6 1541.4,304.5 1545,307.2 C1548.6,309.8 1550.1,318.5 1552.2,323.3 C1554.3,328.1 1555.8,331.6 1557.6,335.8 C1559.4,340 1560.3,343.9 1562.9,348.4 C1565.6,352.8 1571,358.2 1573.7,362.7 C1576.4,367.2 1576.7,371.9 1579.1,375.2 C1581.4,378.5 1584.7,381.2 1588,382.4 C1591.3,383.6 1595.8,382.4 1598.8,382.4 C1601.7,382.4 1604.7,380.9 1605.9,382.4 C1607.1,383.9 1608.3,389.5 1605.9,391.3 C1603.5,393.1 1595.8,391.9 1591.6,393.1 C1587.4,394.3 1583.5,396.1 1580.8,398.5 C1578.2,400.9 1575.8,401.5 1575.5,407.4 C1575.2,413.4 1577.9,425.4 1579.1,434.3 C1580.3,443.3 1581.7,452.2 1582.6,461.2 C1583.5,470.1 1583.5,479.1 1584.4,488 C1585.3,497 1587.4,507.1 1588,514.9 C1588.6,522.7 1590.7,529.2 1588,534.6 C1585.3,540 1574.9,543 1571.9,547.1 C1568.9,551.3 1568,556.1 1570.1,559.7 C1572.2,563.3 1579.4,565.9 1584.4,568.6 C1589.5,571.3 1597.9,573.5 1600.5,575.8 C1603.2,578 1605.6,581 1600.5,582.1 C1595.5,583.1 1577,583.7 1570.1,582.1 C1563.2,580.4 1561.4,576.8 1559.4,572.2 C1557.3,567.6 1560,557 1557.6,554.3 C1555.2,551.6 1548.9,553.7 1545,556.1 C1541.2,558.5 1536.4,564.3 1534.3,568.6 C1532.2,573 1534.3,579.8 1532.5,582.1 C1530.7,584.3 1525.3,584.3 1523.5,582.1 C1521.8,579.8 1525.9,573.3 1521.8,568.6 C1517.6,564 1504.1,555.8 1498.5,554.3 C1492.8,552.8 1491.9,557.6 1487.7,559.7 C1483.5,561.8 1479.1,565 1473.4,566.8 C1467.7,568.6 1458.8,568.3 1453.7,570.4 C1448.6,572.5 1444.4,579.4 1443,579.4 C1441.5,579.4 1441.2,573.1 1444.7,570.4 C1448.3,567.7 1458.8,565.9 1464.4,563.3 C1470.1,560.6 1476.1,558.5 1478.8,554.3 C1481.5,550.1 1480.9,544.7 1480.6,538.2 C1480.3,531.6 1477,523.3 1477,514.9 C1477,506.5 1479.1,497 1480.6,488 C1482.1,479.1 1484.1,470.1 1485.9,461.2 C1487.7,452.2 1488.6,442.7 1491.3,434.3 C1494,426 1500,416.1 1502.1,411 C1504.1,406 1506.2,406.6 1503.8,403.9 C1501.5,401.2 1493.4,396.7 1487.7,394.9 C1482.1,393.1 1475.8,393.7 1469.8,393.1 C1463.8,392.5 1456.4,392.2 1451.9,391.3 C1447.4,390.4 1444.1,389.5 1443,387.8 C1441.8,386 1441.8,381.5 1444.7,380.6 C1447.7,379.7 1455.5,381.8 1460.9,382.4 C1466.2,383 1472.5,384.5 1477,384.2 C1481.5,383.9 1486.2,382.7 1487.7,380.6 C1489.2,378.5 1485.3,375.2 1485.9,371.6 C1486.5,368.1 1488.6,361.8 1491.3,359.1 C1494,356.4 1499.1,357.6 1502.1,355.5 C1505,353.4 1506.5,351.3 1509.2,346.6 C1511.9,341.8 1515.5,332.8 1518.2,326.9 C1520.9,320.9 1523.2,314 1525.3,310.7 C1527.4,307.5 1527.4,307.8 1530.7,307.2 Z"/></clipPath>
<g clip-path="url(#clp16n)"><path d="M1530.7,307.2 C1534,306.6 1541.4,304.5 1545,307.2 C1548.6,309.8 1550.1,318.5 1552.2,323.3 C1554.3,328.1 1555.8,331.6 1557.6,335.8 C1559.4,340 1560.3,343.9 1562.9,348.4 C1565.6,352.8 1571,358.2 1573.7,362.7 C1576.4,367.2 1576.7,371.9 1579.1,375.2 C1581.4,378.5 1584.7,381.2 1588,382.4 C1591.3,383.6 1595.8,382.4 1598.8,382.4 C1601.7,382.4 1604.7,380.9 1605.9,382.4 C1607.1,383.9 1608.3,389.5 1605.9,391.3 C1603.5,393.1 1595.8,391.9 1591.6,393.1 C1587.4,394.3 1583.5,396.1 1580.8,398.5 C1578.2,400.9 1575.8,401.5 1575.5,407.4 C1575.2,413.4 1577.9,425.4 1579.1,434.3 C1580.3,443.3 1581.7,452.2 1582.6,461.2 C1583.5,470.1 1583.5,479.1 1584.4,488 C1585.3,497 1587.4,507.1 1588,514.9 C1588.6,522.7 1590.7,529.2 1588,534.6 C1585.3,540 1574.9,543 1571.9,547.1 C1568.9,551.3 1568,556.1 1570.1,559.7 C1572.2,563.3 1579.4,565.9 1584.4,568.6 C1589.5,571.3 1597.9,573.5 1600.5,575.8 C1603.2,578 1605.6,581 1600.5,582.1 C1595.5,583.1 1577,583.7 1570.1,582.1 C1563.2,580.4 1561.4,576.8 1559.4,572.2 C1557.3,567.6 1560,557 1557.6,554.3 C1555.2,551.6 1548.9,553.7 1545,556.1 C1541.2,558.5 1536.4,564.3 1534.3,568.6 C1532.2,573 1534.3,579.8 1532.5,582.1 C1530.7,584.3 1525.3,584.3 1523.5,582.1 C1521.8,579.8 1525.9,573.3 1521.8,568.6 C1517.6,564 1504.1,555.8 1498.5,554.3 C1492.8,552.8 1491.9,557.6 1487.7,559.7 C1483.5,561.8 1479.1,565 1473.4,566.8 C1467.7,568.6 1458.8,568.3 1453.7,570.4 C1448.6,572.5 1444.4,579.4 1443,579.4 C1441.5,579.4 1441.2,573.1 1444.7,570.4 C1448.3,567.7 1458.8,565.9 1464.4,563.3 C1470.1,560.6 1476.1,558.5 1478.8,554.3 C1481.5,550.1 1480.9,544.7 1480.6,538.2 C1480.3,531.6 1477,523.3 1477,514.9 C1477,506.5 1479.1,497 1480.6,488 C1482.1,479.1 1484.1,470.1 1485.9,461.2 C1487.7,452.2 1488.6,442.7 1491.3,434.3 C1494,426 1500,416.1 1502.1,411 C1504.1,406 1506.2,406.6 1503.8,403.9 C1501.5,401.2 1493.4,396.7 1487.7,394.9 C1482.1,393.1 1475.8,393.7 1469.8,393.1 C1463.8,392.5 1456.4,392.2 1451.9,391.3 C1447.4,390.4 1444.1,389.5 1443,387.8 C1441.8,386 1441.8,381.5 1444.7,380.6 C1447.7,379.7 1455.5,381.8 1460.9,382.4 C1466.2,383 1472.5,384.5 1477,384.2 C1481.5,383.9 1486.2,382.7 1487.7,380.6 C1489.2,378.5 1485.3,375.2 1485.9,371.6 C1486.5,368.1 1488.6,361.8 1491.3,359.1 C1494,356.4 1499.1,357.6 1502.1,355.5 C1505,353.4 1506.5,351.3 1509.2,346.6 C1511.9,341.8 1515.5,332.8 1518.2,326.9 C1520.9,320.9 1523.2,314 1525.3,310.7 C1527.4,307.5 1527.4,307.8 1530.7,307.2 Z" fill="none" stroke="#8c8c8c" stroke-width="6" opacity="0.35" filter="url(#blur2)"/></g>
<rect x="1601.8" y="384.5" width="2.7" height="3.2" fill="#5c0000"/>
<rect x="1526.8" y="556.4" width="2.9" height="2.9" fill="#5c0000"/>
<ellipse cx="1532.5" cy="517.2" rx="12.1" ry="12.5" fill="url(#hot)"/>
</g>
<g clip-path="url(#clp17)">
<rect x="1634.4" y="305.8" width="134.5" height="276.8" fill="#3e3e3e"/>
<rect x="1634.4" y="305.8" width="134.5" height="28" fill="#383838"/>
<rect x="1634.4" y="333.8" width="134.5" height="1.5" fill="#252525"/>
<rect x="1640.9" y="305.8" width="5" height="20" fill="#151515"/>
<rect x="1649.9" y="305.8" width="5" height="20" fill="#151515"/>
<rect x="1645.9" y="305.8" width="4" height="20" fill="#4a4a4a"/>
<rect x="1667.8" y="305.8" width="5" height="20" fill="#151515"/>
<rect x="1676.8" y="305.8" width="5" height="20" fill="#151515"/>
<rect x="1672.8" y="305.8" width="4" height="20" fill="#4a4a4a"/>
<rect x="1721.6" y="305.8" width="5" height="20" fill="#151515"/>
<rect x="1730.6" y="305.8" width="5" height="20" fill="#151515"/>
<rect x="1726.6" y="305.8" width="4" height="20" fill="#4a4a4a"/>
<rect x="1748.5" y="305.8" width="5" height="20" fill="#151515"/>
<rect x="1757.5" y="305.8" width="5" height="20" fill="#151515"/>
<rect x="1753.5" y="305.8" width="4" height="20" fill="#4a4a4a"/>
<rect x="1634.4" y="351.5" width="134.5" height="1.6" fill="#262626"/>
<rect x="1755.5" y="361.2" width="1.6" height="199.3" fill="#262626"/>
<rect x="1641.1" y="488.5" width="26.9" height="1.5" fill="#262626"/>
<polygon points="1758.8,346.6 1768.6,343 1768.6,369.9 1764.1,368.1" fill="#b4b4b4" opacity="0.55"/>
<path d="M1703.2,308.1 C1706.8,307.6 1717.6,304.9 1721.1,308.1 C1724.7,311.2 1723.5,320.7 1724.7,326.9 C1725.9,333 1727.1,339.4 1728.3,344.8 C1729.5,350.2 1730.1,355.5 1731.9,359.1 C1733.7,362.7 1735.5,364.8 1739.1,366.3 C1742.6,367.8 1748.5,367.5 1753.4,368.1 C1758.3,368.7 1766.1,367.8 1768.6,369.9 C1771.1,371.9 1771.1,378.2 1768.6,380.6 C1766.1,383 1758.3,382.7 1753.4,384.2 C1748.5,385.7 1743.2,386.9 1739.1,389.6 C1734.9,392.2 1729.5,394.3 1728.3,400.3 C1727.1,406.3 1730.1,416.7 1731.9,425.4 C1733.7,434 1736.4,443.3 1739.1,452.2 C1741.7,461.2 1745.9,470.2 1748,479.1 C1750.1,488.1 1751.3,498.5 1751.6,506 C1751.9,513.4 1751.3,519.4 1749.8,523.9 C1748.3,528.4 1743.2,529.6 1742.6,532.8 C1742,536.1 1743.8,540.6 1746.2,543.6 C1748.6,546.6 1753.2,548.7 1757,550.8 C1760.7,552.9 1766.7,553.7 1768.6,556.1 C1770.5,558.5 1771.1,564.8 1768.6,565.1 C1766.1,565.4 1758.3,560.3 1753.4,557.9 C1748.5,555.5 1743.2,553.1 1739.1,550.8 C1734.9,548.4 1732.5,543.6 1728.3,543.6 C1724.1,543.6 1716.4,544.3 1714,550.8 C1711.6,557.2 1715.8,576.9 1714,582.1 C1712.2,587.3 1705.3,586.7 1703.2,582.1 C1701.1,577.5 1705.3,561.1 1701.4,554.3 C1697.6,547.6 1684.1,541.8 1679.9,541.8 C1675.8,541.8 1675.5,549.9 1676.4,554.3 C1677.3,558.8 1683.5,564 1685.3,568.7 C1687.1,573.3 1688.6,579.9 1687.1,582.1 C1685.6,584.3 1679.3,584.9 1676.4,582.1 C1673.4,579.3 1671.9,570.9 1669.2,565.1 C1666.5,559.3 1662.9,554 1660.2,547.2 C1657.6,540.3 1654.6,532.3 1653.1,523.9 C1651.6,515.5 1651.6,506 1651.3,497 C1651,488.1 1651,479.1 1651.3,470.2 C1651.6,461.2 1652.5,452.2 1653.1,443.3 C1653.7,434.3 1654,423.6 1654.9,416.4 C1655.8,409.3 1659,405.4 1658.4,400.3 C1657.9,395.2 1655.3,389 1651.3,386 C1647.3,383 1637.1,385.1 1634.3,382.4 C1631.4,379.7 1631.7,372.2 1634.3,369.9 C1636.8,367.5 1646.4,370.2 1649.5,368.1 C1652.6,366 1650.7,360.9 1653.1,357.3 C1655.5,353.7 1659.6,350.2 1663.8,346.6 C1668,343 1674,339.7 1678.2,335.8 C1682.3,331.9 1685.3,327.5 1688.9,323.3 C1692.5,319.1 1697.3,313.3 1699.6,310.7 C1702,308.2 1699.6,308.5 1703.2,308.1 Z" fill="url(#vbody)" filter="url(#blur1)"/>
<clipPath id="clp17n"><path d="M1703.2,308.1 C1706.8,307.6 1717.6,304.9 1721.1,308.1 C1724.7,311.2 1723.5,320.7 1724.7,326.9 C1725.9,333 1727.1,339.4 1728.3,344.8 C1729.5,350.2 1730.1,355.5 1731.9,359.1 C1733.7,362.7 1735.5,364.8 1739.1,366.3 C1742.6,367.8 1748.5,367.5 1753.4,368.1 C1758.3,368.7 1766.1,367.8 1768.6,369.9 C1771.1,371.9 1771.1,378.2 1768.6,380.6 C1766.1,383 1758.3,382.7 1753.4,384.2 C1748.5,385.7 1743.2,386.9 1739.1,389.6 C1734.9,392.2 1729.5,394.3 1728.3,400.3 C1727.1,406.3 1730.1,416.7 1731.9,425.4 C1733.7,434 1736.4,443.3 1739.1,452.2 C1741.7,461.2 1745.9,470.2 1748,479.1 C1750.1,488.1 1751.3,498.5 1751.6,506 C1751.9,513.4 1751.3,519.4 1749.8,523.9 C1748.3,528.4 1743.2,529.6 1742.6,532.8 C1742,536.1 1743.8,540.6 1746.2,543.6 C1748.6,546.6 1753.2,548.7 1757,550.8 C1760.7,552.9 1766.7,553.7 1768.6,556.1 C1770.5,558.5 1771.1,564.8 1768.6,565.1 C1766.1,565.4 1758.3,560.3 1753.4,557.9 C1748.5,555.5 1743.2,553.1 1739.1,550.8 C1734.9,548.4 1732.5,543.6 1728.3,543.6 C1724.1,543.6 1716.4,544.3 1714,550.8 C1711.6,557.2 1715.8,576.9 1714,582.1 C1712.2,587.3 1705.3,586.7 1703.2,582.1 C1701.1,577.5 1705.3,561.1 1701.4,554.3 C1697.6,547.6 1684.1,541.8 1679.9,541.8 C1675.8,541.8 1675.5,549.9 1676.4,554.3 C1677.3,558.8 1683.5,564 1685.3,568.7 C1687.1,573.3 1688.6,579.9 1687.1,582.1 C1685.6,584.3 1679.3,584.9 1676.4,582.1 C1673.4,579.3 1671.9,570.9 1669.2,565.1 C1666.5,559.3 1662.9,554 1660.2,547.2 C1657.6,540.3 1654.6,532.3 1653.1,523.9 C1651.6,515.5 1651.6,506 1651.3,497 C1651,488.1 1651,479.1 1651.3,470.2 C1651.6,461.2 1652.5,452.2 1653.1,443.3 C1653.7,434.3 1654,423.6 1654.9,416.4 C1655.8,409.3 1659,405.4 1658.4,400.3 C1657.9,395.2 1655.3,389 1651.3,386 C1647.3,383 1637.1,385.1 1634.3,382.4 C1631.4,379.7 1631.7,372.2 1634.3,369.9 C1636.8,367.5 1646.4,370.2 1649.5,368.1 C1652.6,366 1650.7,360.9 1653.1,357.3 C1655.5,353.7 1659.6,350.2 1663.8,346.6 C1668,343 1674,339.7 1678.2,335.8 C1682.3,331.9 1685.3,327.5 1688.9,323.3 C1692.5,319.1 1697.3,313.3 1699.6,310.7 C1702,308.2 1699.6,308.5 1703.2,308.1 Z"/></clipPath>
<g clip-path="url(#clp17n)"><path d="M1703.2,308.1 C1706.8,307.6 1717.6,304.9 1721.1,308.1 C1724.7,311.2 1723.5,320.7 1724.7,326.9 C1725.9,333 1727.1,339.4 1728.3,344.8 C1729.5,350.2 1730.1,355.5 1731.9,359.1 C1733.7,362.7 1735.5,364.8 1739.1,366.3 C1742.6,367.8 1748.5,367.5 1753.4,368.1 C1758.3,368.7 1766.1,367.8 1768.6,369.9 C1771.1,371.9 1771.1,378.2 1768.6,380.6 C1766.1,383 1758.3,382.7 1753.4,384.2 C1748.5,385.7 1743.2,386.9 1739.1,389.6 C1734.9,392.2 1729.5,394.3 1728.3,400.3 C1727.1,406.3 1730.1,416.7 1731.9,425.4 C1733.7,434 1736.4,443.3 1739.1,452.2 C1741.7,461.2 1745.9,470.2 1748,479.1 C1750.1,488.1 1751.3,498.5 1751.6,506 C1751.9,513.4 1751.3,519.4 1749.8,523.9 C1748.3,528.4 1743.2,529.6 1742.6,532.8 C1742,536.1 1743.8,540.6 1746.2,543.6 C1748.6,546.6 1753.2,548.7 1757,550.8 C1760.7,552.9 1766.7,553.7 1768.6,556.1 C1770.5,558.5 1771.1,564.8 1768.6,565.1 C1766.1,565.4 1758.3,560.3 1753.4,557.9 C1748.5,555.5 1743.2,553.1 1739.1,550.8 C1734.9,548.4 1732.5,543.6 1728.3,543.6 C1724.1,543.6 1716.4,544.3 1714,550.8 C1711.6,557.2 1715.8,576.9 1714,582.1 C1712.2,587.3 1705.3,586.7 1703.2,582.1 C1701.1,577.5 1705.3,561.1 1701.4,554.3 C1697.6,547.6 1684.1,541.8 1679.9,541.8 C1675.8,541.8 1675.5,549.9 1676.4,554.3 C1677.3,558.8 1683.5,564 1685.3,568.7 C1687.1,573.3 1688.6,579.9 1687.1,582.1 C1685.6,584.3 1679.3,584.9 1676.4,582.1 C1673.4,579.3 1671.9,570.9 1669.2,565.1 C1666.5,559.3 1662.9,554 1660.2,547.2 C1657.6,540.3 1654.6,532.3 1653.1,523.9 C1651.6,515.5 1651.6,506 1651.3,497 C1651,488.1 1651,479.1 1651.3,470.2 C1651.6,461.2 1652.5,452.2 1653.1,443.3 C1653.7,434.3 1654,423.6 1654.9,416.4 C1655.8,409.3 1659,405.4 1658.4,400.3 C1657.9,395.2 1655.3,389 1651.3,386 C1647.3,383 1637.1,385.1 1634.3,382.4 C1631.4,379.7 1631.7,372.2 1634.3,369.9 C1636.8,367.5 1646.4,370.2 1649.5,368.1 C1652.6,366 1650.7,360.9 1653.1,357.3 C1655.5,353.7 1659.6,350.2 1663.8,346.6 C1668,343 1674,339.7 1678.2,335.8 C1682.3,331.9 1685.3,327.5 1688.9,323.3 C1692.5,319.1 1697.3,313.3 1699.6,310.7 C1702,308.2 1699.6,308.5 1703.2,308.1 Z" fill="none" stroke="#8c8c8c" stroke-width="6" opacity="0.35" filter="url(#blur2)"/></g>
<rect x="1706.5" y="571.4" width="2.5" height="2.7" fill="#5c0000"/>
<rect x="1706.5" y="579.4" width="2.5" height="2.7" fill="#5c0000"/>
<ellipse cx="1717" cy="505.6" rx="10.3" ry="12.1" fill="url(#hot)"/>
</g>
<text x="25.8" y="673.6" font-size="47.5" font-weight="bold" text-anchor="start" fill="#000" textLength="29.5" lengthAdjust="spacingAndGlyphs">B</text>
<text x="486.5" y="667" font-size="28.5" font-weight="bold" text-anchor="middle" fill="#000" textLength="245.2" lengthAdjust="spacingAndGlyphs">Whole dorsal view</text>
<path d="M234.4,673.3 L234.4,1011 M219.9,1011 L740.2,1011" stroke="#000" stroke-width="2.9" fill="none"/>
<line x1="219.9" y1="1011" x2="234.4" y2="1011" stroke="#000" stroke-width="2.9"/>
<text x="213.9" y="1021" font-size="28.5" font-weight="bold" text-anchor="end">0</text>
<line x1="219.9" y1="898.9" x2="234.4" y2="898.9" stroke="#000" stroke-width="2.9"/>
<text x="203.2" y="908.9" font-size="28.5" font-weight="bold" text-anchor="end" textLength="62.5" lengthAdjust="spacingAndGlyphs">2×10</text>
<text x="216.1" y="900.2" font-size="19.5" font-weight="bold" text-anchor="end">8</text>
<line x1="219.9" y1="786.8" x2="234.4" y2="786.8" stroke="#000" stroke-width="2.9"/>
<text x="203.2" y="796.8" font-size="28.5" font-weight="bold" text-anchor="end" textLength="62.5" lengthAdjust="spacingAndGlyphs">4×10</text>
<text x="216.1" y="788.1" font-size="19.5" font-weight="bold" text-anchor="end">8</text>
<line x1="219.9" y1="674.7" x2="234.4" y2="674.7" stroke="#000" stroke-width="2.9"/>
<text x="203.2" y="684.7" font-size="28.5" font-weight="bold" text-anchor="end" textLength="62.5" lengthAdjust="spacingAndGlyphs">6×10</text>
<text x="216.1" y="676" font-size="19.5" font-weight="bold" text-anchor="end">8</text>
<line x1="234.4" y1="1011" x2="234.4" y2="1025.5" stroke="#000" stroke-width="2.9"/>
<text x="234.4" y="1056.2" font-size="28.5" font-weight="bold" text-anchor="middle" fill="#000">0</text>
<line x1="360.5" y1="1011" x2="360.5" y2="1025.5" stroke="#000" stroke-width="2.9"/>
<text x="360.5" y="1056.2" font-size="28.5" font-weight="bold" text-anchor="middle" fill="#000">50</text>
<line x1="486.6" y1="1011" x2="486.6" y2="1025.5" stroke="#000" stroke-width="2.9"/>
<text x="486.6" y="1056.2" font-size="28.5" font-weight="bold" text-anchor="middle" fill="#000">100</text>
<line x1="612.7" y1="1011" x2="612.7" y2="1025.5" stroke="#000" stroke-width="2.9"/>
<text x="612.7" y="1056.2" font-size="28.5" font-weight="bold" text-anchor="middle" fill="#000">150</text>
<line x1="738.8" y1="1011" x2="738.8" y2="1025.5" stroke="#000" stroke-width="2.9"/>
<text x="738.8" y="1056.2" font-size="28.5" font-weight="bold" text-anchor="middle" fill="#000">200</text>
<text x="486.4" y="1097.2" font-size="27.5" font-weight="bold" text-anchor="middle" fill="#000" textLength="139" lengthAdjust="spacingAndGlyphs">Time (min)</text>
<text x="0" y="0" transform="translate(87.5,838) rotate(-90)" font-size="28" font-weight="bold" text-anchor="middle" textLength="308.7" lengthAdjust="spacingAndGlyphs">Total Radiant Efficiency</text>
<text x="0" y="0" transform="translate(121,835.1) rotate(-90)" font-size="28" font-weight="bold" text-anchor="middle" textLength="199.5" lengthAdjust="spacingAndGlyphs">[p/s] / [µW/cm<tspan font-size="16.8" dy="-10.1">2</tspan><tspan dy="10.1">]</tspan></text>
<path d="M239.4,828.6 L239.4,853.9 M232.9,828.6 L245.9,828.6 M232.9,853.9 L245.9,853.9" stroke="#3a3a3a" stroke-width="1.6" fill="none"/>
<path d="M272.2,749.6 L272.2,772.1 M265.7,749.6 L278.7,749.6 M265.7,772.1 L278.7,772.1" stroke="#3a3a3a" stroke-width="1.6" fill="none"/>
<path d="M310.1,755.4 L310.1,820 M303.6,755.4 L316.6,755.4 M303.6,820 L316.6,820" stroke="#3a3a3a" stroke-width="1.6" fill="none"/>
<path d="M347.9,829.9 L347.9,871.5 M341.4,829.9 L354.4,829.9 M341.4,871.5 L354.4,871.5" stroke="#3a3a3a" stroke-width="1.6" fill="none"/>
<path d="M385.7,842.6 L385.7,908 M379.2,842.6 L392.2,842.6 M379.2,908 L392.2,908" stroke="#3a3a3a" stroke-width="1.6" fill="none"/>
<path d="M461.4,881.9 L461.4,941.4 M454.9,881.9 L467.9,881.9 M454.9,941.4 L467.9,941.4" stroke="#3a3a3a" stroke-width="1.6" fill="none"/>
<path d="M612.7,991.1 L612.7,1006 M606.2,991.1 L619.2,991.1 M606.2,1006 L619.2,1006" stroke="#3a3a3a" stroke-width="1.6" fill="none"/>
<polyline points="234.4,1011 239.4,841.2 272.2,761 310.1,788.5 347.9,851.3 385.7,875.9 461.4,911.8 537,997 612.7,999.2 688.4,1011" stroke="#2a2a2a" stroke-width="1.9" fill="none"/>
<circle cx="234.4" cy="1011" r="6.7" fill="#000"/>
<circle cx="239.4" cy="841.2" r="6.7" fill="#000"/>
<circle cx="272.2" cy="761" r="6.7" fill="#000"/>
<circle cx="310.1" cy="788.5" r="6.7" fill="#000"/>
<circle cx="347.9" cy="851.3" r="6.7" fill="#000"/>
<circle cx="385.7" cy="875.9" r="6.7" fill="#000"/>
<circle cx="461.4" cy="911.8" r="6.7" fill="#000"/>
<circle cx="537" cy="997" r="6.7" fill="#000"/>
<circle cx="612.7" cy="999.2" r="6.7" fill="#000"/>
<circle cx="688.4" cy="1011" r="6.7" fill="#000"/>
<text x="481.9" y="1173.6" font-size="28.5" font-weight="bold" text-anchor="middle" fill="#000" textLength="252.9" lengthAdjust="spacingAndGlyphs">Whole ventral view</text>
<path d="M230.3,1178.2 L230.3,1515.8 M215.8,1515.8 L736.7,1515.8" stroke="#000" stroke-width="2.9" fill="none"/>
<line x1="215.8" y1="1515.8" x2="230.3" y2="1515.8" stroke="#000" stroke-width="2.9"/>
<text x="209.8" y="1525.8" font-size="28.5" font-weight="bold" text-anchor="end">0</text>
<line x1="215.8" y1="1403.7" x2="230.3" y2="1403.7" stroke="#000" stroke-width="2.9"/>
<text x="199.1" y="1413.7" font-size="28.5" font-weight="bold" text-anchor="end" textLength="62.5" lengthAdjust="spacingAndGlyphs">2×10</text>
<text x="212" y="1405" font-size="19.5" font-weight="bold" text-anchor="end">8</text>
<line x1="215.8" y1="1291.7" x2="230.3" y2="1291.7" stroke="#000" stroke-width="2.9"/>
<text x="199.1" y="1301.7" font-size="28.5" font-weight="bold" text-anchor="end" textLength="62.5" lengthAdjust="spacingAndGlyphs">4×10</text>
<text x="212" y="1293" font-size="19.5" font-weight="bold" text-anchor="end">8</text>
<line x1="215.8" y1="1179.6" x2="230.3" y2="1179.6" stroke="#000" stroke-width="2.9"/>
<text x="199.1" y="1189.6" font-size="28.5" font-weight="bold" text-anchor="end" textLength="62.5" lengthAdjust="spacingAndGlyphs">6×10</text>
<text x="212" y="1180.9" font-size="19.5" font-weight="bold" text-anchor="end">8</text>
<line x1="230.3" y1="1515.8" x2="230.3" y2="1530.3" stroke="#000" stroke-width="2.9"/>
<text x="230.3" y="1561" font-size="28.5" font-weight="bold" text-anchor="middle" fill="#000">0</text>
<line x1="356.6" y1="1515.8" x2="356.6" y2="1530.3" stroke="#000" stroke-width="2.9"/>
<text x="356.6" y="1561" font-size="28.5" font-weight="bold" text-anchor="middle" fill="#000">50</text>
<line x1="482.8" y1="1515.8" x2="482.8" y2="1530.3" stroke="#000" stroke-width="2.9"/>
<text x="482.8" y="1561" font-size="28.5" font-weight="bold" text-anchor="middle" fill="#000">100</text>
<line x1="609" y1="1515.8" x2="609" y2="1530.3" stroke="#000" stroke-width="2.9"/>
<text x="609" y="1561" font-size="28.5" font-weight="bold" text-anchor="middle" fill="#000">150</text>
<line x1="735.3" y1="1515.8" x2="735.3" y2="1530.3" stroke="#000" stroke-width="2.9"/>
<text x="735.3" y="1561" font-size="28.5" font-weight="bold" text-anchor="middle" fill="#000">200</text>
<text x="482.3" y="1602" font-size="27.5" font-weight="bold" text-anchor="middle" fill="#000" textLength="139" lengthAdjust="spacingAndGlyphs">Time (min)</text>
<text x="0" y="0" transform="translate(83.5,1345.3) rotate(-90)" font-size="28" font-weight="bold" text-anchor="middle" textLength="313.7" lengthAdjust="spacingAndGlyphs">Total Radiant Efficiency</text>
<text x="0" y="0" transform="translate(116.8,1341) rotate(-90)" font-size="28" font-weight="bold" text-anchor="middle" textLength="199.5" lengthAdjust="spacingAndGlyphs">[p/s] / [µW/cm<tspan font-size="16.8" dy="-10.1">2</tspan><tspan dy="10.1">]</tspan></text>
<path d="M235.4,1290.7 L235.4,1330.8 M228.9,1290.7 L241.9,1290.7 M228.9,1330.8 L241.9,1330.8" stroke="#3a3a3a" stroke-width="1.6" fill="none"/>
<path d="M306.1,1263.2 L306.1,1312 M299.6,1263.2 L312.6,1263.2 M299.6,1312 L312.6,1312" stroke="#3a3a3a" stroke-width="1.6" fill="none"/>
<path d="M343.9,1270.6 L343.9,1344.1 M337.4,1270.6 L350.4,1270.6 M337.4,1344.1 L350.4,1344.1" stroke="#3a3a3a" stroke-width="1.6" fill="none"/>
<path d="M381.8,1325.3 L381.8,1373.4 M375.3,1325.3 L388.3,1325.3 M375.3,1373.4 L388.3,1373.4" stroke="#3a3a3a" stroke-width="1.6" fill="none"/>
<path d="M457.6,1375 L457.6,1431.9 M451.1,1375 L464.1,1375 M451.1,1431.9 L464.1,1431.9" stroke="#3a3a3a" stroke-width="1.6" fill="none"/>
<path d="M533.3,1467.6 L533.3,1489.7 M526.8,1467.6 L539.8,1467.6 M526.8,1489.7 L539.8,1489.7" stroke="#3a3a3a" stroke-width="1.6" fill="none"/>
<path d="M609,1457.6 L609,1492 M602.5,1457.6 L615.5,1457.6 M602.5,1492 L615.5,1492" stroke="#3a3a3a" stroke-width="1.6" fill="none"/>
<polyline points="230.3,1515.8 235.4,1310.2 268.2,1228.9 306.1,1286.6 343.9,1307.4 381.8,1349.4 457.6,1403.7 533.3,1479.4 609,1474.9 684.8,1502.4" stroke="#2a2a2a" stroke-width="1.9" fill="none"/>
<circle cx="230.3" cy="1515.8" r="6.7" fill="#000"/>
<circle cx="235.4" cy="1310.2" r="6.7" fill="#000"/>
<circle cx="268.2" cy="1228.9" r="6.7" fill="#000"/>
<circle cx="306.1" cy="1286.6" r="6.7" fill="#000"/>
<circle cx="343.9" cy="1307.4" r="6.7" fill="#000"/>
<circle cx="381.8" cy="1349.4" r="6.7" fill="#000"/>
<circle cx="457.6" cy="1403.7" r="6.7" fill="#000"/>
<circle cx="533.3" cy="1479.4" r="6.7" fill="#000"/>
<circle cx="609" cy="1474.9" r="6.7" fill="#000"/>
<circle cx="684.8" cy="1502.4" r="6.7" fill="#000"/>
<text x="767.3" y="665" font-size="46.5" font-weight="bold" text-anchor="start" fill="#000" textLength="29.5" lengthAdjust="spacingAndGlyphs">C</text>
<text x="1275.1" y="664.7" font-size="29" font-weight="bold" text-anchor="middle" fill="#000" textLength="366" lengthAdjust="spacingAndGlyphs">Anatomical dorsal regions</text>
<path d="M1011.4,671.5 L1011.4,1005.7 M996.9,1005.7 L1540.7,1005.7" stroke="#000" stroke-width="3.3" fill="none"/>
<line x1="996.9" y1="1005.7" x2="1011.4" y2="1005.7" stroke="#000" stroke-width="3.3"/>
<text x="989.9" y="1015.7" font-size="30" font-weight="bold" text-anchor="end">0</text>
<line x1="996.9" y1="894.9" x2="1011.4" y2="894.9" stroke="#000" stroke-width="3.3"/>
<text x="974.5" y="904.9" font-size="30" font-weight="bold" text-anchor="end" textLength="60.5" lengthAdjust="spacingAndGlyphs">5×10</text>
<text x="991" y="895.9" font-size="18" font-weight="bold" text-anchor="end">8</text>
<line x1="996.9" y1="784" x2="1011.4" y2="784" stroke="#000" stroke-width="3.3"/>
<text x="977.5" y="794" font-size="30" font-weight="bold" text-anchor="end" textLength="60.5" lengthAdjust="spacingAndGlyphs">1×10</text>
<text x="991" y="785" font-size="18" font-weight="bold" text-anchor="end">9</text>
<line x1="996.9" y1="673.2" x2="1011.4" y2="673.2" stroke="#000" stroke-width="3.3"/>
<text x="978.5" y="683.2" font-size="30" font-weight="bold" text-anchor="end" textLength="87.5" lengthAdjust="spacingAndGlyphs">1.5×10</text>
<text x="991" y="674.2" font-size="18" font-weight="bold" text-anchor="end">9</text>
<line x1="1044.8" y1="1005.7" x2="1044.8" y2="1020.2" stroke="#000" stroke-width="3.3"/>
<text x="1044.8" y="1048.4" font-size="28.5" font-weight="bold" text-anchor="middle" fill="#000">0</text>
<line x1="1095.9" y1="1005.7" x2="1095.9" y2="1020.2" stroke="#000" stroke-width="3.3"/>
<text x="1095.9" y="1048.4" font-size="28.5" font-weight="bold" text-anchor="middle" fill="#000">2</text>
<line x1="1146.9" y1="1005.7" x2="1146.9" y2="1020.2" stroke="#000" stroke-width="3.3"/>
<text x="1146.9" y="1048.4" font-size="28.5" font-weight="bold" text-anchor="middle" fill="#000">15</text>
<line x1="1198" y1="1005.7" x2="1198" y2="1020.2" stroke="#000" stroke-width="3.3"/>
<text x="1198" y="1048.4" font-size="28.5" font-weight="bold" text-anchor="middle" fill="#000">30</text>
<line x1="1249.1" y1="1005.7" x2="1249.1" y2="1020.2" stroke="#000" stroke-width="3.3"/>
<text x="1249.1" y="1048.4" font-size="28.5" font-weight="bold" text-anchor="middle" fill="#000">45</text>
<line x1="1300.1" y1="1005.7" x2="1300.1" y2="1020.2" stroke="#000" stroke-width="3.3"/>
<text x="1300.1" y="1048.4" font-size="28.5" font-weight="bold" text-anchor="middle" fill="#000">60</text>
<line x1="1351.2" y1="1005.7" x2="1351.2" y2="1020.2" stroke="#000" stroke-width="3.3"/>
<text x="1351.2" y="1048.4" font-size="28.5" font-weight="bold" text-anchor="middle" fill="#000">90</text>
<line x1="1402.3" y1="1005.7" x2="1402.3" y2="1020.2" stroke="#000" stroke-width="3.3"/>
<text x="1402.3" y="1048.4" font-size="28.5" font-weight="bold" text-anchor="middle" fill="#000">120</text>
<line x1="1453.4" y1="1005.7" x2="1453.4" y2="1020.2" stroke="#000" stroke-width="3.3"/>
<text x="1453.4" y="1048.4" font-size="28.5" font-weight="bold" text-anchor="middle" fill="#000">150</text>
<line x1="1504.4" y1="1005.7" x2="1504.4" y2="1020.2" stroke="#000" stroke-width="3.3"/>
<text x="1504.4" y="1048.4" font-size="28.5" font-weight="bold" text-anchor="middle" fill="#000">180</text>
<text x="1275.3" y="1090.6" font-size="27.5" font-weight="bold" text-anchor="middle" fill="#000" textLength="143.9" lengthAdjust="spacingAndGlyphs">Time (min)</text>
<text x="0" y="0" transform="translate(856.3,834.8) rotate(-90)" font-size="28" font-weight="bold" text-anchor="middle" textLength="311.3" lengthAdjust="spacingAndGlyphs">Total Radiant Efficiency</text>
<text x="0" y="0" transform="translate(890.8,830.5) rotate(-90)" font-size="28" font-weight="bold" text-anchor="middle" textLength="200.5" lengthAdjust="spacingAndGlyphs">[p/s] / [µW/cm<tspan font-size="16.8" dy="-10.1">2</tspan><tspan dy="10.1">]</tspan></text>
<path d="M1095.9,979.3 L1095.9,965.6 M1092.4,965.6 L1099.4,965.6" stroke="#4a8a2a" stroke-width="1.4" fill="none"/>
<path d="M1146.9,942.1 L1146.9,931.4 M1143.4,931.4 L1150.4,931.4" stroke="#4a8a2a" stroke-width="1.4" fill="none"/>
<path d="M1198,961.8 L1198,926.1 M1194.5,926.1 L1201.5,926.1" stroke="#4a8a2a" stroke-width="1.4" fill="none"/>
<path d="M1249.1,987.8 L1249.1,966.3 M1245.6,966.3 L1252.6,966.3" stroke="#4a8a2a" stroke-width="1.4" fill="none"/>
<path d="M1300.1,984 L1300.1,955.8 M1296.6,955.8 L1303.6,955.8" stroke="#4a8a2a" stroke-width="1.4" fill="none"/>
<path d="M1351.2,998.6 L1351.2,969.3 M1347.7,969.3 L1354.7,969.3" stroke="#4a8a2a" stroke-width="1.4" fill="none"/>
<path d="M1095.9,949.8 L1095.9,940.5 M1092.4,940.5 L1099.4,940.5" stroke="#e01010" stroke-width="1.4" fill="none"/>
<path d="M1146.9,955.8 L1146.9,950.5 M1143.4,950.5 L1150.4,950.5" stroke="#e01010" stroke-width="1.4" fill="none"/>
<path d="M1198,971.4 L1198,966 M1194.5,966 L1201.5,966" stroke="#e01010" stroke-width="1.4" fill="none"/>
<path d="M1249.1,961.8 L1249.1,958 M1245.6,958 L1252.6,958" stroke="#e01010" stroke-width="1.4" fill="none"/>
<path d="M1300.1,960.8 L1300.1,955 M1296.6,955 L1303.6,955" stroke="#e01010" stroke-width="1.4" fill="none"/>
<path d="M1351.2,964.9 L1351.2,960 M1347.7,960 L1354.7,960" stroke="#e01010" stroke-width="1.4" fill="none"/>
<path d="M1402.3,993.8 L1402.3,990.2 M1398.8,990.2 L1405.8,990.2" stroke="#e01010" stroke-width="1.4" fill="none"/>
<path d="M1453.4,998.1 L1453.4,988.6 M1449.9,988.6 L1456.9,988.6" stroke="#e01010" stroke-width="1.4" fill="none"/>
<path d="M1504.4,998.6 L1504.4,987.3 M1500.9,987.3 L1507.9,987.3" stroke="#e01010" stroke-width="1.4" fill="none"/>
<path d="M1095.9,975.3 L1095.9,962.5 M1092.4,962.5 L1099.4,962.5" stroke="#3030ff" stroke-width="1.4" fill="none"/>
<path d="M1146.9,903.3 L1146.9,891.3 M1143.4,891.3 L1150.4,891.3" stroke="#3030ff" stroke-width="1.4" fill="none"/>
<path d="M1198,959.7 L1198,922.8 M1194.5,922.8 L1201.5,922.8" stroke="#3030ff" stroke-width="1.4" fill="none"/>
<path d="M1249.1,908.5 L1249.1,892.8 M1245.6,892.8 L1252.6,892.8" stroke="#3030ff" stroke-width="1.4" fill="none"/>
<path d="M1300.1,950.2 L1300.1,924.2 M1296.6,924.2 L1303.6,924.2" stroke="#3030ff" stroke-width="1.4" fill="none"/>
<path d="M1351.2,982.7 L1351.2,958.5 M1347.7,958.5 L1354.7,958.5" stroke="#3030ff" stroke-width="1.4" fill="none"/>
<path d="M1095.9,849.3 L1095.9,820.1 M1092.4,820.1 L1099.4,820.1" stroke="#333333" stroke-width="1.4" fill="none"/>
<path d="M1146.9,825.2 L1146.9,785 M1143.4,785 L1150.4,785" stroke="#333333" stroke-width="1.4" fill="none"/>
<path d="M1198,870.5 L1198,831.2 M1194.5,831.2 L1201.5,831.2" stroke="#333333" stroke-width="1.4" fill="none"/>
<path d="M1249.1,912.7 L1249.1,892.2 M1245.6,892.2 L1252.6,892.2" stroke="#333333" stroke-width="1.4" fill="none"/>
<path d="M1300.1,912.6 L1300.1,890.4 M1296.6,890.4 L1303.6,890.4" stroke="#333333" stroke-width="1.4" fill="none"/>
<path d="M1351.2,918.5 L1351.2,895.6 M1347.7,895.6 L1354.7,895.6" stroke="#333333" stroke-width="1.4" fill="none"/>
<path d="M1402.3,961.3 L1402.3,933 M1398.8,933 L1405.8,933" stroke="#333333" stroke-width="1.4" fill="none"/>
<path d="M1453.4,978.9 L1453.4,962 M1449.9,962 L1456.9,962" stroke="#333333" stroke-width="1.4" fill="none"/>
<path d="M1504.4,996.1 L1504.4,980.5 M1500.9,980.5 L1507.9,980.5" stroke="#333333" stroke-width="1.4" fill="none"/>
<polyline points="1044.8,1006 1095.9,979.3 1146.9,942.1 1198,961.8 1249.1,987.8 1300.1,984 1351.2,998.6 1402.3,1005.6" stroke="#3d7f1c" stroke-width="3" fill="none" stroke-linejoin="round"/>
<polyline points="1044.8,1006 1095.9,949.8 1146.9,955.8 1198,971.4 1249.1,961.8 1300.1,960.8 1351.2,964.9 1402.3,993.8 1453.4,998.1 1504.4,998.6" stroke="#e00000" stroke-width="3" fill="none" stroke-linejoin="round"/>
<polyline points="1044.8,1006 1095.9,975.3 1146.9,903.3 1198,959.7 1249.1,908.5 1300.1,950.2 1351.2,982.7 1402.3,1005.6" stroke="#0000ff" stroke-width="3" fill="none" stroke-linejoin="round"/>
<polyline points="1044.8,1006 1095.9,849.3 1146.9,825.2 1198,870.5 1249.1,912.7 1300.1,912.6 1351.2,918.5 1402.3,961.3 1453.4,978.9 1504.4,996.1" stroke="#000000" stroke-width="3" fill="none" stroke-linejoin="round"/>
<line x1="1523" y1="709.1" x2="1560.3" y2="709.1" stroke="#e00000" stroke-width="3"/>
<text x="1580.5" y="718.3" font-size="28.5" text-anchor="start" fill="#000" textLength="144.9" lengthAdjust="spacingAndGlyphs">Head-Neck</text>
<line x1="1523" y1="753.3" x2="1560.3" y2="753.3" stroke="#3d7f1c" stroke-width="3"/>
<text x="1580.5" y="762.5" font-size="28.5" text-anchor="start" fill="#000" textLength="74.6" lengthAdjust="spacingAndGlyphs">Chest</text>
<line x1="1523" y1="798.1" x2="1560.3" y2="798.1" stroke="#0000ff" stroke-width="3"/>
<text x="1580.5" y="807.3" font-size="28.5" text-anchor="start" fill="#000" textLength="123.4" lengthAdjust="spacingAndGlyphs">Abdomen</text>
<line x1="1523" y1="842" x2="1560.3" y2="842" stroke="#000000" stroke-width="3"/>
<text x="1580.5" y="851.2" font-size="28.5" text-anchor="start" fill="#000" textLength="173.7" lengthAdjust="spacingAndGlyphs">Genitourinary</text>
<text x="1284.5" y="1173" font-size="27" font-weight="bold" text-anchor="middle" fill="#000" textLength="343" lengthAdjust="spacingAndGlyphs">Anatomical ventral regions</text>
<path d="M1007.9,1183.3 L1007.9,1520.4 M993.4,1520.4 L1564.2,1520.4" stroke="#000" stroke-width="4.0" fill="none"/>
<line x1="993.4" y1="1520.4" x2="1007.9" y2="1520.4" stroke="#000" stroke-width="4.0"/>
<text x="987.9" y="1530.4" font-size="27.5" font-weight="bold" text-anchor="end">0</text>
<line x1="993.4" y1="1408.7" x2="1007.9" y2="1408.7" stroke="#000" stroke-width="4.0"/>
<text x="976" y="1418.7" font-size="27.5" font-weight="bold" text-anchor="end" textLength="57.5" lengthAdjust="spacingAndGlyphs">5×10</text>
<text x="989.3" y="1409.7" font-size="18" font-weight="bold" text-anchor="end">8</text>
<line x1="993.4" y1="1297" x2="1007.9" y2="1297" stroke="#000" stroke-width="4.0"/>
<text x="976" y="1307" font-size="27.5" font-weight="bold" text-anchor="end" textLength="57.5" lengthAdjust="spacingAndGlyphs">1×10</text>
<text x="989.3" y="1298" font-size="18" font-weight="bold" text-anchor="end">9</text>
<line x1="993.4" y1="1185.3" x2="1007.9" y2="1185.3" stroke="#000" stroke-width="4.0"/>
<text x="976" y="1195.3" font-size="27.5" font-weight="bold" text-anchor="end" textLength="80" lengthAdjust="spacingAndGlyphs">1.5×10</text>
<text x="989.3" y="1186.3" font-size="18" font-weight="bold" text-anchor="end">9</text>
<line x1="1043.4" y1="1520.4" x2="1043.4" y2="1534.9" stroke="#000" stroke-width="4.0"/>
<text x="1043.4" y="1564.2" font-size="26" font-weight="bold" text-anchor="middle" fill="#000">0</text>
<line x1="1097.1" y1="1520.4" x2="1097.1" y2="1534.9" stroke="#000" stroke-width="4.0"/>
<text x="1097.1" y="1564.2" font-size="26" font-weight="bold" text-anchor="middle" fill="#000">2</text>
<line x1="1150.8" y1="1520.4" x2="1150.8" y2="1534.9" stroke="#000" stroke-width="4.0"/>
<text x="1150.8" y="1564.2" font-size="26" font-weight="bold" text-anchor="middle" fill="#000">15</text>
<line x1="1204.4" y1="1520.4" x2="1204.4" y2="1534.9" stroke="#000" stroke-width="4.0"/>
<text x="1204.4" y="1564.2" font-size="26" font-weight="bold" text-anchor="middle" fill="#000">30</text>
<line x1="1258.1" y1="1520.4" x2="1258.1" y2="1534.9" stroke="#000" stroke-width="4.0"/>
<text x="1258.1" y="1564.2" font-size="26" font-weight="bold" text-anchor="middle" fill="#000">45</text>
<line x1="1311.8" y1="1520.4" x2="1311.8" y2="1534.9" stroke="#000" stroke-width="4.0"/>
<text x="1311.8" y="1564.2" font-size="26" font-weight="bold" text-anchor="middle" fill="#000">60</text>
<line x1="1365.5" y1="1520.4" x2="1365.5" y2="1534.9" stroke="#000" stroke-width="4.0"/>
<text x="1365.5" y="1564.2" font-size="26" font-weight="bold" text-anchor="middle" fill="#000">90</text>
<line x1="1419.2" y1="1520.4" x2="1419.2" y2="1534.9" stroke="#000" stroke-width="4.0"/>
<text x="1419.2" y="1564.2" font-size="26" font-weight="bold" text-anchor="middle" fill="#000">120</text>
<line x1="1472.8" y1="1520.4" x2="1472.8" y2="1534.9" stroke="#000" stroke-width="4.0"/>
<text x="1472.8" y="1564.2" font-size="26" font-weight="bold" text-anchor="middle" fill="#000">150</text>
<line x1="1526.5" y1="1520.4" x2="1526.5" y2="1534.9" stroke="#000" stroke-width="4.0"/>
<text x="1526.5" y="1564.2" font-size="26" font-weight="bold" text-anchor="middle" fill="#000">180</text>
<text x="1285.8" y="1608.9" font-size="25.6" font-weight="bold" text-anchor="middle" fill="#000" textLength="133.4" lengthAdjust="spacingAndGlyphs">Time (min)</text>
<text x="0" y="0" transform="translate(872.9,1352.2) rotate(-90)" font-size="28" font-weight="bold" text-anchor="middle" textLength="313" lengthAdjust="spacingAndGlyphs">Total Radiant Efficiency</text>
<text x="0" y="0" transform="translate(906.5,1348.8) rotate(-90)" font-size="28" font-weight="bold" text-anchor="middle" textLength="200.5" lengthAdjust="spacingAndGlyphs">[p/s] / [µW/cm<tspan font-size="16.8" dy="-10.1">2</tspan><tspan dy="10.1">]</tspan></text>
<path d="M1097.1,1489.5 L1097.1,1475.6 M1093.6,1475.6 L1100.6,1475.6" stroke="#4a8a2a" stroke-width="1.4" fill="none"/>
<path d="M1150.8,1468.2 L1150.8,1446.9 M1147.3,1446.9 L1154.3,1446.9" stroke="#4a8a2a" stroke-width="1.4" fill="none"/>
<path d="M1204.4,1459.5 L1204.4,1434.7 M1200.9,1434.7 L1207.9,1434.7" stroke="#4a8a2a" stroke-width="1.4" fill="none"/>
<path d="M1258.1,1491.9 L1258.1,1473.7 M1254.6,1473.7 L1261.6,1473.7" stroke="#4a8a2a" stroke-width="1.4" fill="none"/>
<path d="M1311.8,1484.2 L1311.8,1463.4 M1308.3,1463.4 L1315.3,1463.4" stroke="#4a8a2a" stroke-width="1.4" fill="none"/>
<path d="M1365.5,1495.9 L1365.5,1474.8 M1362,1474.8 L1369,1474.8" stroke="#4a8a2a" stroke-width="1.4" fill="none"/>
<path d="M1419.2,1513 L1419.2,1505.9 M1415.7,1505.9 L1422.7,1505.9" stroke="#4a8a2a" stroke-width="1.4" fill="none"/>
<path d="M1472.8,1512.2 L1472.8,1503.7 M1469.3,1503.7 L1476.3,1503.7" stroke="#4a8a2a" stroke-width="1.4" fill="none"/>
<path d="M1526.5,1511.6 L1526.5,1504 M1523,1504 L1530,1504" stroke="#4a8a2a" stroke-width="1.4" fill="none"/>
<path d="M1097.1,1464.6 L1097.1,1455.1 M1093.6,1455.1 L1100.6,1455.1" stroke="#e01010" stroke-width="1.4" fill="none"/>
<path d="M1150.8,1470.7 L1150.8,1465 M1147.3,1465 L1154.3,1465" stroke="#e01010" stroke-width="1.4" fill="none"/>
<path d="M1204.4,1486.5 L1204.4,1478.4 M1200.9,1478.4 L1207.9,1478.4" stroke="#e01010" stroke-width="1.4" fill="none"/>
<path d="M1258.1,1476.5 L1258.1,1472 M1254.6,1472 L1261.6,1472" stroke="#e01010" stroke-width="1.4" fill="none"/>
<path d="M1311.8,1475.2 L1311.8,1470.7 M1308.3,1470.7 L1315.3,1470.7" stroke="#e01010" stroke-width="1.4" fill="none"/>
<path d="M1365.5,1479.3 L1365.5,1474 M1362,1474 L1369,1474" stroke="#e01010" stroke-width="1.4" fill="none"/>
<path d="M1419.2,1509.1 L1419.2,1505 M1415.7,1505 L1422.7,1505" stroke="#e01010" stroke-width="1.4" fill="none"/>
<path d="M1472.8,1509.5 L1472.8,1501.4 M1469.3,1501.4 L1476.3,1501.4" stroke="#e01010" stroke-width="1.4" fill="none"/>
<path d="M1526.5,1508.6 L1526.5,1499.5 M1523,1499.5 L1530,1499.5" stroke="#e01010" stroke-width="1.4" fill="none"/>
<path d="M1097.1,1448.6 L1097.1,1414.5 M1093.6,1414.5 L1100.6,1414.5" stroke="#3030ff" stroke-width="1.4" fill="none"/>
<path d="M1150.8,1378.2 L1150.8,1337.3 M1147.3,1337.3 L1154.3,1337.3" stroke="#3030ff" stroke-width="1.4" fill="none"/>
<path d="M1204.4,1422.4 L1204.4,1366.7 M1200.9,1366.7 L1207.9,1366.7" stroke="#3030ff" stroke-width="1.4" fill="none"/>
<path d="M1258.1,1381.4 L1258.1,1343.4 M1254.6,1343.4 L1261.6,1343.4" stroke="#3030ff" stroke-width="1.4" fill="none"/>
<path d="M1311.8,1424.6 L1311.8,1370.8 M1308.3,1370.8 L1315.3,1370.8" stroke="#3030ff" stroke-width="1.4" fill="none"/>
<path d="M1365.5,1446.3 L1365.5,1406.2 M1362,1406.2 L1369,1406.2" stroke="#3030ff" stroke-width="1.4" fill="none"/>
<path d="M1419.2,1488.7 L1419.2,1464.7 M1415.7,1464.7 L1422.7,1464.7" stroke="#3030ff" stroke-width="1.4" fill="none"/>
<path d="M1472.8,1483.3 L1472.8,1446.6 M1469.3,1446.6 L1476.3,1446.6" stroke="#3030ff" stroke-width="1.4" fill="none"/>
<path d="M1526.5,1490.5 L1526.5,1464 M1523,1464 L1530,1464" stroke="#3030ff" stroke-width="1.4" fill="none"/>
<path d="M1097.1,1362.6 L1097.1,1333.7 M1093.6,1333.7 L1100.6,1333.7" stroke="#333333" stroke-width="1.4" fill="none"/>
<path d="M1150.8,1338.9 L1150.8,1298.3 M1147.3,1298.3 L1154.3,1298.3" stroke="#333333" stroke-width="1.4" fill="none"/>
<path d="M1204.4,1386.4 L1204.4,1345.1 M1200.9,1345.1 L1207.9,1345.1" stroke="#333333" stroke-width="1.4" fill="none"/>
<path d="M1258.1,1426.6 L1258.1,1406.1 M1254.6,1406.1 L1261.6,1406.1" stroke="#333333" stroke-width="1.4" fill="none"/>
<path d="M1311.8,1426 L1311.8,1404.4 M1308.3,1404.4 L1315.3,1404.4" stroke="#333333" stroke-width="1.4" fill="none"/>
<path d="M1365.5,1432.7 L1365.5,1409.3 M1362,1409.3 L1369,1409.3" stroke="#333333" stroke-width="1.4" fill="none"/>
<path d="M1419.2,1472.4 L1419.2,1446.6 M1415.7,1446.6 L1422.7,1446.6" stroke="#333333" stroke-width="1.4" fill="none"/>
<path d="M1472.8,1491.4 L1472.8,1475.5 M1469.3,1475.5 L1476.3,1475.5" stroke="#333333" stroke-width="1.4" fill="none"/>
<path d="M1526.5,1505 L1526.5,1492.9 M1523,1492.9 L1530,1492.9" stroke="#333333" stroke-width="1.4" fill="none"/>
<polyline points="1043.4,1520 1097.1,1489.5 1150.8,1468.2 1204.4,1459.5 1258.1,1491.9 1311.8,1484.2 1365.5,1495.9 1419.2,1513 1472.8,1512.2 1526.5,1511.6" stroke="#3d7f1c" stroke-width="3" fill="none" stroke-linejoin="round"/>
<polyline points="1043.4,1520 1097.1,1464.6 1150.8,1470.7 1204.4,1486.5 1258.1,1476.5 1311.8,1475.2 1365.5,1479.3 1419.2,1509.1 1472.8,1509.5 1526.5,1508.6" stroke="#e00000" stroke-width="3" fill="none" stroke-linejoin="round"/>
<polyline points="1043.4,1520 1097.1,1448.6 1150.8,1378.2 1204.4,1422.4 1258.1,1381.4 1311.8,1424.6 1365.5,1446.3 1419.2,1488.7 1472.8,1483.3 1526.5,1490.5" stroke="#0000ff" stroke-width="3" fill="none" stroke-linejoin="round"/>
<polyline points="1043.4,1520 1097.1,1362.6 1150.8,1338.9 1204.4,1386.4 1258.1,1426.6 1311.8,1426 1365.5,1432.7 1419.2,1472.4 1472.8,1491.4 1526.5,1505" stroke="#000000" stroke-width="3" fill="none" stroke-linejoin="round"/>
<line x1="1533.5" y1="1254.5" x2="1568.4" y2="1254.5" stroke="#e00000" stroke-width="3"/>
<text x="1586.8" y="1263.2" font-size="26.7" text-anchor="start" fill="#000" textLength="133.3" lengthAdjust="spacingAndGlyphs">Head-Neck</text>
<line x1="1533.5" y1="1294" x2="1568.4" y2="1294" stroke="#3d7f1c" stroke-width="3"/>
<text x="1586.8" y="1302.7" font-size="26.7" text-anchor="start" fill="#000" textLength="69.7" lengthAdjust="spacingAndGlyphs">Chest</text>
<line x1="1533.5" y1="1336.4" x2="1568.4" y2="1336.4" stroke="#0000ff" stroke-width="3"/>
<text x="1586.8" y="1345.1" font-size="26.7" text-anchor="start" fill="#000" textLength="114" lengthAdjust="spacingAndGlyphs">Abdomen</text>
<line x1="1533.5" y1="1382.2" x2="1568.4" y2="1382.2" stroke="#000000" stroke-width="3"/>
<text x="1586.8" y="1390.9" font-size="26.7" text-anchor="start" fill="#000" textLength="160.2" lengthAdjust="spacingAndGlyphs">Genitourinary</text>
</svg>
</body></html>
